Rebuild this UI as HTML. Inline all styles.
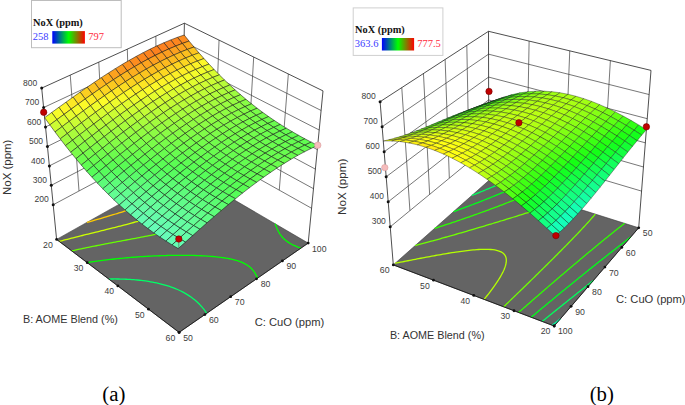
<!DOCTYPE html>
<html><head><meta charset="utf-8"><style>
html,body{margin:0;padding:0;background:#fff;width:685px;height:405px;overflow:hidden;font-family:"Liberation Sans",sans-serif;}
svg{display:block;}
</style></head><body>
<svg width="685" height="405" viewBox="0 0 685 405" font-family="Liberation Sans, sans-serif">
<polygon points="56.60,239.40 179.10,332.40 308.20,243.10 181.70,169.20" fill="#646464" stroke="#3a3a3a" stroke-width="0.6"/>
<line x1="53.19" y1="204.78" x2="182.32" y2="135.80" stroke="#3c3c3c" stroke-width="0.7"/>
<line x1="182.32" y1="135.80" x2="311.59" y2="208.28" stroke="#3c3c3c" stroke-width="0.7"/>
<line x1="51.28" y1="185.34" x2="182.66" y2="117.03" stroke="#3c3c3c" stroke-width="0.7"/>
<line x1="182.66" y1="117.03" x2="313.49" y2="188.71" stroke="#3c3c3c" stroke-width="0.7"/>
<line x1="49.36" y1="165.89" x2="183.01" y2="98.26" stroke="#3c3c3c" stroke-width="0.7"/>
<line x1="183.01" y1="98.26" x2="315.39" y2="169.15" stroke="#3c3c3c" stroke-width="0.7"/>
<line x1="47.45" y1="146.44" x2="183.36" y2="79.50" stroke="#3c3c3c" stroke-width="0.7"/>
<line x1="183.36" y1="79.50" x2="317.29" y2="149.59" stroke="#3c3c3c" stroke-width="0.7"/>
<line x1="45.53" y1="126.99" x2="183.71" y2="60.73" stroke="#3c3c3c" stroke-width="0.7"/>
<line x1="183.71" y1="60.73" x2="319.20" y2="130.03" stroke="#3c3c3c" stroke-width="0.7"/>
<line x1="43.62" y1="107.55" x2="184.05" y2="41.97" stroke="#3c3c3c" stroke-width="0.7"/>
<line x1="184.05" y1="41.97" x2="321.10" y2="110.46" stroke="#3c3c3c" stroke-width="0.7"/>
<line x1="79.02" y1="190.99" x2="70.24" y2="75.12" stroke="#3c3c3c" stroke-width="0.7"/>
<line x1="104.84" y1="177.19" x2="98.78" y2="62.14" stroke="#3c3c3c" stroke-width="0.7"/>
<line x1="130.67" y1="163.39" x2="127.32" y2="49.16" stroke="#3c3c3c" stroke-width="0.7"/>
<line x1="156.49" y1="149.59" x2="155.86" y2="36.18" stroke="#3c3c3c" stroke-width="0.7"/>
<line x1="214.63" y1="153.92" x2="219.05" y2="40.12" stroke="#3c3c3c" stroke-width="0.7"/>
<line x1="246.95" y1="172.04" x2="253.70" y2="57.05" stroke="#3c3c3c" stroke-width="0.7"/>
<line x1="279.27" y1="190.16" x2="288.35" y2="73.98" stroke="#3c3c3c" stroke-width="0.7"/>
<line x1="41.70" y1="88.10" x2="184.40" y2="23.20" stroke="#222" stroke-width="0.8"/>
<line x1="184.40" y1="23.20" x2="323.00" y2="90.90" stroke="#222" stroke-width="0.8"/>
<line x1="56.60" y1="239.40" x2="41.70" y2="88.10" stroke="#222" stroke-width="0.8"/>
<line x1="181.70" y1="169.20" x2="184.40" y2="23.20" stroke="#222" stroke-width="0.8"/>
<line x1="308.20" y1="243.10" x2="323.00" y2="90.90" stroke="#222" stroke-width="0.8"/>
<polyline points="206.73,313.29 205.92,312.10 204.91,310.69 203.78,309.21 202.88,308.08 201.47,306.44 200.49,305.37 198.98,303.80 197.93,302.77 196.31,301.28 194.61,299.83 192.85,298.43 191.64,297.53 189.96,296.34 188.47,295.35 186.47,294.11 184.40,292.91 182.52,291.90 180.79,291.03 178.67,290.03 176.97,289.28 175.38,288.62 172.94,287.66 171.26,287.06 169.56,286.47 167.81,285.90 166.04,285.36 164.01,284.78 162.08,284.26 160.21,283.79 158.41,283.36 156.61,282.96 154.62,282.54 152.59,282.15 150.52,281.78 148.56,281.45 147.03,281.22 145.19,280.95 142.99,280.65 141.19,280.43 139.61,280.25 137.31,280.02 135.66,279.86 133.78,279.70 131.69,279.55 130.16,279.44 127.83,279.31 126.44,279.24 124.08,279.14 122.61,279.09 120.43,279.03 118.69,279.00 116.86,278.98 114.64,278.97 113.27,278.98 111.07,279.00 109.07,279.03 108.81,279.04" fill="none" stroke="#00ff66" stroke-width="1.3"/>
<polyline points="257.53,278.15 256.97,276.85 256.37,275.58 255.73,274.34 255.03,273.15 254.28,271.99 253.46,270.87 252.29,269.47 251.16,268.27 249.58,266.86 248.43,265.96 246.58,264.71 244.58,263.58 243.16,262.88 240.90,261.91 239.31,261.32 237.41,260.70 235.08,260.02 233.29,259.56 231.44,259.13 229.55,258.74 227.61,258.38 225.62,258.04 223.78,257.76 222.13,257.52 220.48,257.31 218.36,257.05 216.20,256.82 214.36,256.64 212.88,256.51 210.66,256.32 208.55,256.17 207.13,256.07 204.93,255.94 202.96,255.83 201.40,255.75 199.01,255.65 197.57,255.60 195.38,255.52 193.62,255.47 191.69,255.42 189.74,255.39 187.94,255.36 185.93,255.34 184.13,255.32 182.17,255.31 180.27,255.31 178.47,255.32 176.35,255.33 174.82,255.35 172.42,255.38 171.02,255.41 168.84,255.45 166.96,255.49 165.31,255.54 162.98,255.61 161.45,255.66 159.52,255.73 157.25,255.82 155.83,255.88 153.83,255.97 151.57,256.08 150.09,256.15 148.23,256.25 146.02,256.38 144.23,256.49 142.72,256.58 140.55,256.72 138.38,256.87 136.71,256.99 135.16,257.11 133.03,257.27 130.91,257.44 128.97,257.61 127.40,257.74 125.67,257.90 123.59,258.09 121.53,258.29 119.48,258.49 117.72,258.67 116.06,258.84 114.40,259.02 112.39,259.24 110.39,259.47 108.40,259.71 106.42,259.95 104.45,260.19 102.49,260.44 100.61,260.69 98.83,260.93 97.02,261.18 95.20,261.44 93.36,261.70 91.50,261.98 89.63,262.26 87.73,262.56 87.21,262.64" fill="none" stroke="#00ff00" stroke-width="1.3"/>
<polyline points="275.18,223.81 275.61,225.06 276.09,226.33 276.59,227.59 277.12,228.82 277.69,230.03 278.30,231.22 278.95,232.39 279.64,233.53 280.38,234.63 281.16,235.71 282.00,236.75 283.36,238.25 284.34,239.20 285.91,240.56 287.03,241.41 288.81,242.63 290.72,243.76 292.74,244.81 294.15,245.47 296.34,246.41 297.98,247.04 300.19,247.83 300.98,248.09" fill="none" stroke="#00ff00" stroke-width="1.3"/>
<polyline points="231.70,198.41 230.91,199.48 230.10,200.53 229.04,201.83 227.95,203.10 227.05,204.10 225.90,205.30 224.65,206.54 223.64,207.48 222.08,208.87 220.47,210.20 219.32,211.10 217.58,212.38 215.77,213.63 213.90,214.83 211.96,216.00 209.97,217.13 207.91,218.22 205.79,219.28 204.35,219.96 202.15,220.96 200.64,221.60 198.35,222.54 196.79,223.14 194.42,224.03 192.81,224.60 191.06,225.20 188.72,225.97 187.05,226.50 185.36,227.02 183.19,227.66 181.09,228.26 179.36,228.74 177.61,229.21 175.86,229.67 173.90,230.17 171.70,230.72 169.63,231.22 167.83,231.64 166.02,232.06 164.21,232.47 162.39,232.88 160.57,233.28 158.73,233.67 156.90,234.06 155.03,234.45 153.02,234.86 151.02,235.27 149.03,235.67 147.04,236.07 145.06,236.46 143.08,236.84 141.19,237.21 139.33,237.56 137.48,237.92 135.62,238.27 133.77,238.62 131.91,238.97 130.06,239.32 128.21,239.66 126.36,240.01 124.52,240.35 122.67,240.70 120.83,241.04 118.99,241.39 117.15,241.73 115.32,242.08 113.33,242.45 111.31,242.83 109.28,243.22 107.24,243.61 105.30,243.98 103.49,244.33 101.68,244.68 99.88,245.03 98.09,245.38 96.30,245.74 94.51,246.09 92.63,246.47 90.49,246.90 88.33,247.35 86.53,247.72 84.77,248.08 83.02,248.45 81.27,248.82 79.49,249.20 77.23,249.70 75.20,250.14 73.48,250.52 71.76,250.91 71.76,250.91" fill="none" stroke="#66ff00" stroke-width="1.3"/>
<polyline points="209.79,185.61 208.38,187.02 207.41,187.94 206.11,189.14 204.91,190.21 203.37,191.52 202.28,192.41 200.65,193.69 199.45,194.60 197.83,195.78 196.08,197.00 194.28,198.20 192.45,199.36 190.57,200.51 188.66,201.63 186.70,202.72 184.71,203.80 182.68,204.84 180.61,205.87 179.22,206.54 177.10,207.53 174.94,208.49 173.49,209.12 171.28,210.05 169.70,210.70 167.54,211.56 165.80,212.23 163.72,213.01 162.18,213.58 159.84,214.42 158.27,214.97 155.90,215.78 154.31,216.31 152.70,216.83 150.29,217.61 148.67,218.12 146.99,218.64 144.59,219.36 142.95,219.85 141.30,220.34 138.87,221.04 137.16,221.53 135.49,221.99 133.67,222.50 131.31,223.15 129.63,223.60 127.95,224.05 126.10,224.54 123.74,225.16 122.05,225.60 120.36,226.04 118.66,226.48 116.25,227.09 114.43,227.55 112.73,227.98 111.04,228.40 108.94,228.93 106.80,229.46 105.10,229.88 103.41,230.30 101.65,230.73 99.22,231.33 97.48,231.76 95.79,232.18 94.10,232.59 91.87,233.14 89.89,233.63 88.21,234.04 86.53,234.46 84.44,234.98 82.34,235.50 80.67,235.91 79.00,236.33 76.87,236.87 74.85,237.38 73.19,237.80 71.54,238.22 69.11,238.84 67.42,239.28 65.78,239.70 63.81,240.22 61.70,240.77 60.07,241.21 59.26,241.42" fill="none" stroke="#ccff00" stroke-width="1.3"/>
<polyline points="193.59,176.14 192.59,177.02 191.06,178.32 190.02,179.18 188.44,180.45 186.81,181.69 185.71,182.52 184.03,183.73 182.32,184.93 180.95,185.86 179.39,186.88 177.59,188.03 175.75,189.16 173.89,190.26 171.99,191.35 170.07,192.42 168.11,193.47 166.13,194.51 164.50,195.33 162.76,196.19 160.71,197.18 158.63,198.15 157.00,198.89 155.11,199.73 152.96,200.66 151.52,201.27 149.35,202.17 147.15,203.06 145.67,203.64 143.44,204.51 141.95,205.08 139.69,205.92 138.17,206.48 135.89,207.30 134.36,207.84 132.05,208.64 130.51,209.17 128.42,209.88 126.62,210.48 125.06,210.99 122.71,211.76 121.13,212.26 118.89,212.97 117.18,213.51 115.59,214.00 113.21,214.73 111.62,215.22 109.88,215.74 107.62,216.42 106.02,216.89 104.05,217.47 102.01,218.07 100.41,218.54 98.30,219.15 96.39,219.70 94.78,220.16 92.60,220.78 90.76,221.30 89.15,221.76 86.91,222.39 86.91,222.39" fill="none" stroke="#ffcc00" stroke-width="1.3"/>
<polyline points="172.38,174.43 171.15,175.28 169.43,176.44 167.69,177.58 165.91,178.71 164.35,179.68 162.90,180.55 161.05,181.64 159.18,182.71 157.28,183.76 155.36,184.80 153.42,185.83 152.11,186.50 150.13,187.50 148.13,188.48 146.10,189.46 144.06,190.41 143.17,190.82" fill="none" stroke="#ff6600" stroke-width="1.3"/>
<line x1="56.60" y1="239.40" x2="179.10" y2="332.40" stroke="#111" stroke-width="0.8"/>
<line x1="179.10" y1="332.40" x2="308.20" y2="243.10" stroke="#111" stroke-width="0.8"/>
<polygon points="177.45,37.33 182.35,43.45 189.06,41.08 184.18,35.00" fill="#fc8c1f" stroke="#141414" stroke-width="0.6" stroke-opacity="0.9"/>
<polygon points="182.35,43.45 187.29,49.45 193.99,47.03 189.06,41.08" fill="#fca81f" stroke="#141414" stroke-width="0.6" stroke-opacity="0.9"/>
<polygon points="170.67,39.91 175.59,46.08 182.35,43.45 177.45,37.33" fill="#fc861f" stroke="#141414" stroke-width="0.6" stroke-opacity="0.9"/>
<polygon points="187.29,49.45 192.27,55.31 198.95,52.85 193.99,47.03" fill="#fcc41f" stroke="#141414" stroke-width="0.6" stroke-opacity="0.9"/>
<polygon points="175.59,46.08 180.55,52.12 187.29,49.45 182.35,43.45" fill="#fca31f" stroke="#141414" stroke-width="0.6" stroke-opacity="0.9"/>
<polygon points="163.86,42.75 168.79,48.96 175.59,46.08 170.67,39.91" fill="#fc831f" stroke="#141414" stroke-width="0.6" stroke-opacity="0.9"/>
<polygon points="192.27,55.31 197.30,61.04 203.97,58.54 198.95,52.85" fill="#fcde23" stroke="#141414" stroke-width="0.6" stroke-opacity="0.9"/>
<polygon points="180.55,52.12 185.54,58.03 192.27,55.31 187.29,49.45" fill="#fcbf1f" stroke="#141414" stroke-width="0.6" stroke-opacity="0.9"/>
<polygon points="168.79,48.96 173.76,55.05 180.55,52.12 175.59,46.08" fill="#fca01f" stroke="#141414" stroke-width="0.6" stroke-opacity="0.9"/>
<polygon points="157.00,45.82 161.96,52.08 168.79,48.96 163.86,42.75" fill="#fc811f" stroke="#141414" stroke-width="0.6" stroke-opacity="0.9"/>
<polygon points="197.30,61.04 202.37,66.65 209.03,64.10 203.97,58.54" fill="#fcf728" stroke="#141414" stroke-width="0.6" stroke-opacity="0.9"/>
<polygon points="185.54,58.03 190.58,63.81 197.30,61.04 192.27,55.31" fill="#fcd922" stroke="#141414" stroke-width="0.6" stroke-opacity="0.9"/>
<polygon points="173.76,55.05 178.78,61.00 185.54,58.03 180.55,52.12" fill="#fcbb1f" stroke="#141414" stroke-width="0.6" stroke-opacity="0.9"/>
<polygon points="161.96,52.08 166.94,58.22 173.76,55.05 168.79,48.96" fill="#fc9e1f" stroke="#141414" stroke-width="0.6" stroke-opacity="0.9"/>
<polygon points="202.37,66.65 207.49,72.11 214.14,69.53 209.03,64.10" fill="#ecfc2c" stroke="#141414" stroke-width="0.6" stroke-opacity="0.9"/>
<polygon points="150.12,49.12 155.09,55.43 161.96,52.08 157.00,45.82" fill="#fc811f" stroke="#141414" stroke-width="0.6" stroke-opacity="0.9"/>
<polygon points="190.58,63.81 195.67,69.45 202.37,66.65 197.30,61.04" fill="#fcf227" stroke="#141414" stroke-width="0.6" stroke-opacity="0.9"/>
<polygon points="178.78,61.00 183.83,66.82 190.58,63.81 185.54,58.03" fill="#fcd621" stroke="#141414" stroke-width="0.6" stroke-opacity="0.9"/>
<polygon points="166.94,58.22 171.97,64.21 178.78,61.00 173.76,55.05" fill="#fcba1f" stroke="#141414" stroke-width="0.6" stroke-opacity="0.9"/>
<polygon points="207.49,72.11 212.67,77.45 219.30,74.83 214.14,69.53" fill="#d9fc31" stroke="#141414" stroke-width="0.6" stroke-opacity="0.9"/>
<polygon points="155.09,55.43 160.09,61.61 166.94,58.22 161.96,52.08" fill="#fc9e1f" stroke="#141414" stroke-width="0.6" stroke-opacity="0.9"/>
<polygon points="195.67,69.45 200.80,74.96 207.49,72.11 202.37,66.65" fill="#f1fc2b" stroke="#141414" stroke-width="0.6" stroke-opacity="0.9"/>
<polygon points="143.21,52.63 148.19,59.00 155.09,55.43 150.12,49.12" fill="#fc831f" stroke="#141414" stroke-width="0.6" stroke-opacity="0.9"/>
<polygon points="183.83,66.82 188.93,72.51 195.67,69.45 190.58,63.81" fill="#fcef26" stroke="#141414" stroke-width="0.6" stroke-opacity="0.9"/>
<polygon points="171.97,64.21 177.04,70.08 183.83,66.82 178.78,61.00" fill="#fcd421" stroke="#141414" stroke-width="0.6" stroke-opacity="0.9"/>
<polygon points="212.67,77.45 217.89,82.65 224.51,79.99 219.30,74.83" fill="#c7fc35" stroke="#141414" stroke-width="0.6" stroke-opacity="0.9"/>
<polygon points="160.09,61.61 165.13,67.66 171.97,64.21 166.94,58.22" fill="#fcba1f" stroke="#141414" stroke-width="0.6" stroke-opacity="0.9"/>
<polygon points="200.80,74.96 205.99,80.33 212.67,77.45 207.49,72.11" fill="#ddfc30" stroke="#141414" stroke-width="0.6" stroke-opacity="0.9"/>
<polygon points="148.19,59.00 153.21,65.23 160.09,61.61 155.09,55.43" fill="#fca01f" stroke="#141414" stroke-width="0.6" stroke-opacity="0.9"/>
<polygon points="188.93,72.51 194.07,78.06 200.80,74.96 195.67,69.45" fill="#f4fc2b" stroke="#141414" stroke-width="0.6" stroke-opacity="0.9"/>
<polygon points="136.27,56.36 141.27,62.77 148.19,59.00 143.21,52.63" fill="#fc871f" stroke="#141414" stroke-width="0.6" stroke-opacity="0.9"/>
<polygon points="177.04,70.08 182.15,75.81 188.93,72.51 183.83,66.82" fill="#fced26" stroke="#141414" stroke-width="0.6" stroke-opacity="0.9"/>
<polygon points="217.89,82.65 223.18,87.72 229.79,85.03 224.51,79.99" fill="#b7fc39" stroke="#141414" stroke-width="0.6" stroke-opacity="0.9"/>
<polygon points="165.13,67.66 170.21,73.57 177.04,70.08 171.97,64.21" fill="#fcd521" stroke="#141414" stroke-width="0.6" stroke-opacity="0.9"/>
<polygon points="205.99,80.33 211.23,85.57 217.89,82.65 212.67,77.45" fill="#cbfc34" stroke="#141414" stroke-width="0.6" stroke-opacity="0.9"/>
<polygon points="153.21,65.23 158.26,71.32 165.13,67.66 160.09,61.61" fill="#fcbc1f" stroke="#141414" stroke-width="0.6" stroke-opacity="0.9"/>
<polygon points="194.07,78.06 199.27,83.47 205.99,80.33 200.80,74.96" fill="#e0fc2f" stroke="#141414" stroke-width="0.6" stroke-opacity="0.9"/>
<polygon points="141.27,62.77 146.30,69.05 153.21,65.23 148.19,59.00" fill="#fca41f" stroke="#141414" stroke-width="0.6" stroke-opacity="0.9"/>
<polygon points="182.15,75.81 187.30,81.40 194.07,78.06 188.93,72.51" fill="#f5fc2a" stroke="#141414" stroke-width="0.6" stroke-opacity="0.9"/>
<polygon points="129.31,60.27 134.33,66.74 141.27,62.77 136.27,56.36" fill="#fc8c1f" stroke="#141414" stroke-width="0.6" stroke-opacity="0.9"/>
<polygon points="170.21,73.57 175.33,79.35 182.15,75.81 177.04,70.08" fill="#fcee26" stroke="#141414" stroke-width="0.6" stroke-opacity="0.9"/>
<polygon points="223.18,87.72 228.52,92.65 235.12,89.92 229.79,85.03" fill="#a9fc3c" stroke="#141414" stroke-width="0.6" stroke-opacity="0.9"/>
<polygon points="211.23,85.57 216.52,90.68 223.18,87.72 217.89,82.65" fill="#bbfc38" stroke="#141414" stroke-width="0.6" stroke-opacity="0.9"/>
<polygon points="158.26,71.32 163.35,77.28 170.21,73.57 165.13,67.66" fill="#fcd721" stroke="#141414" stroke-width="0.6" stroke-opacity="0.9"/>
<polygon points="199.27,83.47 204.51,88.75 211.23,85.57 205.99,80.33" fill="#cefc33" stroke="#141414" stroke-width="0.6" stroke-opacity="0.9"/>
<polygon points="146.30,69.05 151.37,75.20 158.26,71.32 153.21,65.23" fill="#fcc01f" stroke="#141414" stroke-width="0.6" stroke-opacity="0.9"/>
<polygon points="187.30,81.40 192.51,86.86 199.27,83.47 194.07,78.06" fill="#e1fc2f" stroke="#141414" stroke-width="0.6" stroke-opacity="0.9"/>
<polygon points="134.33,66.74 139.37,73.08 146.30,69.05 141.27,62.77" fill="#fca91f" stroke="#141414" stroke-width="0.6" stroke-opacity="0.9"/>
<polygon points="175.33,79.35 180.50,84.99 187.30,81.40 182.15,75.81" fill="#f5fc2a" stroke="#141414" stroke-width="0.6" stroke-opacity="0.9"/>
<polygon points="228.52,92.65 233.93,97.45 240.52,94.69 235.12,89.92" fill="#9dfc3f" stroke="#141414" stroke-width="0.6" stroke-opacity="0.9"/>
<polygon points="163.35,77.28 168.49,83.11 175.33,79.35 170.21,73.57" fill="#fcf026" stroke="#141414" stroke-width="0.6" stroke-opacity="0.9"/>
<polygon points="122.33,64.37 127.36,70.90 134.33,66.74 129.31,60.27" fill="#fc921f" stroke="#141414" stroke-width="0.6" stroke-opacity="0.9"/>
<polygon points="216.52,90.68 221.87,95.64 228.52,92.65 223.18,87.72" fill="#adfc3b" stroke="#141414" stroke-width="0.6" stroke-opacity="0.9"/>
<polygon points="204.51,88.75 209.81,93.89 216.52,90.68 211.23,85.57" fill="#befc37" stroke="#141414" stroke-width="0.6" stroke-opacity="0.9"/>
<polygon points="151.37,75.20 156.47,81.21 163.35,77.28 158.26,71.32" fill="#fcdb22" stroke="#141414" stroke-width="0.6" stroke-opacity="0.9"/>
<polygon points="192.51,86.86 197.76,92.18 204.51,88.75 199.27,83.47" fill="#cffc33" stroke="#141414" stroke-width="0.6" stroke-opacity="0.9"/>
<polygon points="139.37,73.08 144.45,79.27 151.37,75.20 146.30,69.05" fill="#fcc51f" stroke="#141414" stroke-width="0.6" stroke-opacity="0.9"/>
<polygon points="180.50,84.99 185.71,90.49 192.51,86.86 187.30,81.40" fill="#e1fc2f" stroke="#141414" stroke-width="0.6" stroke-opacity="0.9"/>
<polygon points="233.93,97.45 239.40,102.11 245.99,99.32 240.52,94.69" fill="#92fc42" stroke="#141414" stroke-width="0.6" stroke-opacity="0.9"/>
<polygon points="127.36,70.90 132.42,77.28 139.37,73.08 134.33,66.74" fill="#fcaf1f" stroke="#141414" stroke-width="0.6" stroke-opacity="0.9"/>
<polygon points="168.49,83.11 173.66,88.79 180.50,84.99 175.33,79.35" fill="#f3fc2b" stroke="#141414" stroke-width="0.6" stroke-opacity="0.9"/>
<polygon points="221.87,95.64 227.28,100.48 233.93,97.45 228.52,92.65" fill="#a1fc3e" stroke="#141414" stroke-width="0.6" stroke-opacity="0.9"/>
<polygon points="156.47,81.21 161.61,87.08 168.49,83.11 163.35,77.28" fill="#fcf327" stroke="#141414" stroke-width="0.6" stroke-opacity="0.9"/>
<polygon points="209.81,93.89 215.17,98.90 221.87,95.64 216.52,90.68" fill="#b0fc3a" stroke="#141414" stroke-width="0.6" stroke-opacity="0.9"/>
<polygon points="115.34,68.64 120.38,75.22 127.36,70.90 122.33,64.37" fill="#fc991f" stroke="#141414" stroke-width="0.6" stroke-opacity="0.9"/>
<polygon points="197.76,92.18 203.07,97.36 209.81,93.89 204.51,88.75" fill="#bffc37" stroke="#141414" stroke-width="0.6" stroke-opacity="0.9"/>
<polygon points="144.45,79.27 149.56,85.33 156.47,81.21 151.37,75.20" fill="#fce023" stroke="#141414" stroke-width="0.6" stroke-opacity="0.9"/>
<polygon points="185.71,90.49 190.97,95.85 197.76,92.18 192.51,86.86" fill="#cffc33" stroke="#141414" stroke-width="0.6" stroke-opacity="0.9"/>
<polygon points="132.42,77.28 137.51,83.53 144.45,79.27 139.37,73.08" fill="#fccb1f" stroke="#141414" stroke-width="0.6" stroke-opacity="0.9"/>
<polygon points="239.40,102.11 244.94,106.64 251.52,103.82 245.99,99.32" fill="#88fc45" stroke="#141414" stroke-width="0.6" stroke-opacity="0.9"/>
<polygon points="173.66,88.79 178.88,94.34 185.71,90.49 180.50,84.99" fill="#dffc2f" stroke="#141414" stroke-width="0.6" stroke-opacity="0.9"/>
<polygon points="227.28,100.48 232.76,105.17 239.40,102.11 233.93,97.45" fill="#96fc41" stroke="#141414" stroke-width="0.6" stroke-opacity="0.9"/>
<polygon points="120.38,75.22 125.45,81.67 132.42,77.28 127.36,70.90" fill="#fcb71f" stroke="#141414" stroke-width="0.6" stroke-opacity="0.9"/>
<polygon points="161.61,87.08 166.80,92.81 173.66,88.79 168.49,83.11" fill="#effc2c" stroke="#141414" stroke-width="0.6" stroke-opacity="0.9"/>
<polygon points="215.17,98.90 220.59,103.77 227.28,100.48 221.87,95.64" fill="#a3fc3e" stroke="#141414" stroke-width="0.6" stroke-opacity="0.9"/>
<polygon points="203.07,97.36 208.43,102.41 215.17,98.90 209.81,93.89" fill="#b1fc3a" stroke="#141414" stroke-width="0.6" stroke-opacity="0.9"/>
<polygon points="149.56,85.33 154.71,91.25 161.61,87.08 156.47,81.21" fill="#fcf828" stroke="#141414" stroke-width="0.6" stroke-opacity="0.9"/>
<polygon points="108.32,73.07 113.38,79.71 120.38,75.22 115.34,68.64" fill="#fca21f" stroke="#141414" stroke-width="0.6" stroke-opacity="0.9"/>
<polygon points="190.97,95.85 196.29,101.07 203.07,97.36 197.76,92.18" fill="#bffc37" stroke="#141414" stroke-width="0.6" stroke-opacity="0.9"/>
<polygon points="137.51,83.53 142.63,89.65 149.56,85.33 144.45,79.27" fill="#fce624" stroke="#141414" stroke-width="0.6" stroke-opacity="0.9"/>
<polygon points="178.88,94.34 184.15,99.74 190.97,95.85 185.71,90.49" fill="#cdfc33" stroke="#141414" stroke-width="0.6" stroke-opacity="0.9"/>
<polygon points="244.94,106.64 250.54,111.04 257.12,108.19 251.52,103.82" fill="#80fc48" stroke="#141414" stroke-width="0.6" stroke-opacity="0.9"/>
<polygon points="125.45,81.67 130.55,87.97 137.51,83.53 132.42,77.28" fill="#fcd320" stroke="#141414" stroke-width="0.6" stroke-opacity="0.9"/>
<polygon points="232.76,105.17 238.30,109.74 244.94,106.64 239.40,102.11" fill="#8cfc44" stroke="#141414" stroke-width="0.6" stroke-opacity="0.9"/>
<polygon points="166.80,92.81 172.02,98.40 178.88,94.34 173.66,88.79" fill="#dbfc30" stroke="#141414" stroke-width="0.6" stroke-opacity="0.9"/>
<polygon points="220.59,103.77 226.07,108.50 232.76,105.17 227.28,100.48" fill="#98fc41" stroke="#141414" stroke-width="0.6" stroke-opacity="0.9"/>
<polygon points="113.38,79.71 118.46,86.21 125.45,81.67 120.38,75.22" fill="#fcc01f" stroke="#141414" stroke-width="0.6" stroke-opacity="0.9"/>
<polygon points="154.71,91.25 159.91,97.04 166.80,92.81 161.61,87.08" fill="#eafc2d" stroke="#141414" stroke-width="0.6" stroke-opacity="0.9"/>
<polygon points="208.43,102.41 213.85,107.31 220.59,103.77 215.17,98.90" fill="#a4fc3d" stroke="#141414" stroke-width="0.6" stroke-opacity="0.9"/>
<polygon points="196.29,101.07 201.65,106.15 208.43,102.41 203.07,97.36" fill="#b0fc3a" stroke="#141414" stroke-width="0.6" stroke-opacity="0.9"/>
<polygon points="142.63,89.65 147.79,95.62 154.71,91.25 149.56,85.33" fill="#fafc29" stroke="#141414" stroke-width="0.6" stroke-opacity="0.9"/>
<polygon points="101.29,77.64 106.36,84.34 113.38,79.71 108.32,73.07" fill="#fcac1f" stroke="#141414" stroke-width="0.6" stroke-opacity="0.9"/>
<polygon points="184.15,99.74 189.47,105.01 196.29,101.07 190.97,95.85" fill="#bdfc37" stroke="#141414" stroke-width="0.6" stroke-opacity="0.9"/>
<polygon points="130.55,87.97 135.68,94.14 142.63,89.65 137.51,83.53" fill="#fcee26" stroke="#141414" stroke-width="0.6" stroke-opacity="0.9"/>
<polygon points="250.54,111.04 256.23,115.31 262.80,112.44 257.12,108.19" fill="#79fc4a" stroke="#141414" stroke-width="0.6" stroke-opacity="0.9"/>
<polygon points="172.02,98.40 177.30,103.85 184.15,99.74 178.88,94.34" fill="#c9fc34" stroke="#141414" stroke-width="0.6" stroke-opacity="0.9"/>
<polygon points="238.30,109.74 243.91,114.17 250.54,111.04 244.94,106.64" fill="#84fc46" stroke="#141414" stroke-width="0.6" stroke-opacity="0.9"/>
<polygon points="226.07,108.50 231.62,113.10 238.30,109.74 232.76,105.17" fill="#8efc43" stroke="#141414" stroke-width="0.6" stroke-opacity="0.9"/>
<polygon points="118.46,86.21 123.58,92.57 130.55,87.97 125.45,81.67" fill="#fcdd22" stroke="#141414" stroke-width="0.6" stroke-opacity="0.9"/>
<polygon points="159.91,97.04 165.14,102.67 172.02,98.40 166.80,92.81" fill="#d6fc31" stroke="#141414" stroke-width="0.6" stroke-opacity="0.9"/>
<polygon points="213.85,107.31 219.34,112.08 226.07,108.50 220.59,103.77" fill="#99fc40" stroke="#141414" stroke-width="0.6" stroke-opacity="0.9"/>
<polygon points="147.79,95.62 152.99,101.45 159.91,97.04 154.71,91.25" fill="#e4fc2e" stroke="#141414" stroke-width="0.6" stroke-opacity="0.9"/>
<polygon points="106.36,84.34 111.46,90.90 118.46,86.21 113.38,79.71" fill="#fcca1f" stroke="#141414" stroke-width="0.6" stroke-opacity="0.9"/>
<polygon points="201.65,106.15 207.08,111.10 213.85,107.31 208.43,102.41" fill="#a4fc3e" stroke="#141414" stroke-width="0.6" stroke-opacity="0.9"/>
<polygon points="189.47,105.01 194.84,110.13 201.65,106.15 196.29,101.07" fill="#aefc3b" stroke="#141414" stroke-width="0.6" stroke-opacity="0.9"/>
<polygon points="135.68,94.14 140.85,100.16 147.79,95.62 142.63,89.65" fill="#f3fc2b" stroke="#141414" stroke-width="0.6" stroke-opacity="0.9"/>
<polygon points="94.25,82.35 99.34,89.10 106.36,84.34 101.29,77.64" fill="#fcb71f" stroke="#141414" stroke-width="0.6" stroke-opacity="0.9"/>
<polygon points="256.23,115.31 261.98,119.46 268.55,116.55 262.80,112.44" fill="#73fc4c" stroke="#141414" stroke-width="0.6" stroke-opacity="0.9"/>
<polygon points="177.30,103.85 182.62,109.16 189.47,105.01 184.15,99.74" fill="#b9fc38" stroke="#141414" stroke-width="0.6" stroke-opacity="0.9"/>
<polygon points="243.91,114.17 249.60,118.47 256.23,115.31 250.54,111.04" fill="#7cfc49" stroke="#141414" stroke-width="0.6" stroke-opacity="0.9"/>
<polygon points="123.58,92.57 128.72,98.79 135.68,94.14 130.55,87.97" fill="#fcf728" stroke="#141414" stroke-width="0.6" stroke-opacity="0.9"/>
<polygon points="165.14,102.67 170.42,108.17 177.30,103.85 172.02,98.40" fill="#c5fc35" stroke="#141414" stroke-width="0.6" stroke-opacity="0.9"/>
<polygon points="231.62,113.10 237.23,117.56 243.91,114.17 238.30,109.74" fill="#86fc46" stroke="#141414" stroke-width="0.6" stroke-opacity="0.9"/>
<polygon points="219.34,112.08 224.89,116.71 231.62,113.10 226.07,108.50" fill="#8ffc43" stroke="#141414" stroke-width="0.6" stroke-opacity="0.9"/>
<polygon points="111.46,90.90 116.58,97.32 123.58,92.57 118.46,86.21" fill="#fce724" stroke="#141414" stroke-width="0.6" stroke-opacity="0.9"/>
<polygon points="152.99,101.45 158.23,107.14 165.14,102.67 159.91,97.04" fill="#d1fc32" stroke="#141414" stroke-width="0.6" stroke-opacity="0.9"/>
<polygon points="207.08,111.10 212.57,115.90 219.34,112.08 213.85,107.31" fill="#99fc41" stroke="#141414" stroke-width="0.6" stroke-opacity="0.9"/>
<polygon points="194.84,110.13 200.27,115.12 207.08,111.10 201.65,106.15" fill="#a2fc3e" stroke="#141414" stroke-width="0.6" stroke-opacity="0.9"/>
<polygon points="140.85,100.16 146.06,106.04 152.99,101.45 147.79,95.62" fill="#ddfc30" stroke="#141414" stroke-width="0.6" stroke-opacity="0.9"/>
<polygon points="99.34,89.10 104.45,95.72 111.46,90.90 106.36,84.34" fill="#fcd521" stroke="#141414" stroke-width="0.6" stroke-opacity="0.9"/>
<polygon points="182.62,109.16 188.00,114.33 194.84,110.13 189.47,105.01" fill="#abfc3c" stroke="#141414" stroke-width="0.6" stroke-opacity="0.9"/>
<polygon points="261.98,119.46 267.82,123.47 274.39,120.55 268.55,116.55" fill="#6efc4d" stroke="#141414" stroke-width="0.6" stroke-opacity="0.9"/>
<polygon points="128.72,98.79 133.90,104.87 140.85,100.16 135.68,94.14" fill="#eafc2d" stroke="#141414" stroke-width="0.6" stroke-opacity="0.9"/>
<polygon points="87.20,87.17 92.30,93.99 99.34,89.10 94.25,82.35" fill="#fcc21f" stroke="#141414" stroke-width="0.6" stroke-opacity="0.9"/>
<polygon points="249.60,118.47 255.36,122.64 261.98,119.46 256.23,115.31" fill="#76fc4a" stroke="#141414" stroke-width="0.6" stroke-opacity="0.9"/>
<polygon points="170.42,108.17 175.75,113.53 182.62,109.16 177.30,103.85" fill="#b5fc39" stroke="#141414" stroke-width="0.6" stroke-opacity="0.9"/>
<polygon points="237.23,117.56 242.92,121.89 249.60,118.47 243.91,114.17" fill="#7ffc48" stroke="#141414" stroke-width="0.6" stroke-opacity="0.9"/>
<polygon points="116.58,97.32 121.74,103.59 128.72,98.79 123.58,92.57" fill="#f8fc2a" stroke="#141414" stroke-width="0.6" stroke-opacity="0.9"/>
<polygon points="224.89,116.71 230.50,121.20 237.23,117.56 231.62,113.10" fill="#87fc45" stroke="#141414" stroke-width="0.6" stroke-opacity="0.9"/>
<polygon points="158.23,107.14 163.52,112.68 170.42,108.17 165.14,102.67" fill="#bffc37" stroke="#141414" stroke-width="0.6" stroke-opacity="0.9"/>
<polygon points="212.57,115.90 218.12,120.57 224.89,116.71 219.34,112.08" fill="#8ffc43" stroke="#141414" stroke-width="0.6" stroke-opacity="0.9"/>
<polygon points="104.45,95.72 109.58,102.20 116.58,97.32 111.46,90.90" fill="#fcf126" stroke="#141414" stroke-width="0.6" stroke-opacity="0.9"/>
<polygon points="146.06,106.04 151.31,111.78 158.23,107.14 152.99,101.45" fill="#cafc34" stroke="#141414" stroke-width="0.6" stroke-opacity="0.9"/>
<polygon points="200.27,115.12 205.76,119.96 212.57,115.90 207.08,111.10" fill="#97fc41" stroke="#141414" stroke-width="0.6" stroke-opacity="0.9"/>
<polygon points="188.00,114.33 193.43,119.36 200.27,115.12 194.84,110.13" fill="#9ffc3f" stroke="#141414" stroke-width="0.6" stroke-opacity="0.9"/>
<polygon points="133.90,104.87 139.11,110.80 146.06,106.04 140.85,100.16" fill="#d5fc32" stroke="#141414" stroke-width="0.6" stroke-opacity="0.9"/>
<polygon points="92.30,93.99 97.42,100.66 104.45,95.72 99.34,89.10" fill="#fce123" stroke="#141414" stroke-width="0.6" stroke-opacity="0.9"/>
<polygon points="267.82,123.47 273.74,127.37 280.31,124.42 274.39,120.55" fill="#6afc4e" stroke="#141414" stroke-width="0.6" stroke-opacity="0.9"/>
<polygon points="175.75,113.53 181.13,118.74 188.00,114.33 182.62,109.16" fill="#a7fc3d" stroke="#141414" stroke-width="0.6" stroke-opacity="0.9"/>
<polygon points="255.36,122.64 261.19,126.68 267.82,123.47 261.98,119.46" fill="#71fc4c" stroke="#141414" stroke-width="0.6" stroke-opacity="0.9"/>
<polygon points="121.74,103.59 126.93,109.73 133.90,104.87 128.72,98.79" fill="#e1fc2f" stroke="#141414" stroke-width="0.6" stroke-opacity="0.9"/>
<polygon points="242.92,121.89 248.68,126.09 255.36,122.64 249.60,118.47" fill="#79fc4a" stroke="#141414" stroke-width="0.6" stroke-opacity="0.9"/>
<polygon points="80.13,92.09 85.25,98.97 92.30,93.99 87.20,87.17" fill="#fccf20" stroke="#141414" stroke-width="0.6" stroke-opacity="0.9"/>
<polygon points="163.52,112.68 168.85,118.09 175.75,113.53 170.42,108.17" fill="#b0fc3a" stroke="#141414" stroke-width="0.6" stroke-opacity="0.9"/>
<polygon points="230.50,121.20 236.19,125.57 242.92,121.89 237.23,117.56" fill="#80fc48" stroke="#141414" stroke-width="0.6" stroke-opacity="0.9"/>
<polygon points="109.58,102.20 114.74,108.53 121.74,103.59 116.58,97.32" fill="#eefc2c" stroke="#141414" stroke-width="0.6" stroke-opacity="0.9"/>
<polygon points="218.12,120.57 223.74,125.10 230.50,121.20 224.89,116.71" fill="#87fc46" stroke="#141414" stroke-width="0.6" stroke-opacity="0.9"/>
<polygon points="151.31,111.78 156.60,117.38 163.52,112.68 158.23,107.14" fill="#b8fc38" stroke="#141414" stroke-width="0.6" stroke-opacity="0.9"/>
<polygon points="205.76,119.96 211.31,124.66 218.12,120.57 212.57,115.90" fill="#8dfc44" stroke="#141414" stroke-width="0.6" stroke-opacity="0.9"/>
<polygon points="139.11,110.80 144.37,116.59 151.31,111.78 146.06,106.04" fill="#c2fc36" stroke="#141414" stroke-width="0.6" stroke-opacity="0.9"/>
<polygon points="97.42,100.66 102.56,107.20 109.58,102.20 104.45,95.72" fill="#fcfc29" stroke="#141414" stroke-width="0.6" stroke-opacity="0.9"/>
<polygon points="193.43,119.36 198.92,124.24 205.76,119.96 200.27,115.12" fill="#94fc42" stroke="#141414" stroke-width="0.6" stroke-opacity="0.9"/>
<polygon points="181.13,118.74 186.56,123.81 193.43,119.36 188.00,114.33" fill="#9bfc40" stroke="#141414" stroke-width="0.6" stroke-opacity="0.9"/>
<polygon points="126.93,109.73 132.15,115.72 139.11,110.80 133.90,104.87" fill="#ccfc34" stroke="#141414" stroke-width="0.6" stroke-opacity="0.9"/>
<polygon points="273.74,127.37 279.74,131.15 286.31,128.18 280.31,124.42" fill="#66fc50" stroke="#141414" stroke-width="0.6" stroke-opacity="0.9"/>
<polygon points="85.25,98.97 90.38,105.71 97.42,100.66 92.30,93.99" fill="#fced26" stroke="#141414" stroke-width="0.6" stroke-opacity="0.9"/>
<polygon points="261.19,126.68 267.11,130.60 273.74,127.37 267.82,123.47" fill="#6dfc4d" stroke="#141414" stroke-width="0.6" stroke-opacity="0.9"/>
<polygon points="168.85,118.09 174.24,123.34 181.13,118.74 175.75,113.53" fill="#a2fc3e" stroke="#141414" stroke-width="0.6" stroke-opacity="0.9"/>
<polygon points="248.68,126.09 254.51,130.16 261.19,126.68 255.36,122.64" fill="#74fc4b" stroke="#141414" stroke-width="0.6" stroke-opacity="0.9"/>
<polygon points="236.19,125.57 241.95,129.79 248.68,126.09 242.92,121.89" fill="#7afc49" stroke="#141414" stroke-width="0.6" stroke-opacity="0.9"/>
<polygon points="114.74,108.53 119.94,114.72 126.93,109.73 121.74,103.59" fill="#d7fc31" stroke="#141414" stroke-width="0.6" stroke-opacity="0.9"/>
<polygon points="156.60,117.38 161.94,122.83 168.85,118.09 163.52,112.68" fill="#a9fc3c" stroke="#141414" stroke-width="0.6" stroke-opacity="0.9"/>
<polygon points="223.74,125.10 229.42,129.49 236.19,125.57 230.50,121.20" fill="#7ffc48" stroke="#141414" stroke-width="0.6" stroke-opacity="0.9"/>
<polygon points="73.05,97.10 78.18,104.04 85.25,98.97 80.13,92.09" fill="#fcdc22" stroke="#141414" stroke-width="0.6" stroke-opacity="0.9"/>
<polygon points="211.31,124.66 216.93,129.23 223.74,125.10 218.12,120.57" fill="#85fc46" stroke="#141414" stroke-width="0.6" stroke-opacity="0.9"/>
<polygon points="102.56,107.20 107.74,113.59 114.74,108.53 109.58,102.20" fill="#e3fc2e" stroke="#141414" stroke-width="0.6" stroke-opacity="0.9"/>
<polygon points="144.37,116.59 149.66,122.24 156.60,117.38 151.31,111.78" fill="#b1fc3a" stroke="#141414" stroke-width="0.6" stroke-opacity="0.9"/>
<polygon points="198.92,124.24 204.48,128.98 211.31,124.66 205.76,119.96" fill="#8bfc44" stroke="#141414" stroke-width="0.6" stroke-opacity="0.9"/>
<polygon points="132.15,115.72 137.41,121.56 144.37,116.59 139.11,110.80" fill="#b9fc38" stroke="#141414" stroke-width="0.6" stroke-opacity="0.9"/>
<polygon points="186.56,123.81 192.06,128.73 198.92,124.24 193.43,119.36" fill="#90fc43" stroke="#141414" stroke-width="0.6" stroke-opacity="0.9"/>
<polygon points="90.38,105.71 95.54,112.31 102.56,107.20 97.42,100.66" fill="#f0fc2b" stroke="#141414" stroke-width="0.6" stroke-opacity="0.9"/>
<polygon points="279.74,131.15 285.83,134.81 292.40,131.83 286.31,128.18" fill="#64fc50" stroke="#141414" stroke-width="0.6" stroke-opacity="0.9"/>
<polygon points="174.24,123.34 179.67,128.45 186.56,123.81 181.13,118.74" fill="#96fc41" stroke="#141414" stroke-width="0.6" stroke-opacity="0.9"/>
<polygon points="267.11,130.60 273.11,134.40 279.74,131.15 273.74,127.37" fill="#6afc4e" stroke="#141414" stroke-width="0.6" stroke-opacity="0.9"/>
<polygon points="119.94,114.72 125.17,120.77 132.15,115.72 126.93,109.73" fill="#c2fc36" stroke="#141414" stroke-width="0.6" stroke-opacity="0.9"/>
<polygon points="254.51,130.16 260.43,134.10 267.11,130.60 261.19,126.68" fill="#70fc4d" stroke="#141414" stroke-width="0.6" stroke-opacity="0.9"/>
<polygon points="78.18,104.04 83.33,110.85 90.38,105.71 85.25,98.97" fill="#fcfa28" stroke="#141414" stroke-width="0.6" stroke-opacity="0.9"/>
<polygon points="241.95,129.79 247.79,133.89 254.51,130.16 248.68,126.09" fill="#75fc4b" stroke="#141414" stroke-width="0.6" stroke-opacity="0.9"/>
<polygon points="161.94,122.83 167.32,128.13 174.24,123.34 168.85,118.09" fill="#9cfc40" stroke="#141414" stroke-width="0.6" stroke-opacity="0.9"/>
<polygon points="229.42,129.49 235.18,133.75 241.95,129.79 236.19,125.57" fill="#79fc49" stroke="#141414" stroke-width="0.6" stroke-opacity="0.9"/>
<polygon points="107.74,113.59 112.94,119.84 119.94,114.72 114.74,108.53" fill="#ccfc33" stroke="#141414" stroke-width="0.6" stroke-opacity="0.9"/>
<polygon points="216.93,129.23 222.62,133.66 229.42,129.49 223.74,125.10" fill="#7efc48" stroke="#141414" stroke-width="0.6" stroke-opacity="0.9"/>
<polygon points="149.66,122.24 155.00,127.74 161.94,122.83 156.60,117.38" fill="#a2fc3e" stroke="#141414" stroke-width="0.6" stroke-opacity="0.9"/>
<polygon points="65.96,102.18 71.11,109.19 78.18,104.04 73.05,97.10" fill="#fce925" stroke="#141414" stroke-width="0.6" stroke-opacity="0.9"/>
<polygon points="204.48,128.98 210.09,133.58 216.93,129.23 211.31,124.66" fill="#82fc47" stroke="#141414" stroke-width="0.6" stroke-opacity="0.9"/>
<polygon points="95.54,112.31 100.72,118.76 107.74,113.59 102.56,107.20" fill="#d8fc31" stroke="#141414" stroke-width="0.6" stroke-opacity="0.9"/>
<polygon points="137.41,121.56 142.70,127.26 149.66,122.24 144.37,116.59" fill="#a9fc3c" stroke="#141414" stroke-width="0.6" stroke-opacity="0.9"/>
<polygon points="192.06,128.73 197.61,133.51 204.48,128.98 198.92,124.24" fill="#87fc45" stroke="#141414" stroke-width="0.6" stroke-opacity="0.9"/>
<polygon points="179.67,128.45 185.16,133.42 192.06,128.73 186.56,123.81" fill="#8bfc44" stroke="#141414" stroke-width="0.6" stroke-opacity="0.9"/>
<polygon points="125.17,120.77 130.43,126.67 137.41,121.56 132.15,115.72" fill="#b0fc3a" stroke="#141414" stroke-width="0.6" stroke-opacity="0.9"/>
<polygon points="83.33,110.85 88.50,117.51 95.54,112.31 90.38,105.71" fill="#e4fc2e" stroke="#141414" stroke-width="0.6" stroke-opacity="0.9"/>
<polygon points="285.83,134.81 292.01,138.37 298.58,135.36 292.40,131.83" fill="#62fc51" stroke="#141414" stroke-width="0.6" stroke-opacity="0.9"/>
<polygon points="273.11,134.40 279.20,138.08 285.83,134.81 279.74,131.15" fill="#67fc4f" stroke="#141414" stroke-width="0.6" stroke-opacity="0.9"/>
<polygon points="260.43,134.10 266.43,137.92 273.11,134.40 267.11,130.60" fill="#6cfc4e" stroke="#141414" stroke-width="0.6" stroke-opacity="0.9"/>
<polygon points="167.32,128.13 172.76,133.29 179.67,128.45 174.24,123.34" fill="#90fc43" stroke="#141414" stroke-width="0.6" stroke-opacity="0.9"/>
<polygon points="247.79,133.89 253.70,137.86 260.43,134.10 254.51,130.16" fill="#71fc4c" stroke="#141414" stroke-width="0.6" stroke-opacity="0.9"/>
<polygon points="112.94,119.84 118.18,125.94 125.17,120.77 119.94,114.72" fill="#b8fc38" stroke="#141414" stroke-width="0.6" stroke-opacity="0.9"/>
<polygon points="235.18,133.75 241.02,137.88 247.79,133.89 241.95,129.79" fill="#75fc4b" stroke="#141414" stroke-width="0.6" stroke-opacity="0.9"/>
<polygon points="71.11,109.19 76.27,116.05 83.33,110.85 78.18,104.04" fill="#f3fc2b" stroke="#141414" stroke-width="0.6" stroke-opacity="0.9"/>
<polygon points="155.00,127.74 160.39,133.09 167.32,128.13 161.94,122.83" fill="#95fc42" stroke="#141414" stroke-width="0.6" stroke-opacity="0.9"/>
<polygon points="222.62,133.66 228.37,137.95 235.18,133.75 229.42,129.49" fill="#78fc4a" stroke="#141414" stroke-width="0.6" stroke-opacity="0.9"/>
<polygon points="100.72,118.76 105.93,125.07 112.94,119.84 107.74,113.59" fill="#c2fc36" stroke="#141414" stroke-width="0.6" stroke-opacity="0.9"/>
<polygon points="210.09,133.58 215.77,138.05 222.62,133.66 216.93,129.23" fill="#7cfc49" stroke="#141414" stroke-width="0.6" stroke-opacity="0.9"/>
<polygon points="142.70,127.26 148.05,132.81 155.00,127.74 149.66,122.24" fill="#9afc40" stroke="#141414" stroke-width="0.6" stroke-opacity="0.9"/>
<polygon points="58.86,107.31 64.02,114.38 71.11,109.19 65.96,102.18" fill="#fcf627" stroke="#141414" stroke-width="0.6" stroke-opacity="0.9"/>
<polygon points="197.61,133.51 203.22,138.15 210.09,133.58 204.48,128.98" fill="#7ffc48" stroke="#141414" stroke-width="0.6" stroke-opacity="0.9"/>
<polygon points="88.50,117.51 93.69,124.02 100.72,118.76 95.54,112.31" fill="#ccfc34" stroke="#141414" stroke-width="0.6" stroke-opacity="0.9"/>
<polygon points="130.43,126.67 135.73,132.42 142.70,127.26 137.41,121.56" fill="#a0fc3f" stroke="#141414" stroke-width="0.6" stroke-opacity="0.9"/>
<polygon points="185.16,133.42 190.71,138.25 197.61,133.51 192.06,128.73" fill="#82fc47" stroke="#141414" stroke-width="0.6" stroke-opacity="0.9"/>
<polygon points="172.76,133.29 178.25,138.30 185.16,133.42 179.67,128.45" fill="#85fc46" stroke="#141414" stroke-width="0.6" stroke-opacity="0.9"/>
<polygon points="292.01,138.37 298.29,141.82 304.86,138.80 298.58,135.36" fill="#61fc51" stroke="#141414" stroke-width="0.6" stroke-opacity="0.9"/>
<polygon points="279.20,138.08 285.39,141.65 292.01,138.37 285.83,134.81" fill="#66fc50" stroke="#141414" stroke-width="0.6" stroke-opacity="0.9"/>
<polygon points="118.18,125.94 123.44,131.90 130.43,126.67 125.17,120.77" fill="#a6fc3d" stroke="#141414" stroke-width="0.6" stroke-opacity="0.9"/>
<polygon points="266.43,137.92 272.52,141.63 279.20,138.08 273.11,134.40" fill="#6afc4e" stroke="#141414" stroke-width="0.6" stroke-opacity="0.9"/>
<polygon points="76.27,116.05 81.45,122.78 88.50,117.51 83.33,110.85" fill="#d8fc31" stroke="#141414" stroke-width="0.6" stroke-opacity="0.9"/>
<polygon points="253.70,137.86 259.70,141.71 266.43,137.92 260.43,134.10" fill="#6dfc4d" stroke="#141414" stroke-width="0.6" stroke-opacity="0.9"/>
<polygon points="160.39,133.09 165.82,138.30 172.76,133.29 167.32,128.13" fill="#89fc45" stroke="#141414" stroke-width="0.6" stroke-opacity="0.9"/>
<polygon points="241.02,137.88 246.93,141.88 253.70,137.86 247.79,133.89" fill="#71fc4c" stroke="#141414" stroke-width="0.6" stroke-opacity="0.9"/>
<polygon points="105.93,125.07 111.17,131.23 118.18,125.94 112.94,119.84" fill="#aefc3b" stroke="#141414" stroke-width="0.6" stroke-opacity="0.9"/>
<polygon points="228.37,137.95 234.20,142.11 241.02,137.88 235.18,133.75" fill="#73fc4b" stroke="#141414" stroke-width="0.6" stroke-opacity="0.9"/>
<polygon points="148.05,132.81 153.44,138.21 160.39,133.09 155.00,127.74" fill="#8dfc44" stroke="#141414" stroke-width="0.6" stroke-opacity="0.9"/>
<polygon points="64.02,114.38 69.19,121.32 76.27,116.05 71.11,109.19" fill="#e6fc2e" stroke="#141414" stroke-width="0.6" stroke-opacity="0.9"/>
<polygon points="215.77,138.05 221.53,142.37 228.37,137.95 222.62,133.66" fill="#76fc4b" stroke="#141414" stroke-width="0.6" stroke-opacity="0.9"/>
<polygon points="203.22,138.15 208.90,142.65 215.77,138.05 210.09,133.58" fill="#78fc4a" stroke="#141414" stroke-width="0.6" stroke-opacity="0.9"/>
<polygon points="93.69,124.02 98.91,130.39 105.93,125.07 100.72,118.76" fill="#b7fc39" stroke="#141414" stroke-width="0.6" stroke-opacity="0.9"/>
<polygon points="135.73,132.42 141.08,138.02 148.05,132.81 142.70,127.26" fill="#92fc42" stroke="#141414" stroke-width="0.6" stroke-opacity="0.9"/>
<polygon points="190.71,138.25 196.33,142.93 203.22,138.15 197.61,133.51" fill="#7afc49" stroke="#141414" stroke-width="0.6" stroke-opacity="0.9"/>
<polygon points="51.74,112.47 56.92,119.61 64.02,114.38 58.86,107.31" fill="#f6fc2a" stroke="#141414" stroke-width="0.6" stroke-opacity="0.9"/>
<polygon points="123.44,131.90 128.75,137.71 135.73,132.42 130.43,126.67" fill="#97fc41" stroke="#141414" stroke-width="0.6" stroke-opacity="0.9"/>
<polygon points="81.45,122.78 86.65,129.36 93.69,124.02 88.50,117.51" fill="#c1fc36" stroke="#141414" stroke-width="0.6" stroke-opacity="0.9"/>
<polygon points="178.25,138.30 183.80,143.17 190.71,138.25 185.16,133.42" fill="#7cfc49" stroke="#141414" stroke-width="0.6" stroke-opacity="0.9"/>
<polygon points="298.29,141.82 304.66,145.17 311.23,142.14 304.86,138.80" fill="#61fc51" stroke="#141414" stroke-width="0.6" stroke-opacity="0.9"/>
<polygon points="285.39,141.65 291.66,145.12 298.29,141.82 292.01,138.37" fill="#65fc50" stroke="#141414" stroke-width="0.6" stroke-opacity="0.9"/>
<polygon points="272.52,141.63 278.70,145.22 285.39,141.65 279.20,138.08" fill="#68fc4f" stroke="#141414" stroke-width="0.6" stroke-opacity="0.9"/>
<polygon points="165.82,138.30 171.31,143.35 178.25,138.30 172.76,133.29" fill="#7ffc48" stroke="#141414" stroke-width="0.6" stroke-opacity="0.9"/>
<polygon points="259.70,141.71 265.79,145.43 272.52,141.63 266.43,137.92" fill="#6bfc4e" stroke="#141414" stroke-width="0.6" stroke-opacity="0.9"/>
<polygon points="111.17,131.23 116.45,137.24 123.44,131.90 118.18,125.94" fill="#9dfc3f" stroke="#141414" stroke-width="0.6" stroke-opacity="0.9"/>
<polygon points="246.93,141.88 252.92,145.75 259.70,141.71 253.70,137.86" fill="#6efc4d" stroke="#141414" stroke-width="0.6" stroke-opacity="0.9"/>
<polygon points="69.19,121.32 74.38,128.11 81.45,122.78 76.27,116.05" fill="#ccfc34" stroke="#141414" stroke-width="0.6" stroke-opacity="0.9"/>
<polygon points="234.20,142.11 240.11,146.13 246.93,141.88 241.02,137.88" fill="#6ffc4d" stroke="#141414" stroke-width="0.6" stroke-opacity="0.9"/>
<polygon points="153.44,138.21 158.87,143.46 165.82,138.30 160.39,133.09" fill="#82fc47" stroke="#141414" stroke-width="0.6" stroke-opacity="0.9"/>
<polygon points="221.53,142.37 227.36,146.56 234.20,142.11 228.37,137.95" fill="#71fc4c" stroke="#141414" stroke-width="0.6" stroke-opacity="0.9"/>
<polygon points="98.91,130.39 104.16,136.61 111.17,131.23 105.93,125.07" fill="#a4fc3e" stroke="#141414" stroke-width="0.6" stroke-opacity="0.9"/>
<polygon points="141.08,138.02 146.47,143.47 153.44,138.21 148.05,132.81" fill="#85fc46" stroke="#141414" stroke-width="0.6" stroke-opacity="0.9"/>
<polygon points="208.90,142.65 214.65,147.02 221.53,142.37 215.77,138.05" fill="#72fc4c" stroke="#141414" stroke-width="0.6" stroke-opacity="0.9"/>
<polygon points="56.92,119.61 62.10,126.62 69.19,121.32 64.02,114.38" fill="#dafc30" stroke="#141414" stroke-width="0.6" stroke-opacity="0.9"/>
<polygon points="196.33,142.93 202.00,147.47 208.90,142.65 203.22,138.15" fill="#74fc4b" stroke="#141414" stroke-width="0.6" stroke-opacity="0.9"/>
<polygon points="86.65,129.36 91.88,135.79 98.91,130.39 93.69,124.02" fill="#acfc3b" stroke="#141414" stroke-width="0.6" stroke-opacity="0.9"/>
<polygon points="128.75,137.71 134.10,143.36 141.08,138.02 135.73,132.42" fill="#89fc45" stroke="#141414" stroke-width="0.6" stroke-opacity="0.9"/>
<polygon points="183.80,143.17 189.41,147.89 196.33,142.93 190.71,138.25" fill="#75fc4b" stroke="#141414" stroke-width="0.6" stroke-opacity="0.9"/>
<polygon points="44.61,117.65 49.80,124.87 56.92,119.61 51.74,112.47" fill="#e9fc2d" stroke="#141414" stroke-width="0.6" stroke-opacity="0.9"/>
<polygon points="171.31,143.35 176.86,148.27 183.80,143.17 178.25,138.30" fill="#76fc4a" stroke="#141414" stroke-width="0.6" stroke-opacity="0.9"/>
<polygon points="116.45,137.24 121.76,143.11 128.75,137.71 123.44,131.90" fill="#8dfc44" stroke="#141414" stroke-width="0.6" stroke-opacity="0.9"/>
<polygon points="74.38,128.11 79.59,134.75 86.65,129.36 81.45,122.78" fill="#b5fc39" stroke="#141414" stroke-width="0.6" stroke-opacity="0.9"/>
<polygon points="304.66,145.17 311.13,148.43 317.70,145.39 311.23,142.14" fill="#61fc51" stroke="#141414" stroke-width="0.6" stroke-opacity="0.9"/>
<polygon points="291.66,145.12 298.03,148.48 304.66,145.17 298.29,141.82" fill="#65fc50" stroke="#141414" stroke-width="0.6" stroke-opacity="0.9"/>
<polygon points="278.70,145.22 284.97,148.70 291.66,145.12 285.39,141.65" fill="#68fc4f" stroke="#141414" stroke-width="0.6" stroke-opacity="0.9"/>
<polygon points="265.79,145.43 271.96,149.05 278.70,145.22 272.52,141.63" fill="#6afc4e" stroke="#141414" stroke-width="0.6" stroke-opacity="0.9"/>
<polygon points="158.87,143.46 164.36,148.57 171.31,143.35 165.82,138.30" fill="#78fc4a" stroke="#141414" stroke-width="0.6" stroke-opacity="0.9"/>
<polygon points="252.92,145.75 259.00,149.50 265.79,145.43 259.70,141.71" fill="#6bfc4e" stroke="#141414" stroke-width="0.6" stroke-opacity="0.9"/>
<polygon points="104.16,136.61 109.44,142.68 116.45,137.24 111.17,131.23" fill="#93fc42" stroke="#141414" stroke-width="0.6" stroke-opacity="0.9"/>
<polygon points="240.11,146.13 246.10,150.03 252.92,145.75 246.93,141.88" fill="#6cfc4e" stroke="#141414" stroke-width="0.6" stroke-opacity="0.9"/>
<polygon points="62.10,126.62 67.31,133.47 74.38,128.11 69.19,121.32" fill="#c0fc36" stroke="#141414" stroke-width="0.6" stroke-opacity="0.9"/>
<polygon points="227.36,146.56 233.26,150.62 240.11,146.13 234.20,142.11" fill="#6dfc4d" stroke="#141414" stroke-width="0.6" stroke-opacity="0.9"/>
<polygon points="146.47,143.47 151.90,148.78 158.87,143.46 153.44,138.21" fill="#7afc49" stroke="#141414" stroke-width="0.6" stroke-opacity="0.9"/>
<polygon points="214.65,147.02 220.48,151.24 227.36,146.56 221.53,142.37" fill="#6efc4d" stroke="#141414" stroke-width="0.6" stroke-opacity="0.9"/>
<polygon points="91.88,135.79 97.13,142.07 104.16,136.61 98.91,130.39" fill="#99fc40" stroke="#141414" stroke-width="0.6" stroke-opacity="0.9"/>
<polygon points="202.00,147.47 207.75,151.86 214.65,147.02 208.90,142.65" fill="#6efc4d" stroke="#141414" stroke-width="0.6" stroke-opacity="0.9"/>
<polygon points="134.10,143.36 139.49,148.87 146.47,143.47 141.08,138.02" fill="#7cfc49" stroke="#141414" stroke-width="0.6" stroke-opacity="0.9"/>
<polygon points="49.80,124.87 55.00,131.94 62.10,126.62 56.92,119.61" fill="#cdfc33" stroke="#141414" stroke-width="0.6" stroke-opacity="0.9"/>
<polygon points="189.41,147.89 195.08,152.47 202.00,147.47 196.33,142.93" fill="#6efc4d" stroke="#141414" stroke-width="0.6" stroke-opacity="0.9"/>
<polygon points="79.59,134.75 84.83,141.24 91.88,135.79 86.65,129.36" fill="#a1fc3e" stroke="#141414" stroke-width="0.6" stroke-opacity="0.9"/>
<polygon points="121.76,143.11 127.10,148.82 134.10,143.36 128.75,137.71" fill="#80fc48" stroke="#141414" stroke-width="0.6" stroke-opacity="0.9"/>
<polygon points="176.86,148.27 182.47,153.03 189.41,147.89 183.80,143.17" fill="#6ffc4d" stroke="#141414" stroke-width="0.6" stroke-opacity="0.9"/>
<polygon points="164.36,148.57 169.90,153.53 176.86,148.27 171.31,143.35" fill="#6ffc4d" stroke="#141414" stroke-width="0.6" stroke-opacity="0.9"/>
<polygon points="109.44,142.68 114.75,148.60 121.76,143.11 116.45,137.24" fill="#84fc46" stroke="#141414" stroke-width="0.6" stroke-opacity="0.9"/>
<polygon points="298.03,148.48 304.50,151.76 311.13,148.43 304.66,145.17" fill="#65fc50" stroke="#141414" stroke-width="0.6" stroke-opacity="0.9"/>
<polygon points="284.97,148.70 291.33,152.08 298.03,148.48 291.66,145.12" fill="#67fc4f" stroke="#141414" stroke-width="0.6" stroke-opacity="0.9"/>
<polygon points="271.96,149.05 278.23,152.55 284.97,148.70 278.70,145.22" fill="#69fc4f" stroke="#141414" stroke-width="0.6" stroke-opacity="0.9"/>
<polygon points="67.31,133.47 72.53,140.18 79.59,134.75 74.38,128.11" fill="#aafc3c" stroke="#141414" stroke-width="0.6" stroke-opacity="0.9"/>
<polygon points="259.00,149.50 265.17,153.13 271.96,149.05 265.79,145.43" fill="#6afc4e" stroke="#141414" stroke-width="0.6" stroke-opacity="0.9"/>
<polygon points="246.10,150.03 252.18,153.81 259.00,149.50 252.92,145.75" fill="#6afc4e" stroke="#141414" stroke-width="0.6" stroke-opacity="0.9"/>
<polygon points="151.90,148.78 157.39,153.93 164.36,148.57 158.87,143.46" fill="#70fc4c" stroke="#141414" stroke-width="0.6" stroke-opacity="0.9"/>
<polygon points="233.26,150.62 239.25,154.55 246.10,150.03 240.11,146.13" fill="#6afc4e" stroke="#141414" stroke-width="0.6" stroke-opacity="0.9"/>
<polygon points="97.13,142.07 102.41,148.20 109.44,142.68 104.16,136.61" fill="#89fc45" stroke="#141414" stroke-width="0.6" stroke-opacity="0.9"/>
<polygon points="220.48,151.24 226.38,155.33 233.26,150.62 227.36,146.56" fill="#6afc4e" stroke="#141414" stroke-width="0.6" stroke-opacity="0.9"/>
<polygon points="55.00,131.94 60.22,138.86 67.31,133.47 62.10,126.62" fill="#b5fc39" stroke="#141414" stroke-width="0.6" stroke-opacity="0.9"/>
<polygon points="139.49,148.87 144.92,154.22 151.90,148.78 146.47,143.47" fill="#72fc4c" stroke="#141414" stroke-width="0.6" stroke-opacity="0.9"/>
<polygon points="207.75,151.86 213.57,156.12 220.48,151.24 214.65,147.02" fill="#69fc4f" stroke="#141414" stroke-width="0.6" stroke-opacity="0.9"/>
<polygon points="84.83,141.24 90.09,147.59 97.13,142.07 91.88,135.79" fill="#8ffc43" stroke="#141414" stroke-width="0.6" stroke-opacity="0.9"/>
<polygon points="195.08,152.47 200.82,156.91 207.75,151.86 202.00,147.47" fill="#69fc4f" stroke="#141414" stroke-width="0.6" stroke-opacity="0.9"/>
<polygon points="127.10,148.82 132.50,154.38 139.49,148.87 134.10,143.36" fill="#74fc4b" stroke="#141414" stroke-width="0.6" stroke-opacity="0.9"/>
<polygon points="182.47,153.03 188.13,157.65 195.08,152.47 189.41,147.89" fill="#68fc4f" stroke="#141414" stroke-width="0.6" stroke-opacity="0.9"/>
<polygon points="114.75,148.60 120.10,154.37 127.10,148.82 121.76,143.11" fill="#77fc4a" stroke="#141414" stroke-width="0.6" stroke-opacity="0.9"/>
<polygon points="72.53,140.18 77.77,146.74 84.83,141.24 79.59,134.75" fill="#96fc41" stroke="#141414" stroke-width="0.6" stroke-opacity="0.9"/>
<polygon points="169.90,153.53 175.51,158.34 182.47,153.03 176.86,148.27" fill="#68fc4f" stroke="#141414" stroke-width="0.6" stroke-opacity="0.9"/>
<polygon points="291.33,152.08 297.80,155.36 304.50,151.76 298.03,148.48" fill="#68fc4f" stroke="#141414" stroke-width="0.6" stroke-opacity="0.9"/>
<polygon points="278.23,152.55 284.59,155.94 291.33,152.08 284.97,148.70" fill="#69fc4f" stroke="#141414" stroke-width="0.6" stroke-opacity="0.9"/>
<polygon points="157.39,153.93 162.93,158.94 169.90,153.53 164.36,148.57" fill="#68fc4f" stroke="#141414" stroke-width="0.6" stroke-opacity="0.9"/>
<polygon points="265.17,153.13 271.43,156.65 278.23,152.55 271.96,149.05" fill="#69fc4f" stroke="#141414" stroke-width="0.6" stroke-opacity="0.9"/>
<polygon points="102.41,148.20 107.73,154.18 114.75,148.60 109.44,142.68" fill="#7afc49" stroke="#141414" stroke-width="0.6" stroke-opacity="0.9"/>
<polygon points="252.18,153.81 258.34,157.47 265.17,153.13 259.00,149.50" fill="#69fc4f" stroke="#141414" stroke-width="0.6" stroke-opacity="0.9"/>
<polygon points="60.22,138.86 65.45,145.64 72.53,140.18 67.31,133.47" fill="#9ffc3f" stroke="#141414" stroke-width="0.6" stroke-opacity="0.9"/>
<polygon points="239.25,154.55 245.31,158.35 252.18,153.81 246.10,150.03" fill="#68fc4f" stroke="#141414" stroke-width="0.6" stroke-opacity="0.9"/>
<polygon points="144.92,154.22 150.41,159.43 157.39,153.93 151.90,148.78" fill="#69fc4f" stroke="#141414" stroke-width="0.6" stroke-opacity="0.9"/>
<polygon points="226.38,155.33 232.35,159.29 239.25,154.55 233.26,150.62" fill="#67fc4f" stroke="#141414" stroke-width="0.6" stroke-opacity="0.9"/>
<polygon points="213.57,156.12 219.46,160.25 226.38,155.33 220.48,151.24" fill="#66fc50" stroke="#141414" stroke-width="0.6" stroke-opacity="0.9"/>
<polygon points="90.09,147.59 95.38,153.78 102.41,148.20 97.13,142.07" fill="#7ffc48" stroke="#141414" stroke-width="0.6" stroke-opacity="0.9"/>
<polygon points="132.50,154.38 137.93,159.78 144.92,154.22 139.49,148.87" fill="#6afc4e" stroke="#141414" stroke-width="0.6" stroke-opacity="0.9"/>
<polygon points="200.82,156.91 206.63,161.20 213.57,156.12 207.75,151.86" fill="#65fc50" stroke="#141414" stroke-width="0.6" stroke-opacity="0.9"/>
<polygon points="188.13,157.65 193.87,162.13 200.82,156.91 195.08,152.47" fill="#63fc51" stroke="#141414" stroke-width="0.6" stroke-opacity="0.9"/>
<polygon points="77.77,146.74 83.04,153.15 90.09,147.59 84.83,141.24" fill="#84fc46" stroke="#141414" stroke-width="0.6" stroke-opacity="0.9"/>
<polygon points="120.10,154.37 125.49,159.99 132.50,154.38 127.10,148.82" fill="#6bfc4e" stroke="#141414" stroke-width="0.6" stroke-opacity="0.9"/>
<polygon points="175.51,158.34 181.17,163.00 188.13,157.65 182.47,153.03" fill="#62fc51" stroke="#141414" stroke-width="0.6" stroke-opacity="0.9"/>
<polygon points="107.73,154.18 113.08,160.00 120.10,154.37 114.75,148.60" fill="#6dfc4d" stroke="#141414" stroke-width="0.6" stroke-opacity="0.9"/>
<polygon points="162.93,158.94 168.53,163.79 175.51,158.34 169.90,153.53" fill="#61fc51" stroke="#141414" stroke-width="0.6" stroke-opacity="0.9"/>
<polygon points="65.45,145.64 70.70,152.26 77.77,146.74 72.53,140.18" fill="#8cfc44" stroke="#141414" stroke-width="0.6" stroke-opacity="0.9"/>
<polygon points="284.59,155.94 291.04,159.24 297.80,155.36 291.33,152.08" fill="#6afc4e" stroke="#141414" stroke-width="0.6" stroke-opacity="0.9"/>
<polygon points="271.43,156.65 277.79,160.07 284.59,155.94 278.23,152.55" fill="#69fc4f" stroke="#141414" stroke-width="0.6" stroke-opacity="0.9"/>
<polygon points="258.34,157.47 264.59,161.01 271.43,156.65 265.17,153.13" fill="#68fc4f" stroke="#141414" stroke-width="0.6" stroke-opacity="0.9"/>
<polygon points="150.41,159.43 155.95,164.48 162.93,158.94 157.39,153.93" fill="#61fc51" stroke="#141414" stroke-width="0.6" stroke-opacity="0.9"/>
<polygon points="245.31,158.35 251.47,162.03 258.34,157.47 252.18,153.81" fill="#67fc4f" stroke="#141414" stroke-width="0.6" stroke-opacity="0.9"/>
<polygon points="95.38,153.78 100.70,159.82 107.73,154.18 102.41,148.20" fill="#71fc4c" stroke="#141414" stroke-width="0.6" stroke-opacity="0.9"/>
<polygon points="232.35,159.29 238.41,163.12 245.31,158.35 239.25,154.55" fill="#65fc50" stroke="#141414" stroke-width="0.6" stroke-opacity="0.9"/>
<polygon points="219.46,160.25 225.43,164.24 232.35,159.29 226.38,155.33" fill="#63fc51" stroke="#141414" stroke-width="0.6" stroke-opacity="0.9"/>
<polygon points="137.93,159.78 143.41,165.04 150.41,159.43 144.92,154.22" fill="#61fc51" stroke="#141414" stroke-width="0.6" stroke-opacity="0.9"/>
<polygon points="206.63,161.20 212.52,165.36 219.46,160.25 213.57,156.12" fill="#61fc51" stroke="#141414" stroke-width="0.6" stroke-opacity="0.9"/>
<polygon points="83.04,153.15 88.34,159.40 95.38,153.78 90.09,147.59" fill="#75fc4b" stroke="#141414" stroke-width="0.6" stroke-opacity="0.9"/>
<polygon points="193.87,162.13 199.67,166.46 206.63,161.20 200.82,156.91" fill="#5ffc52" stroke="#141414" stroke-width="0.6" stroke-opacity="0.9"/>
<polygon points="125.49,159.99 130.92,165.45 137.93,159.78 132.50,154.38" fill="#61fc51" stroke="#141414" stroke-width="0.6" stroke-opacity="0.9"/>
<polygon points="181.17,163.00 186.90,167.52 193.87,162.13 188.13,157.65" fill="#5dfc53" stroke="#141414" stroke-width="0.6" stroke-opacity="0.9"/>
<polygon points="70.70,152.26 75.98,158.73 83.04,153.15 77.77,146.74" fill="#7bfc49" stroke="#141414" stroke-width="0.6" stroke-opacity="0.9"/>
<polygon points="113.08,160.00 118.47,165.68 125.49,159.99 120.10,154.37" fill="#62fc51" stroke="#141414" stroke-width="0.6" stroke-opacity="0.9"/>
<polygon points="168.53,163.79 174.19,168.50 181.17,163.00 175.51,158.34" fill="#5bfc53" stroke="#141414" stroke-width="0.6" stroke-opacity="0.9"/>
<polygon points="155.95,164.48 161.54,169.38 168.53,163.79 162.93,158.94" fill="#5afc54" stroke="#141414" stroke-width="0.6" stroke-opacity="0.9"/>
<polygon points="100.70,159.82 106.06,165.70 113.08,160.00 107.73,154.18" fill="#64fc50" stroke="#141414" stroke-width="0.6" stroke-opacity="0.9"/>
<polygon points="277.79,160.07 284.24,163.38 291.04,159.24 284.59,155.94" fill="#6afc4e" stroke="#141414" stroke-width="0.6" stroke-opacity="0.9"/>
<polygon points="264.59,161.01 270.94,164.44 277.79,160.07 271.43,156.65" fill="#69fc4f" stroke="#141414" stroke-width="0.6" stroke-opacity="0.9"/>
<polygon points="251.47,162.03 257.71,165.60 264.59,161.01 258.34,157.47" fill="#67fc4f" stroke="#141414" stroke-width="0.6" stroke-opacity="0.9"/>
<polygon points="238.41,163.12 244.56,166.83 251.47,162.03 245.31,158.35" fill="#64fc50" stroke="#141414" stroke-width="0.6" stroke-opacity="0.9"/>
<polygon points="143.41,165.04 148.95,170.14 155.95,164.48 150.41,159.43" fill="#59fc54" stroke="#141414" stroke-width="0.6" stroke-opacity="0.9"/>
<polygon points="225.43,164.24 231.48,168.10 238.41,163.12 232.35,159.29" fill="#61fc51" stroke="#141414" stroke-width="0.6" stroke-opacity="0.9"/>
<polygon points="88.34,159.40 93.66,165.50 100.70,159.82 95.38,153.78" fill="#68fc4f" stroke="#141414" stroke-width="0.6" stroke-opacity="0.9"/>
<polygon points="212.52,165.36 218.48,169.38 225.43,164.24 219.46,160.25" fill="#5ffc52" stroke="#141414" stroke-width="0.6" stroke-opacity="0.9"/>
<polygon points="130.92,165.45 136.40,170.76 143.41,165.04 137.93,159.78" fill="#59fc54" stroke="#141414" stroke-width="0.6" stroke-opacity="0.9"/>
<polygon points="199.67,166.46 205.55,170.66 212.52,165.36 206.63,161.20" fill="#5cfc53" stroke="#141414" stroke-width="0.6" stroke-opacity="0.9"/>
<polygon points="75.98,158.73 81.28,165.05 88.34,159.40 83.04,153.15" fill="#6cfc4e" stroke="#141414" stroke-width="0.6" stroke-opacity="0.9"/>
<polygon points="186.90,167.52 192.69,171.89 199.67,166.46 193.87,162.13" fill="#59fc54" stroke="#141414" stroke-width="0.6" stroke-opacity="0.9"/>
<polygon points="118.47,165.68 123.91,171.19 130.92,165.45 125.49,159.99" fill="#59fc54" stroke="#141414" stroke-width="0.6" stroke-opacity="0.9"/>
<polygon points="174.19,168.50 179.91,173.06 186.90,167.52 181.17,163.00" fill="#56fc55" stroke="#141414" stroke-width="0.6" stroke-opacity="0.9"/>
<polygon points="106.06,165.70 111.45,171.43 118.47,165.68 113.08,160.00" fill="#5afc54" stroke="#141414" stroke-width="0.6" stroke-opacity="0.9"/>
<polygon points="161.54,169.38 167.19,174.14 174.19,168.50 168.53,163.79" fill="#56fc57" stroke="#141414" stroke-width="0.6" stroke-opacity="0.9"/>
<polygon points="148.95,170.14 154.53,175.09 161.54,169.38 155.95,164.48" fill="#57fc5b" stroke="#141414" stroke-width="0.6" stroke-opacity="0.9"/>
<polygon points="270.94,164.44 277.38,167.77 284.24,163.38 277.79,160.07" fill="#6afc4e" stroke="#141414" stroke-width="0.6" stroke-opacity="0.9"/>
<polygon points="93.66,165.50 99.02,171.45 106.06,165.70 100.70,159.82" fill="#5cfc53" stroke="#141414" stroke-width="0.6" stroke-opacity="0.9"/>
<polygon points="257.71,165.60 264.05,169.05 270.94,164.44 264.59,161.01" fill="#67fc4f" stroke="#141414" stroke-width="0.6" stroke-opacity="0.9"/>
<polygon points="244.56,166.83 250.79,170.42 257.71,165.60 251.47,162.03" fill="#64fc50" stroke="#141414" stroke-width="0.6" stroke-opacity="0.9"/>
<polygon points="231.48,168.10 237.62,171.83 244.56,166.83 238.41,163.12" fill="#60fc52" stroke="#141414" stroke-width="0.6" stroke-opacity="0.9"/>
<polygon points="136.40,170.76 141.93,175.91 148.95,170.14 143.41,165.04" fill="#57fc5d" stroke="#141414" stroke-width="0.6" stroke-opacity="0.9"/>
<polygon points="218.48,169.38 224.52,173.28 231.48,168.10 225.43,164.24" fill="#5dfc53" stroke="#141414" stroke-width="0.6" stroke-opacity="0.9"/>
<polygon points="81.28,165.05 86.60,171.22 93.66,165.50 88.34,159.40" fill="#5ffc52" stroke="#141414" stroke-width="0.6" stroke-opacity="0.9"/>
<polygon points="205.55,170.66 211.50,174.72 218.48,169.38 212.52,165.36" fill="#59fc54" stroke="#141414" stroke-width="0.6" stroke-opacity="0.9"/>
<polygon points="123.91,171.19 129.38,176.56 136.40,170.76 130.92,165.45" fill="#57fc5e" stroke="#141414" stroke-width="0.6" stroke-opacity="0.9"/>
<polygon points="192.69,171.89 198.56,176.12 205.55,170.66 199.67,166.46" fill="#56fc55" stroke="#141414" stroke-width="0.6" stroke-opacity="0.9"/>
<polygon points="179.91,173.06 185.70,177.47 192.69,171.89 186.90,167.52" fill="#56fc5a" stroke="#141414" stroke-width="0.6" stroke-opacity="0.9"/>
<polygon points="111.45,171.43 116.88,177.01 123.91,171.19 118.47,165.68" fill="#57fc5e" stroke="#141414" stroke-width="0.6" stroke-opacity="0.9"/>
<polygon points="167.19,174.14 172.90,178.74 179.91,173.06 174.19,168.50" fill="#58fc60" stroke="#141414" stroke-width="0.6" stroke-opacity="0.9"/>
<polygon points="99.02,171.45 104.41,177.24 111.45,171.43 106.06,165.70" fill="#57fc5c" stroke="#141414" stroke-width="0.6" stroke-opacity="0.9"/>
<polygon points="154.53,175.09 160.18,179.89 167.19,174.14 161.54,169.38" fill="#59fc64" stroke="#141414" stroke-width="0.6" stroke-opacity="0.9"/>
<polygon points="264.05,169.05 270.48,172.40 277.38,167.77 270.94,164.44" fill="#68fc4f" stroke="#141414" stroke-width="0.6" stroke-opacity="0.9"/>
<polygon points="141.93,175.91 147.51,180.91 154.53,175.09 148.95,170.14" fill="#59fc68" stroke="#141414" stroke-width="0.6" stroke-opacity="0.9"/>
<polygon points="250.79,170.42 257.12,173.89 264.05,169.05 257.71,165.60" fill="#64fc50" stroke="#141414" stroke-width="0.6" stroke-opacity="0.9"/>
<polygon points="237.62,171.83 243.84,175.45 250.79,170.42 244.56,166.83" fill="#60fc52" stroke="#141414" stroke-width="0.6" stroke-opacity="0.9"/>
<polygon points="86.60,171.22 91.96,177.23 99.02,171.45 93.66,165.50" fill="#56fc59" stroke="#141414" stroke-width="0.6" stroke-opacity="0.9"/>
<polygon points="224.52,173.28 230.65,177.04 237.62,171.83 231.48,168.10" fill="#5cfc53" stroke="#141414" stroke-width="0.6" stroke-opacity="0.9"/>
<polygon points="129.38,176.56 134.91,181.76 141.93,175.91 136.40,170.76" fill="#5afc6a" stroke="#141414" stroke-width="0.6" stroke-opacity="0.9"/>
<polygon points="211.50,174.72 217.53,178.64 224.52,173.28 218.48,169.38" fill="#58fc55" stroke="#141414" stroke-width="0.6" stroke-opacity="0.9"/>
<polygon points="198.56,176.12 204.50,180.22 211.50,174.72 205.55,170.66" fill="#56fc59" stroke="#141414" stroke-width="0.6" stroke-opacity="0.9"/>
<polygon points="116.88,177.01 122.35,182.43 129.38,176.56 123.91,171.19" fill="#5afc6c" stroke="#141414" stroke-width="0.6" stroke-opacity="0.9"/>
<polygon points="185.70,177.47 191.55,181.75 198.56,176.12 192.69,171.89" fill="#58fc60" stroke="#141414" stroke-width="0.6" stroke-opacity="0.9"/>
<polygon points="172.90,178.74 178.68,183.20 185.70,177.47 179.91,173.06" fill="#59fc66" stroke="#141414" stroke-width="0.6" stroke-opacity="0.9"/>
<polygon points="104.41,177.24 109.84,182.87 116.88,177.01 111.45,171.43" fill="#5afc6c" stroke="#141414" stroke-width="0.6" stroke-opacity="0.9"/>
<polygon points="160.18,179.89 165.88,184.54 172.90,178.74 167.19,174.14" fill="#5afc6c" stroke="#141414" stroke-width="0.6" stroke-opacity="0.9"/>
<polygon points="147.51,180.91 153.15,185.76 160.18,179.89 154.53,175.09" fill="#5bfc71" stroke="#141414" stroke-width="0.6" stroke-opacity="0.9"/>
<polygon points="91.96,177.23 97.36,183.08 104.41,177.24 99.02,171.45" fill="#5afc6a" stroke="#141414" stroke-width="0.6" stroke-opacity="0.9"/>
<polygon points="257.12,173.89 263.55,177.26 270.48,172.40 264.05,169.05" fill="#65fc50" stroke="#141414" stroke-width="0.6" stroke-opacity="0.9"/>
<polygon points="243.84,175.45 250.16,178.95 257.12,173.89 250.79,170.42" fill="#61fc51" stroke="#141414" stroke-width="0.6" stroke-opacity="0.9"/>
<polygon points="134.91,181.76 140.48,186.82 147.51,180.91 141.93,175.91" fill="#5cfc75" stroke="#141414" stroke-width="0.6" stroke-opacity="0.9"/>
<polygon points="230.65,177.04 236.86,180.68 243.84,175.45 237.62,171.83" fill="#5cfc53" stroke="#141414" stroke-width="0.6" stroke-opacity="0.9"/>
<polygon points="217.53,178.64 223.65,182.43 230.65,177.04 224.52,173.28" fill="#57fc55" stroke="#141414" stroke-width="0.6" stroke-opacity="0.9"/>
<polygon points="204.50,180.22 210.52,184.18 217.53,178.64 211.50,174.72" fill="#57fc5b" stroke="#141414" stroke-width="0.6" stroke-opacity="0.9"/>
<polygon points="122.35,182.43 127.87,187.69 134.91,181.76 129.38,176.56" fill="#5dfc78" stroke="#141414" stroke-width="0.6" stroke-opacity="0.9"/>
<polygon points="191.55,181.75 197.48,185.88 204.50,180.22 198.56,176.12" fill="#58fc64" stroke="#141414" stroke-width="0.6" stroke-opacity="0.9"/>
<polygon points="178.68,183.20 184.53,187.51 191.55,181.75 185.70,177.47" fill="#5afc6b" stroke="#141414" stroke-width="0.6" stroke-opacity="0.9"/>
<polygon points="109.84,182.87 115.31,188.35 122.35,182.43 116.88,177.01" fill="#5dfc79" stroke="#141414" stroke-width="0.6" stroke-opacity="0.9"/>
<polygon points="165.88,184.54 171.65,189.05 178.68,183.20 172.90,178.74" fill="#5cfc72" stroke="#141414" stroke-width="0.6" stroke-opacity="0.9"/>
<polygon points="97.36,183.08 102.78,188.77 109.84,182.87 104.41,177.24" fill="#5dfc79" stroke="#141414" stroke-width="0.6" stroke-opacity="0.9"/>
<polygon points="153.15,185.76 158.85,190.46 165.88,184.54 160.18,179.89" fill="#5dfc79" stroke="#141414" stroke-width="0.6" stroke-opacity="0.9"/>
<polygon points="140.48,186.82 146.11,191.72 153.15,185.76 147.51,180.91" fill="#5efc7e" stroke="#141414" stroke-width="0.6" stroke-opacity="0.9"/>
<polygon points="250.16,178.95 256.57,182.34 263.55,177.26 257.12,173.89" fill="#62fc51" stroke="#141414" stroke-width="0.6" stroke-opacity="0.9"/>
<polygon points="236.86,180.68 243.16,184.21 250.16,178.95 243.84,175.45" fill="#5cfc53" stroke="#141414" stroke-width="0.6" stroke-opacity="0.9"/>
<polygon points="223.65,182.43 229.85,186.10 236.86,180.68 230.65,177.04" fill="#57fc55" stroke="#141414" stroke-width="0.6" stroke-opacity="0.9"/>
<polygon points="127.87,187.69 133.44,192.80 140.48,186.82 134.91,181.76" fill="#5ffc82" stroke="#141414" stroke-width="0.6" stroke-opacity="0.9"/>
<polygon points="210.52,184.18 216.63,188.00 223.65,182.43 217.53,178.64" fill="#57fc5d" stroke="#141414" stroke-width="0.6" stroke-opacity="0.9"/>
<polygon points="197.48,185.88 203.49,189.87 210.52,184.18 204.50,180.22" fill="#59fc66" stroke="#141414" stroke-width="0.6" stroke-opacity="0.9"/>
<polygon points="115.31,188.35 120.82,193.67 127.87,187.69 122.35,182.43" fill="#60fc85" stroke="#141414" stroke-width="0.6" stroke-opacity="0.9"/>
<polygon points="184.53,187.51 190.45,191.68 197.48,185.88 191.55,181.75" fill="#5bfc6f" stroke="#141414" stroke-width="0.6" stroke-opacity="0.9"/>
<polygon points="171.65,189.05 177.49,193.40 184.53,187.51 178.68,183.20" fill="#5dfc77" stroke="#141414" stroke-width="0.6" stroke-opacity="0.9"/>
<polygon points="102.78,188.77 108.25,194.30 115.31,188.35 109.84,182.87" fill="#60fc86" stroke="#141414" stroke-width="0.6" stroke-opacity="0.9"/>
<polygon points="158.85,190.46 164.61,195.00 171.65,189.05 165.88,184.54" fill="#5ffc7f" stroke="#141414" stroke-width="0.6" stroke-opacity="0.9"/>
<polygon points="146.11,191.72 151.80,196.46 158.85,190.46 153.15,185.76" fill="#60fc85" stroke="#141414" stroke-width="0.6" stroke-opacity="0.9"/>
<polygon points="133.44,192.80 139.06,197.75 146.11,191.72 140.48,186.82" fill="#61fc8b" stroke="#141414" stroke-width="0.6" stroke-opacity="0.9"/>
<polygon points="243.16,184.21 249.56,187.62 256.57,182.34 250.16,178.95" fill="#5efc52" stroke="#141414" stroke-width="0.6" stroke-opacity="0.9"/>
<polygon points="229.85,186.10 236.14,189.66 243.16,184.21 236.86,180.68" fill="#57fc55" stroke="#141414" stroke-width="0.6" stroke-opacity="0.9"/>
<polygon points="216.63,188.00 222.81,191.70 229.85,186.10 223.65,182.43" fill="#57fc5d" stroke="#141414" stroke-width="0.6" stroke-opacity="0.9"/>
<polygon points="120.82,193.67 126.39,198.83 133.44,192.80 127.87,187.69" fill="#62fc8f" stroke="#141414" stroke-width="0.6" stroke-opacity="0.9"/>
<polygon points="203.49,189.87 209.58,193.73 216.63,188.00 210.52,184.18" fill="#59fc67" stroke="#141414" stroke-width="0.6" stroke-opacity="0.9"/>
<polygon points="190.45,191.68 196.44,195.71 203.49,189.87 197.48,185.88" fill="#5bfc71" stroke="#141414" stroke-width="0.6" stroke-opacity="0.9"/>
<polygon points="108.25,194.30 113.76,199.68 120.82,193.67 115.31,188.35" fill="#63fc92" stroke="#141414" stroke-width="0.6" stroke-opacity="0.9"/>
<polygon points="177.49,193.40 183.40,197.61 190.45,191.68 184.53,187.51" fill="#5efc7b" stroke="#141414" stroke-width="0.6" stroke-opacity="0.9"/>
<polygon points="164.61,195.00 170.43,199.40 177.49,193.40 171.65,189.05" fill="#60fc84" stroke="#141414" stroke-width="0.6" stroke-opacity="0.9"/>
<polygon points="151.80,196.46 157.55,201.06 164.61,195.00 158.85,190.46" fill="#61fc8b" stroke="#141414" stroke-width="0.6" stroke-opacity="0.9"/>
<polygon points="139.06,197.75 144.74,202.54 151.80,196.46 146.11,191.72" fill="#63fc92" stroke="#141414" stroke-width="0.6" stroke-opacity="0.9"/>
<polygon points="236.14,189.66 242.53,193.09 249.56,187.62 243.16,184.21" fill="#59fc54" stroke="#141414" stroke-width="0.6" stroke-opacity="0.9"/>
<polygon points="126.39,198.83 132.00,203.83 139.06,197.75 133.44,192.80" fill="#64fc97" stroke="#141414" stroke-width="0.6" stroke-opacity="0.9"/>
<polygon points="222.81,191.70 229.09,195.28 236.14,189.66 229.85,186.10" fill="#57fc5c" stroke="#141414" stroke-width="0.6" stroke-opacity="0.9"/>
<polygon points="209.58,193.73 215.76,197.46 222.81,191.70 216.63,188.00" fill="#59fc67" stroke="#141414" stroke-width="0.6" stroke-opacity="0.9"/>
<polygon points="196.44,195.71 202.52,199.61 209.58,193.73 203.49,189.87" fill="#5cfc72" stroke="#141414" stroke-width="0.6" stroke-opacity="0.9"/>
<polygon points="113.76,199.68 119.32,204.90 126.39,198.83 120.82,193.67" fill="#65fc9c" stroke="#141414" stroke-width="0.6" stroke-opacity="0.9"/>
<polygon points="183.40,197.61 189.38,201.68 196.44,195.71 190.45,191.68" fill="#5efc7d" stroke="#141414" stroke-width="0.6" stroke-opacity="0.9"/>
<polygon points="170.43,199.40 176.33,203.66 183.40,197.61 177.49,193.40" fill="#60fc87" stroke="#141414" stroke-width="0.6" stroke-opacity="0.9"/>
<polygon points="157.55,201.06 163.37,205.50 170.43,199.40 164.61,195.00" fill="#63fc90" stroke="#141414" stroke-width="0.6" stroke-opacity="0.9"/>
<polygon points="144.74,202.54 150.48,207.18 157.55,201.06 151.80,196.46" fill="#64fc98" stroke="#141414" stroke-width="0.6" stroke-opacity="0.9"/>
<polygon points="132.00,203.83 137.67,208.68 144.74,202.54 139.06,197.75" fill="#66fc9e" stroke="#141414" stroke-width="0.6" stroke-opacity="0.9"/>
<polygon points="229.09,195.28 235.46,198.75 242.53,193.09 236.14,189.66" fill="#56fc59" stroke="#141414" stroke-width="0.6" stroke-opacity="0.9"/>
<polygon points="119.32,204.90 124.93,209.95 132.00,203.83 126.39,198.83" fill="#66fca3" stroke="#141414" stroke-width="0.6" stroke-opacity="0.9"/>
<polygon points="215.76,197.46 222.02,201.07 229.09,195.28 222.81,191.70" fill="#59fc66" stroke="#141414" stroke-width="0.6" stroke-opacity="0.9"/>
<polygon points="202.52,199.61 208.68,203.37 215.76,197.46 209.58,193.73" fill="#5cfc72" stroke="#141414" stroke-width="0.6" stroke-opacity="0.9"/>
<polygon points="189.38,201.68 195.44,205.61 202.52,199.61 196.44,195.71" fill="#5efc7e" stroke="#141414" stroke-width="0.6" stroke-opacity="0.9"/>
<polygon points="176.33,203.66 182.30,207.77 189.38,201.68 183.40,197.61" fill="#61fc89" stroke="#141414" stroke-width="0.6" stroke-opacity="0.9"/>
<polygon points="163.37,205.50 169.25,209.80 176.33,203.66 170.43,199.40" fill="#63fc93" stroke="#141414" stroke-width="0.6" stroke-opacity="0.9"/>
<polygon points="150.48,207.18 156.29,211.67 163.37,205.50 157.55,201.06" fill="#66fc9c" stroke="#141414" stroke-width="0.6" stroke-opacity="0.9"/>
<polygon points="137.67,208.68 143.40,213.37 150.48,207.18 144.74,202.54" fill="#66fca3" stroke="#141414" stroke-width="0.6" stroke-opacity="0.9"/>
<polygon points="124.93,209.95 130.59,214.85 137.67,208.68 132.00,203.83" fill="#66fca9" stroke="#141414" stroke-width="0.6" stroke-opacity="0.9"/>
<polygon points="222.02,201.07 228.37,204.56 235.46,198.75 229.09,195.28" fill="#58fc63" stroke="#141414" stroke-width="0.6" stroke-opacity="0.9"/>
<polygon points="208.68,203.37 214.93,207.01 222.02,201.07 215.76,197.46" fill="#5bfc71" stroke="#141414" stroke-width="0.6" stroke-opacity="0.9"/>
<polygon points="195.44,205.61 201.59,209.41 208.68,203.37 202.52,199.61" fill="#5efc7e" stroke="#141414" stroke-width="0.6" stroke-opacity="0.9"/>
<polygon points="182.30,207.77 188.35,211.74 195.44,205.61 189.38,201.68" fill="#61fc8a" stroke="#141414" stroke-width="0.6" stroke-opacity="0.9"/>
<polygon points="169.25,209.80 175.20,213.95 182.30,207.77 176.33,203.66" fill="#64fc95" stroke="#141414" stroke-width="0.6" stroke-opacity="0.9"/>
<polygon points="156.29,211.67 162.16,216.01 169.25,209.80 163.37,205.50" fill="#66fc9f" stroke="#141414" stroke-width="0.6" stroke-opacity="0.9"/>
<polygon points="143.40,213.37 149.19,217.91 156.29,211.67 150.48,207.18" fill="#66fca7" stroke="#141414" stroke-width="0.6" stroke-opacity="0.9"/>
<polygon points="130.59,214.85 136.31,219.59 143.40,213.37 137.67,208.68" fill="#66fcae" stroke="#141414" stroke-width="0.6" stroke-opacity="0.9"/>
<polygon points="214.93,207.01 221.27,210.53 228.37,204.56 222.02,201.07" fill="#5bfc6e" stroke="#141414" stroke-width="0.6" stroke-opacity="0.9"/>
<polygon points="201.59,209.41 207.82,213.09 214.93,207.01 208.68,203.37" fill="#5efc7c" stroke="#141414" stroke-width="0.6" stroke-opacity="0.9"/>
<polygon points="188.35,211.74 194.47,215.57 201.59,209.41 195.44,205.61" fill="#61fc8a" stroke="#141414" stroke-width="0.6" stroke-opacity="0.9"/>
<polygon points="175.20,213.95 181.24,217.96 188.35,211.74 182.30,207.77" fill="#64fc96" stroke="#141414" stroke-width="0.6" stroke-opacity="0.9"/>
<polygon points="162.16,216.01 168.10,220.21 175.20,213.95 169.25,209.80" fill="#66fca1" stroke="#141414" stroke-width="0.6" stroke-opacity="0.9"/>
<polygon points="149.19,217.91 155.05,222.29 162.16,216.01 156.29,211.67" fill="#66fcaa" stroke="#141414" stroke-width="0.6" stroke-opacity="0.9"/>
<polygon points="136.31,219.59 142.09,224.18 149.19,217.91 143.40,213.37" fill="#66fcb1" stroke="#141414" stroke-width="0.6" stroke-opacity="0.9"/>
<polygon points="207.82,213.09 214.14,216.63 221.27,210.53 214.93,207.01" fill="#5dfc7a" stroke="#141414" stroke-width="0.6" stroke-opacity="0.9"/>
<polygon points="194.47,215.57 200.69,219.28 207.82,213.09 201.59,209.41" fill="#61fc88" stroke="#141414" stroke-width="0.6" stroke-opacity="0.9"/>
<polygon points="181.24,217.96 187.35,221.83 194.47,215.57 188.35,211.74" fill="#64fc96" stroke="#141414" stroke-width="0.6" stroke-opacity="0.9"/>
<polygon points="168.10,220.21 174.11,224.26 181.24,217.96 175.20,213.95" fill="#66fca1" stroke="#141414" stroke-width="0.6" stroke-opacity="0.9"/>
<polygon points="155.05,222.29 160.98,226.53 168.10,220.21 162.16,216.01" fill="#66fcab" stroke="#141414" stroke-width="0.6" stroke-opacity="0.9"/>
<polygon points="142.09,224.18 147.93,228.62 155.05,222.29 149.19,217.91" fill="#66fcb4" stroke="#141414" stroke-width="0.6" stroke-opacity="0.9"/>
<polygon points="200.69,219.28 206.99,222.86 214.14,216.63 207.82,213.09" fill="#60fc85" stroke="#141414" stroke-width="0.6" stroke-opacity="0.9"/>
<polygon points="187.35,221.83 193.54,225.57 200.69,219.28 194.47,215.57" fill="#64fc94" stroke="#141414" stroke-width="0.6" stroke-opacity="0.9"/>
<polygon points="174.11,224.26 180.21,228.17 187.35,221.83 181.24,217.96" fill="#66fca1" stroke="#141414" stroke-width="0.6" stroke-opacity="0.9"/>
<polygon points="160.98,226.53 166.98,230.62 174.11,224.26 168.10,220.21" fill="#66fcac" stroke="#141414" stroke-width="0.6" stroke-opacity="0.9"/>
<polygon points="147.93,228.62 153.84,232.90 160.98,226.53 155.05,222.29" fill="#66fcb6" stroke="#141414" stroke-width="0.6" stroke-opacity="0.9"/>
<polygon points="193.54,225.57 199.83,229.18 206.99,222.86 200.69,219.28" fill="#63fc91" stroke="#141414" stroke-width="0.6" stroke-opacity="0.9"/>
<polygon points="180.21,228.17 186.39,231.95 193.54,225.57 187.35,221.83" fill="#66fca0" stroke="#141414" stroke-width="0.6" stroke-opacity="0.9"/>
<polygon points="166.98,230.62 173.05,234.58 180.21,228.17 174.11,224.26" fill="#66fcab" stroke="#141414" stroke-width="0.6" stroke-opacity="0.9"/>
<polygon points="153.84,232.90 159.83,237.04 166.98,230.62 160.98,226.53" fill="#66fcb6" stroke="#141414" stroke-width="0.6" stroke-opacity="0.9"/>
<polygon points="186.39,231.95 192.65,235.60 199.83,229.18 193.54,225.57" fill="#66fc9d" stroke="#141414" stroke-width="0.6" stroke-opacity="0.9"/>
<polygon points="173.05,234.58 179.21,238.39 186.39,231.95 180.21,228.17" fill="#66fcaa" stroke="#141414" stroke-width="0.6" stroke-opacity="0.9"/>
<polygon points="159.83,237.04 165.89,241.03 173.05,234.58 166.98,230.62" fill="#66fcb6" stroke="#141414" stroke-width="0.6" stroke-opacity="0.9"/>
<polygon points="179.21,238.39 185.46,242.08 192.65,235.60 186.39,231.95" fill="#66fca8" stroke="#141414" stroke-width="0.6" stroke-opacity="0.9"/>
<polygon points="165.89,241.03 172.03,244.89 179.21,238.39 173.05,234.58" fill="#66fcb4" stroke="#141414" stroke-width="0.6" stroke-opacity="0.9"/>
<polygon points="172.03,244.89 178.25,248.61 185.46,242.08 179.21,238.39" fill="#66fcb2" stroke="#141414" stroke-width="0.6" stroke-opacity="0.9"/>
<circle cx="53.19" cy="204.78" r="1.50" fill="#111"/>
<text x="34.56" y="202.42" font-family="Liberation Sans" font-size="9.08" textLength="14.26" lengthAdjust="spacingAndGlyphs" fill="#3c3c3c">200</text>
<circle cx="51.28" cy="185.34" r="1.50" fill="#111"/>
<text x="32.74" y="182.97" font-family="Liberation Sans" font-size="9.08" textLength="14.17" lengthAdjust="spacingAndGlyphs" fill="#3c3c3c">300</text>
<circle cx="49.36" cy="165.89" r="1.50" fill="#111"/>
<text x="30.99" y="163.52" font-family="Liberation Sans" font-size="9.08" textLength="13.99" lengthAdjust="spacingAndGlyphs" fill="#3c3c3c">400</text>
<circle cx="47.45" cy="146.44" r="1.50" fill="#111"/>
<text x="28.91" y="144.08" font-family="Liberation Sans" font-size="9.08" textLength="14.17" lengthAdjust="spacingAndGlyphs" fill="#3c3c3c">500</text>
<circle cx="45.53" cy="126.99" r="1.50" fill="#111"/>
<text x="26.90" y="124.63" font-family="Liberation Sans" font-size="9.08" textLength="14.26" lengthAdjust="spacingAndGlyphs" fill="#3c3c3c">600</text>
<circle cx="43.62" cy="107.55" r="1.50" fill="#111"/>
<text x="24.99" y="105.18" font-family="Liberation Sans" font-size="9.08" textLength="14.26" lengthAdjust="spacingAndGlyphs" fill="#3c3c3c">700</text>
<circle cx="41.70" cy="88.10" r="1.50" fill="#111"/>
<text x="23.12" y="85.73" font-family="Liberation Sans" font-size="9.08" textLength="14.21" lengthAdjust="spacingAndGlyphs" fill="#3c3c3c">800</text>
<circle cx="56.60" cy="239.40" r="1.40" fill="#111"/>
<text x="43.06" y="247.83" font-family="Liberation Sans" font-size="9.08" textLength="9.77" lengthAdjust="spacingAndGlyphs" fill="#3c3c3c">20</text>
<circle cx="87.22" cy="262.65" r="1.40" fill="#111"/>
<text x="73.78" y="271.08" font-family="Liberation Sans" font-size="9.08" textLength="9.67" lengthAdjust="spacingAndGlyphs" fill="#3c3c3c">30</text>
<circle cx="117.85" cy="285.90" r="1.40" fill="#111"/>
<text x="104.58" y="294.33" font-family="Liberation Sans" font-size="9.08" textLength="9.49" lengthAdjust="spacingAndGlyphs" fill="#3c3c3c">40</text>
<circle cx="148.47" cy="309.15" r="1.40" fill="#111"/>
<text x="135.03" y="317.58" font-family="Liberation Sans" font-size="9.08" textLength="9.67" lengthAdjust="spacingAndGlyphs" fill="#3c3c3c">50</text>
<circle cx="179.10" cy="332.40" r="1.40" fill="#111"/>
<text x="165.56" y="340.83" font-family="Liberation Sans" font-size="9.08" textLength="9.77" lengthAdjust="spacingAndGlyphs" fill="#3c3c3c">60</text>
<circle cx="179.10" cy="332.40" r="1.40" fill="#111"/>
<text x="183.25" y="340.83" font-family="Liberation Sans" font-size="9.08" textLength="9.67" lengthAdjust="spacingAndGlyphs" fill="#3c3c3c">50</text>
<circle cx="204.92" cy="314.54" r="1.40" fill="#111"/>
<text x="208.98" y="322.97" font-family="Liberation Sans" font-size="9.08" textLength="9.77" lengthAdjust="spacingAndGlyphs" fill="#3c3c3c">60</text>
<circle cx="230.74" cy="296.68" r="1.40" fill="#111"/>
<text x="234.80" y="305.11" font-family="Liberation Sans" font-size="9.08" textLength="9.77" lengthAdjust="spacingAndGlyphs" fill="#3c3c3c">70</text>
<circle cx="256.56" cy="278.82" r="1.40" fill="#111"/>
<text x="260.67" y="287.25" font-family="Liberation Sans" font-size="9.08" textLength="9.72" lengthAdjust="spacingAndGlyphs" fill="#3c3c3c">80</text>
<circle cx="282.38" cy="260.96" r="1.40" fill="#111"/>
<text x="286.49" y="269.39" font-family="Liberation Sans" font-size="9.08" textLength="9.72" lengthAdjust="spacingAndGlyphs" fill="#3c3c3c">90</text>
<circle cx="308.20" cy="243.10" r="1.40" fill="#111"/>
<text x="312.05" y="251.53" font-family="Liberation Sans" font-size="9.08" textLength="14.49" lengthAdjust="spacingAndGlyphs" fill="#3c3c3c">100</text>
<text x="22.93" y="322.60" font-family="Liberation Sans" font-size="11.30" textLength="95.03" lengthAdjust="spacingAndGlyphs" fill="#333">B: AOME Blend (%)</text>
<text x="254.74" y="326.00" font-family="Liberation Sans" font-size="11.30" textLength="69.57" lengthAdjust="spacingAndGlyphs" fill="#333">C: CuO (ppm)</text>
<text transform="translate(10.60,167.25) rotate(-90)" x="-27.68" y="0" font-size="11.30" textLength="55.36" lengthAdjust="spacingAndGlyphs" fill="#333">NoX (ppm)</text>
<circle cx="43.70" cy="112.30" r="3.20" fill="#c00000" stroke="#700" stroke-width="0.6"/>
<line x1="178.8" y1="239" x2="178.8" y2="248" stroke="#555" stroke-width="0.6"/>
<circle cx="178.80" cy="239.00" r="3.20" fill="#c00000" stroke="#700" stroke-width="0.6"/>
<circle cx="317.80" cy="145.20" r="3.20" fill="#f6bcbc" stroke="#d9a0a0" stroke-width="0.6"/>
<polygon points="393.30,264.90 554.20,326.00 638.70,227.80 488.80,180.50" fill="#646464" stroke="#3a3a3a" stroke-width="0.6"/>
<line x1="390.22" y1="226.85" x2="488.73" y2="145.72" stroke="#3c3c3c" stroke-width="0.7"/>
<line x1="488.73" y1="145.72" x2="641.57" y2="191.11" stroke="#3c3c3c" stroke-width="0.7"/>
<line x1="388.20" y1="201.82" x2="488.68" y2="122.83" stroke="#3c3c3c" stroke-width="0.7"/>
<line x1="488.68" y1="122.83" x2="643.45" y2="166.96" stroke="#3c3c3c" stroke-width="0.7"/>
<line x1="386.17" y1="176.79" x2="488.64" y2="99.95" stroke="#3c3c3c" stroke-width="0.7"/>
<line x1="488.64" y1="99.95" x2="645.34" y2="142.82" stroke="#3c3c3c" stroke-width="0.7"/>
<line x1="384.15" y1="151.76" x2="488.59" y2="77.07" stroke="#3c3c3c" stroke-width="0.7"/>
<line x1="488.59" y1="77.07" x2="647.23" y2="118.68" stroke="#3c3c3c" stroke-width="0.7"/>
<line x1="382.12" y1="126.73" x2="488.55" y2="54.18" stroke="#3c3c3c" stroke-width="0.7"/>
<line x1="488.55" y1="54.18" x2="649.11" y2="94.54" stroke="#3c3c3c" stroke-width="0.7"/>
<line x1="469.03" y1="161.94" x2="466.82" y2="45.38" stroke="#3c3c3c" stroke-width="0.7"/>
<line x1="449.33" y1="178.17" x2="445.14" y2="59.46" stroke="#3c3c3c" stroke-width="0.7"/>
<line x1="429.63" y1="194.40" x2="423.46" y2="73.54" stroke="#3c3c3c" stroke-width="0.7"/>
<line x1="409.92" y1="210.63" x2="401.78" y2="87.62" stroke="#3c3c3c" stroke-width="0.7"/>
<line x1="603.36" y1="179.76" x2="610.38" y2="60.62" stroke="#3c3c3c" stroke-width="0.7"/>
<line x1="565.15" y1="168.41" x2="569.75" y2="50.85" stroke="#3c3c3c" stroke-width="0.7"/>
<line x1="526.94" y1="157.06" x2="529.12" y2="41.07" stroke="#3c3c3c" stroke-width="0.7"/>
<line x1="380.10" y1="101.70" x2="488.50" y2="31.30" stroke="#222" stroke-width="0.8"/>
<line x1="488.50" y1="31.30" x2="651.00" y2="70.40" stroke="#222" stroke-width="0.8"/>
<line x1="393.30" y1="264.90" x2="380.10" y2="101.70" stroke="#222" stroke-width="0.8"/>
<line x1="488.80" y1="180.50" x2="488.50" y2="31.30" stroke="#222" stroke-width="0.8"/>
<line x1="638.70" y1="227.80" x2="651.00" y2="70.40" stroke="#222" stroke-width="0.8"/>
<polyline points="560.50,318.68 558.92,319.94 557.25,321.27 556.14,322.16 554.48,323.49 553.37,324.38 552.26,325.26" fill="none" stroke="#00ffa0" stroke-width="1.3"/>
<polyline points="593.42,280.43 592.09,281.47 590.40,282.81 589.27,283.70 587.59,285.03 586.47,285.92 584.79,287.25 583.67,288.14 581.99,289.47 580.44,290.70 579.19,291.70 577.52,293.03 576.41,293.92 574.74,295.25 573.62,296.14 571.96,297.47 570.31,298.80 569.18,299.70 567.52,301.03 566.41,301.92 564.75,303.25 563.35,304.38 561.99,305.47 560.34,306.80 559.24,307.69 557.58,309.03 556.22,310.13 554.84,311.25 553.19,312.58 552.09,313.47 550.45,314.80 548.91,316.05 547.71,317.02 546.07,318.35 544.98,319.24 543.34,320.57 542.25,321.46" fill="none" stroke="#00ff5c" stroke-width="1.3"/>
<polyline points="471.86,195.47 473.69,194.73 475.29,194.09 476.88,193.45 478.47,192.80 480.05,192.16 481.64,191.51 483.37,190.79 485.30,190.00 487.16,189.22 488.73,188.57 490.30,187.91 491.86,187.25 493.42,186.59 494.98,185.92 496.92,185.10 498.86,184.26 499.65,183.92" fill="none" stroke="#00ff5c" stroke-width="1.3"/>
<polyline points="630.75,237.04 629.43,238.05 627.88,239.25 626.55,240.27 624.98,241.48 623.67,242.49 622.04,243.76 620.81,244.71 619.09,246.04 617.95,246.93 616.24,248.26 615.10,249.15 613.39,250.49 612.26,251.37 610.56,252.71 609.43,253.60 607.73,254.93 606.60,255.82 604.91,257.15 603.56,258.22 602.10,259.37 600.41,260.71 599.29,261.60 597.61,262.93 596.50,263.82 594.82,265.16 593.71,266.05 592.03,267.38 590.37,268.71 589.26,269.60 587.59,270.94 586.48,271.83 584.82,273.16 583.47,274.25 582.06,275.39 580.41,276.72 579.31,277.61 577.66,278.95 576.38,279.99 574.91,281.18 573.27,282.51 572.17,283.40 570.53,284.74 569.07,285.93 567.80,286.96 566.17,288.30 565.08,289.19 563.44,290.53 561.82,291.86 560.73,292.75 559.10,294.09 557.68,295.26 556.39,296.32 554.77,297.65 553.69,298.54 552.07,299.88 550.45,301.22 549.38,302.11 547.76,303.44 546.15,304.78 545.08,305.67 543.46,307.01 541.86,308.34 540.78,309.24 539.18,310.57 537.57,311.91 536.50,312.80 534.90,314.14 533.30,315.47 532.23,316.36 531.17,317.25" fill="none" stroke="#00ff18" stroke-width="1.3"/>
<polyline points="453.51,211.69 455.33,211.03 457.15,210.36 458.96,209.70 460.62,209.08 462.27,208.47 463.93,207.85 465.58,207.23 467.23,206.61 468.88,205.99 470.52,205.37 472.16,204.74 473.80,204.11 475.45,203.48 477.29,202.77 479.13,202.05 480.97,201.33 482.76,200.62 484.39,199.99 486.00,199.34 487.62,198.70 489.23,198.06 490.84,197.41 492.45,196.76 494.05,196.11 495.79,195.40 497.65,194.64 499.52,193.87 501.23,193.16 502.82,192.50 504.41,191.83 505.99,191.17 507.57,190.50 509.14,189.84 510.77,189.14 512.65,188.34 513.07,188.16" fill="none" stroke="#00ff18" stroke-width="1.3"/>
<polyline points="624.56,223.34 623.43,224.23 621.74,225.56 620.62,226.45 618.93,227.78 617.38,229.02 616.14,230.01 614.47,231.35 613.36,232.24 611.69,233.57 610.58,234.46 608.92,235.80 607.27,237.14 606.17,238.03 604.52,239.37 603.42,240.26 601.78,241.60 600.14,242.94 599.05,243.84 597.42,245.18 596.30,246.09 594.70,247.41 593.07,248.75 591.99,249.65 590.37,250.99 588.75,252.33 587.68,253.23 586.06,254.57 584.67,255.73 583.38,256.81 581.77,258.15 580.62,259.12 579.10,260.39 577.50,261.74 576.44,262.64 574.84,263.98 573.25,265.33 572.19,266.22 570.60,267.57 569.01,268.91 567.89,269.86 566.37,271.16 564.79,272.50 563.46,273.64 562.16,274.75 560.58,276.09 559.01,277.44 557.96,278.34 556.39,279.68 554.82,281.03 553.77,281.93 552.20,283.28 550.64,284.62 549.53,285.58 548.03,286.87 546.47,288.22 544.91,289.57 543.87,290.46 542.31,291.81 540.76,293.16 539.72,294.06 538.17,295.40 536.61,296.75 535.06,298.10 534.03,299.00 532.48,300.35 530.93,301.69 529.50,302.94 528.35,303.94 526.81,305.29 525.27,306.64 524.22,307.55 522.69,308.88 521.15,310.23 519.61,311.58 518.59,312.48 518.59,312.48" fill="none" stroke="#2cff00" stroke-width="1.3"/>
<polyline points="434.64,228.37 436.35,227.82 438.07,227.27 439.80,226.71 441.56,226.14 443.32,225.57 445.07,224.99 446.82,224.42 448.57,223.84 450.32,223.26 452.06,222.68 453.80,222.10 455.54,221.51 457.28,220.92 459.01,220.34 460.74,219.75 462.47,219.15 464.20,218.56 465.92,217.96 467.64,217.36 469.36,216.77 471.08,216.16 472.79,215.56 474.50,214.95 476.21,214.35 477.92,213.74 479.62,213.13 481.32,212.51 483.02,211.90 484.71,211.28 486.41,210.66 488.15,210.02 489.88,209.38 491.62,208.73 493.36,208.09 495.11,207.43 496.85,206.78 498.60,206.11 500.34,205.45 502.09,204.78 503.84,204.11 505.59,203.43 507.31,202.76 508.97,202.12 510.62,201.47 512.26,200.82 513.91,200.17 515.55,199.52 517.18,198.86 518.82,198.21 520.45,197.55 522.08,196.89 523.70,196.22 525.32,195.56 526.94,194.89 528.55,194.22 530.16,193.55" fill="none" stroke="#2cff00" stroke-width="1.3"/>
<polyline points="595.30,214.11 594.07,215.55 592.82,217.00 591.56,218.44 590.28,219.87 589.00,221.31 587.71,222.74 586.41,224.16 585.10,225.59 583.78,227.01 582.46,228.43 581.13,229.85 579.79,231.26 578.45,232.68 577.11,234.09 575.76,235.50 574.40,236.91 573.04,238.32 571.68,239.73 570.32,241.13 568.95,242.54 567.58,243.94 566.20,245.34 564.83,246.75 563.45,248.15 562.07,249.55 560.68,250.95 559.57,252.07 558.37,253.27 556.98,254.67 555.59,256.07 554.20,257.46 552.80,258.85 551.40,260.25 550.00,261.64 548.60,263.03 547.20,264.42 545.80,265.81 544.86,266.74 543.45,268.13 542.05,269.52 540.64,270.91 539.23,272.29 537.82,273.68 536.40,275.07 534.99,276.45 533.58,277.84 532.24,279.15 531.21,280.15 529.80,281.53 528.38,282.91 526.96,284.29 525.54,285.68 524.12,287.06 522.69,288.44 521.27,289.82 520.32,290.74 518.90,292.12 517.47,293.50 516.04,294.88 514.62,296.25 513.19,297.63 511.76,299.01 510.33,300.39 509.31,301.37 507.95,302.68 506.51,304.05 505.08,305.43 503.65,306.80 503.65,306.80" fill="none" stroke="#70ff00" stroke-width="1.3"/>
<polyline points="415.20,245.55 416.81,245.12 418.42,244.69 420.29,244.19 422.19,243.68 424.08,243.17 425.98,242.65 427.87,242.14 429.63,241.66 431.23,241.22 432.83,240.78 434.49,240.33 436.38,239.81 438.27,239.28 440.15,238.76 442.04,238.24 443.92,237.71 445.56,237.25 447.14,236.80 448.73,236.36 450.52,235.85 452.40,235.32 454.28,234.78 456.16,234.25 458.04,233.71 459.78,233.21 461.35,232.76 462.92,232.30 464.61,231.82 466.49,231.27 468.36,230.73 470.24,230.18 472.11,229.63 473.89,229.11 475.45,228.65 477.01,228.19 478.67,227.70 480.54,227.14 482.41,226.59 484.28,226.03 486.15,225.47 487.88,224.95 489.43,224.49 490.97,224.02 492.69,223.50 494.56,222.94 496.43,222.37 498.30,221.80 500.17,221.23 501.74,220.75 503.27,220.28 504.84,219.80 506.71,219.23 508.58,218.66 510.44,218.08 512.31,217.50 513.95,217.00 515.46,216.53 516.98,216.06 518.85,215.47 520.72,214.89 522.59,214.31 524.46,213.72 526.02,213.24 527.52,212.77 529.15,212.26 531.03,211.67 532.90,211.08 534.78,210.49 536.46,209.96 537.94,209.50 539.48,209.02 541.36,208.42 543.25,207.83 545.14,207.24 546.77,206.73 548.23,206.27 549.87,205.75 551.78,205.16 553.68,204.57 555.48,204.00 556.92,203.56 558.46,203.08 559.42,202.78" fill="none" stroke="#70ff00" stroke-width="1.3"/>
<polyline points="395.15,263.27 396.64,262.97 398.46,262.61 400.56,262.19 402.55,261.80 404.02,261.51 405.85,261.15 407.97,260.74 409.88,260.36 411.33,260.08 413.29,259.70 415.43,259.28 417.12,258.95 418.65,258.66 420.81,258.25 422.85,257.86 424.27,257.59 426.22,257.22 428.40,256.81 429.93,256.53 431.69,256.20 433.90,255.80 435.51,255.51 437.23,255.20 439.46,254.80 441.03,254.53 442.84,254.22 445.10,253.83 446.46,253.60 448.54,253.26 450.48,252.94 452.02,252.70 454.37,252.33 455.76,252.12 457.94,251.80 459.65,251.55 461.58,251.28 463.48,251.03 465.31,250.80 467.24,250.56 469.14,250.34 470.93,250.15 473.12,249.94 474.53,249.81 476.89,249.63 478.75,249.51 480.34,249.42 482.58,249.33 484.77,249.29 486.78,249.30 488.66,249.36 490.74,249.48 492.92,249.70 494.78,249.97 496.65,250.34 499.03,251.03 501.07,251.91 502.56,252.80 503.73,253.76 504.71,254.90 505.31,255.87 505.81,257.01 506.08,258.00 506.28,259.31 506.33,260.56 506.26,261.78 506.11,262.96 505.88,264.12 505.59,265.26 505.25,266.39 504.76,267.80 504.23,269.13 503.77,270.21 503.08,271.71 502.50,272.87 501.91,274.00 501.09,275.49 500.47,276.58 499.59,278.06 498.70,279.50 497.99,280.61 497.00,282.13 496.33,283.14 495.30,284.65 494.25,286.14 493.55,287.14 492.47,288.63 491.37,290.11 490.42,291.38 489.52,292.57 488.39,294.04 487.24,295.51 486.09,296.97 485.31,297.94 484.14,299.40 484.14,299.40" fill="none" stroke="#b4ff00" stroke-width="1.3"/>
<line x1="393.30" y1="264.90" x2="554.20" y2="326.00" stroke="#111" stroke-width="0.8"/>
<line x1="554.20" y1="326.00" x2="638.70" y2="227.80" stroke="#111" stroke-width="0.8"/>
<polygon points="496.48,100.09 488.65,103.86 483.52,105.20 491.37,101.65" fill="#14ffa1" stroke="#141414" stroke-width="0.5" stroke-opacity="0.75"/>
<polygon points="491.37,101.65 483.52,105.20 478.38,106.71 486.25,103.37" fill="#14ff88" stroke="#141414" stroke-width="0.5" stroke-opacity="0.75"/>
<polygon points="504.35,97.02 496.48,100.09 491.37,101.65 499.27,98.79" fill="#14ff65" stroke="#141414" stroke-width="0.5" stroke-opacity="0.75"/>
<polygon points="486.25,103.37 478.38,106.71 473.22,108.36 481.11,105.23" fill="#14ff70" stroke="#141414" stroke-width="0.5" stroke-opacity="0.75"/>
<polygon points="499.27,98.79 491.37,101.65 486.25,103.37 494.16,100.72" fill="#14ff4e" stroke="#141414" stroke-width="0.5" stroke-opacity="0.75"/>
<polygon points="512.27,94.62 504.35,97.02 499.27,98.79 507.20,96.60" fill="#14ff31" stroke="#141414" stroke-width="0.5" stroke-opacity="0.75"/>
<polygon points="494.16,100.72 486.25,103.37 481.11,105.23 489.04,102.79" fill="#14ff39" stroke="#141414" stroke-width="0.5" stroke-opacity="0.75"/>
<polygon points="507.20,96.60 499.27,98.79 494.16,100.72 502.12,98.74" fill="#14ff1d" stroke="#141414" stroke-width="0.5" stroke-opacity="0.75"/>
<polygon points="481.11,105.23 473.22,108.36 468.05,110.15 475.95,107.22" fill="#14ff5a" stroke="#141414" stroke-width="0.5" stroke-opacity="0.75"/>
<polygon points="520.21,92.85 512.27,94.62 507.20,96.60 515.16,95.05" fill="#24ff14" stroke="#141414" stroke-width="0.5" stroke-opacity="0.75"/>
<polygon points="475.95,107.22 468.05,110.15 462.86,112.05 470.79,109.33" fill="#14ff46" stroke="#141414" stroke-width="0.5" stroke-opacity="0.75"/>
<polygon points="489.04,102.79 481.11,105.23 475.95,107.22 483.91,104.99" fill="#14ff26" stroke="#141414" stroke-width="0.5" stroke-opacity="0.75"/>
<polygon points="502.12,98.74 494.16,100.72 489.04,102.79 497.02,101.02" fill="#1fff14" stroke="#141414" stroke-width="0.5" stroke-opacity="0.75"/>
<polygon points="515.16,95.05 507.20,96.60 502.12,98.74 510.10,97.40" fill="#37ff14" stroke="#141414" stroke-width="0.5" stroke-opacity="0.75"/>
<polygon points="528.17,91.71 520.21,92.85 515.16,95.05 523.15,94.12" fill="#4aff14" stroke="#141414" stroke-width="0.5" stroke-opacity="0.75"/>
<polygon points="483.91,104.99 475.95,107.22 470.79,109.33 478.77,107.30" fill="#15ff14" stroke="#141414" stroke-width="0.5" stroke-opacity="0.75"/>
<polygon points="523.15,94.12 515.16,95.05 510.10,97.40 518.11,96.68" fill="#5aff14" stroke="#141414" stroke-width="0.5" stroke-opacity="0.75"/>
<polygon points="470.79,109.33 462.86,112.05 457.66,114.05 465.61,111.53" fill="#14ff33" stroke="#141414" stroke-width="0.5" stroke-opacity="0.75"/>
<polygon points="497.02,101.02 489.04,102.79 483.91,104.99 491.91,103.43" fill="#30ff14" stroke="#141414" stroke-width="0.5" stroke-opacity="0.75"/>
<polygon points="510.10,97.40 502.12,98.74 497.02,101.02 505.03,99.89" fill="#47ff14" stroke="#141414" stroke-width="0.5" stroke-opacity="0.75"/>
<polygon points="536.15,91.15 528.17,91.71 523.15,94.12 531.15,93.77" fill="#68ff14" stroke="#141414" stroke-width="0.5" stroke-opacity="0.75"/>
<polygon points="465.61,111.53 457.66,114.05 452.44,116.12 460.42,113.80" fill="#14ff22" stroke="#141414" stroke-width="0.5" stroke-opacity="0.75"/>
<polygon points="478.77,107.30 470.79,109.33 465.61,111.53 473.61,109.70" fill="#26ff14" stroke="#141414" stroke-width="0.5" stroke-opacity="0.75"/>
<polygon points="491.91,103.43 483.91,104.99 478.77,107.30 486.79,105.94" fill="#40ff14" stroke="#141414" stroke-width="0.5" stroke-opacity="0.75"/>
<polygon points="505.03,99.89 497.02,101.02 491.91,103.43 499.95,102.51" fill="#57ff14" stroke="#141414" stroke-width="0.5" stroke-opacity="0.75"/>
<polygon points="518.11,96.68 510.10,97.40 505.03,99.89 513.07,99.38" fill="#69ff14" stroke="#141414" stroke-width="0.5" stroke-opacity="0.75"/>
<polygon points="531.15,93.77 523.15,94.12 518.11,96.68 526.14,96.55" fill="#77ff14" stroke="#141414" stroke-width="0.5" stroke-opacity="0.75"/>
<polygon points="544.13,91.16 536.15,91.15 531.15,93.77 539.15,93.99" fill="#81ff14" stroke="#141414" stroke-width="0.5" stroke-opacity="0.75"/>
<polygon points="460.42,113.80 452.44,116.12 447.21,118.26 455.22,116.13" fill="#18ff14" stroke="#141414" stroke-width="0.5" stroke-opacity="0.75"/>
<polygon points="473.61,109.70 465.61,111.53 460.42,113.80 468.45,112.18" fill="#36ff14" stroke="#141414" stroke-width="0.5" stroke-opacity="0.75"/>
<polygon points="486.79,105.94 478.77,107.30 473.61,109.70 481.67,108.55" fill="#4fff14" stroke="#141414" stroke-width="0.5" stroke-opacity="0.75"/>
<polygon points="499.95,102.51 491.91,103.43 486.79,105.94 494.85,105.23" fill="#64ff14" stroke="#141414" stroke-width="0.5" stroke-opacity="0.75"/>
<polygon points="513.07,99.38 505.03,99.89 499.95,102.51 508.01,102.20" fill="#76ff14" stroke="#141414" stroke-width="0.5" stroke-opacity="0.75"/>
<polygon points="526.14,96.55 518.11,96.68 513.07,99.38 521.12,99.46" fill="#83ff14" stroke="#141414" stroke-width="0.5" stroke-opacity="0.75"/>
<polygon points="539.15,93.99 531.15,93.77 526.14,96.55 534.17,96.98" fill="#8dff14" stroke="#141414" stroke-width="0.5" stroke-opacity="0.75"/>
<polygon points="552.11,91.70 544.13,91.16 539.15,93.99 547.16,94.75" fill="#93ff14" stroke="#141414" stroke-width="0.5" stroke-opacity="0.75"/>
<polygon points="468.45,112.18 460.42,113.80 455.22,116.13 463.27,114.70" fill="#45ff14" stroke="#141414" stroke-width="0.5" stroke-opacity="0.75"/>
<polygon points="481.67,108.55 473.61,109.70 468.45,112.18 476.53,111.22" fill="#5dff14" stroke="#141414" stroke-width="0.5" stroke-opacity="0.75"/>
<polygon points="508.01,102.20 499.95,102.51 494.85,105.23 502.94,105.12" fill="#81ff14" stroke="#141414" stroke-width="0.5" stroke-opacity="0.75"/>
<polygon points="534.17,96.98 526.14,96.55 521.12,99.46 529.17,100.09" fill="#97ff14" stroke="#141414" stroke-width="0.5" stroke-opacity="0.75"/>
<polygon points="547.16,94.75 539.15,93.99 534.17,96.98 542.20,97.94" fill="#9dff14" stroke="#141414" stroke-width="0.5" stroke-opacity="0.75"/>
<polygon points="455.22,116.13 447.21,118.26 441.98,120.43 450.00,118.50" fill="#28ff14" stroke="#141414" stroke-width="0.5" stroke-opacity="0.75"/>
<polygon points="494.85,105.23 486.79,105.94 481.67,108.55 489.75,108.03" fill="#71ff14" stroke="#141414" stroke-width="0.5" stroke-opacity="0.75"/>
<polygon points="521.12,99.46 513.07,99.38 508.01,102.20 516.09,102.48" fill="#8eff14" stroke="#141414" stroke-width="0.5" stroke-opacity="0.75"/>
<polygon points="560.08,92.76 552.11,91.70 547.16,94.75 555.16,96.01" fill="#a0ff14" stroke="#141414" stroke-width="0.5" stroke-opacity="0.75"/>
<polygon points="450.00,118.50 441.98,120.43 436.73,122.62 444.78,120.88" fill="#38ff14" stroke="#141414" stroke-width="0.5" stroke-opacity="0.75"/>
<polygon points="463.27,114.70 455.22,116.13 450.00,118.50 458.09,117.26" fill="#53ff14" stroke="#141414" stroke-width="0.5" stroke-opacity="0.75"/>
<polygon points="476.53,111.22 468.45,112.18 463.27,114.70 471.38,113.93" fill="#6aff14" stroke="#141414" stroke-width="0.5" stroke-opacity="0.75"/>
<polygon points="489.75,108.03 481.67,108.55 476.53,111.22 484.64,110.89" fill="#7dff14" stroke="#141414" stroke-width="0.5" stroke-opacity="0.75"/>
<polygon points="502.94,105.12 494.85,105.23 489.75,108.03 497.87,108.12" fill="#8cff14" stroke="#141414" stroke-width="0.5" stroke-opacity="0.75"/>
<polygon points="516.09,102.48 508.01,102.20 502.94,105.12 511.05,105.60" fill="#98ff14" stroke="#141414" stroke-width="0.5" stroke-opacity="0.75"/>
<polygon points="529.17,100.09 521.12,99.46 516.09,102.48 524.17,103.32" fill="#a0ff14" stroke="#141414" stroke-width="0.5" stroke-opacity="0.75"/>
<polygon points="542.20,97.94 534.17,96.98 529.17,100.09 537.24,101.26" fill="#a6ff14" stroke="#141414" stroke-width="0.5" stroke-opacity="0.75"/>
<polygon points="555.16,96.01 547.16,94.75 542.20,97.94 550.23,99.41" fill="#a8ff14" stroke="#141414" stroke-width="0.5" stroke-opacity="0.75"/>
<polygon points="568.05,94.29 560.08,92.76 555.16,96.01 563.16,97.75" fill="#a7ff14" stroke="#141414" stroke-width="0.5" stroke-opacity="0.75"/>
<polygon points="458.09,117.26 450.00,118.50 444.78,120.88 452.90,119.83" fill="#61ff14" stroke="#141414" stroke-width="0.5" stroke-opacity="0.75"/>
<polygon points="497.87,108.12 489.75,108.03 484.64,110.89 492.79,111.19" fill="#96ff14" stroke="#141414" stroke-width="0.5" stroke-opacity="0.75"/>
<polygon points="524.17,103.32 516.09,102.48 511.05,105.60 519.16,106.64" fill="#a8ff14" stroke="#141414" stroke-width="0.5" stroke-opacity="0.75"/>
<polygon points="563.16,97.75 555.16,96.01 550.23,99.41 558.25,101.36" fill="#adff14" stroke="#141414" stroke-width="0.5" stroke-opacity="0.75"/>
<polygon points="444.78,120.88 436.73,122.62 431.46,124.81 439.55,123.26" fill="#48ff14" stroke="#141414" stroke-width="0.5" stroke-opacity="0.75"/>
<polygon points="471.38,113.93 463.27,114.70 458.09,117.26 466.23,116.68" fill="#76ff14" stroke="#141414" stroke-width="0.5" stroke-opacity="0.75"/>
<polygon points="484.64,110.89 476.53,111.22 471.38,113.93 479.53,113.81" fill="#88ff14" stroke="#141414" stroke-width="0.5" stroke-opacity="0.75"/>
<polygon points="511.05,105.60 502.94,105.12 497.87,108.12 506.00,108.80" fill="#a1ff14" stroke="#141414" stroke-width="0.5" stroke-opacity="0.75"/>
<polygon points="537.24,101.26 529.17,100.09 524.17,103.32 532.26,104.69" fill="#adff14" stroke="#141414" stroke-width="0.5" stroke-opacity="0.75"/>
<polygon points="550.23,99.41 542.20,97.94 537.24,101.26 545.29,102.94" fill="#afff14" stroke="#141414" stroke-width="0.5" stroke-opacity="0.75"/>
<polygon points="576.00,96.27 568.05,94.29 563.16,97.75 571.13,99.94" fill="#aaff14" stroke="#141414" stroke-width="0.5" stroke-opacity="0.75"/>
<polygon points="439.55,123.26 431.46,124.81 426.19,126.98 434.30,125.61" fill="#57ff14" stroke="#141414" stroke-width="0.5" stroke-opacity="0.75"/>
<polygon points="452.90,119.83 444.78,120.88 439.55,123.26 447.70,122.39" fill="#6fff14" stroke="#141414" stroke-width="0.5" stroke-opacity="0.75"/>
<polygon points="466.23,116.68 458.09,117.26 452.90,119.83 461.07,119.44" fill="#82ff14" stroke="#141414" stroke-width="0.5" stroke-opacity="0.75"/>
<polygon points="479.53,113.81 471.38,113.93 466.23,116.68 474.41,116.75" fill="#92ff14" stroke="#141414" stroke-width="0.5" stroke-opacity="0.75"/>
<polygon points="492.79,111.19 484.64,110.89 479.53,113.81 487.70,114.29" fill="#9fff14" stroke="#141414" stroke-width="0.5" stroke-opacity="0.75"/>
<polygon points="506.00,108.80 497.87,108.12 492.79,111.19 500.96,112.06" fill="#a9ff14" stroke="#141414" stroke-width="0.5" stroke-opacity="0.75"/>
<polygon points="519.16,106.64 511.05,105.60 506.00,108.80 514.15,110.04" fill="#afff14" stroke="#141414" stroke-width="0.5" stroke-opacity="0.75"/>
<polygon points="532.26,104.69 524.17,103.32 519.16,106.64 527.28,108.22" fill="#b3ff14" stroke="#141414" stroke-width="0.5" stroke-opacity="0.75"/>
<polygon points="545.29,102.94 537.24,101.26 532.26,104.69 540.35,106.57" fill="#b4ff14" stroke="#141414" stroke-width="0.5" stroke-opacity="0.75"/>
<polygon points="558.25,101.36 550.23,99.41 545.29,102.94 553.34,105.09" fill="#b2ff14" stroke="#141414" stroke-width="0.5" stroke-opacity="0.75"/>
<polygon points="571.13,99.94 563.16,97.75 558.25,101.36 566.26,103.75" fill="#aeff14" stroke="#141414" stroke-width="0.5" stroke-opacity="0.75"/>
<polygon points="583.93,98.68 576.00,96.27 571.13,99.94 579.09,102.56" fill="#a7ff14" stroke="#141414" stroke-width="0.5" stroke-opacity="0.75"/>
<polygon points="434.30,125.61 426.19,126.98 420.90,129.11 429.04,127.92" fill="#67ff14" stroke="#141414" stroke-width="0.5" stroke-opacity="0.75"/>
<polygon points="447.70,122.39 439.55,123.26 434.30,125.61 442.48,124.93" fill="#7cff14" stroke="#141414" stroke-width="0.5" stroke-opacity="0.75"/>
<polygon points="461.07,119.44 452.90,119.83 447.70,122.39 455.90,122.19" fill="#8eff14" stroke="#141414" stroke-width="0.5" stroke-opacity="0.75"/>
<polygon points="474.41,116.75 466.23,116.68 461.07,119.44 469.28,119.70" fill="#9dff14" stroke="#141414" stroke-width="0.5" stroke-opacity="0.75"/>
<polygon points="487.70,114.29 479.53,113.81 474.41,116.75 482.61,117.42" fill="#a8ff14" stroke="#141414" stroke-width="0.5" stroke-opacity="0.75"/>
<polygon points="500.96,112.06 492.79,111.19 487.70,114.29 495.90,115.36" fill="#b0ff14" stroke="#141414" stroke-width="0.5" stroke-opacity="0.75"/>
<polygon points="514.15,110.04 506.00,108.80 500.96,112.06 509.13,113.50" fill="#b5ff14" stroke="#141414" stroke-width="0.5" stroke-opacity="0.75"/>
<polygon points="527.28,108.22 519.16,106.64 514.15,110.04 522.30,111.81" fill="#b8ff14" stroke="#141414" stroke-width="0.5" stroke-opacity="0.75"/>
<polygon points="540.35,106.57 532.26,104.69 527.28,108.22 535.40,110.29" fill="#b8ff14" stroke="#141414" stroke-width="0.5" stroke-opacity="0.75"/>
<polygon points="553.34,105.09 545.29,102.94 540.35,106.57 548.43,108.92" fill="#b6ff14" stroke="#141414" stroke-width="0.5" stroke-opacity="0.75"/>
<polygon points="566.26,103.75 558.25,101.36 553.34,105.09 561.38,107.69" fill="#b1ff14" stroke="#141414" stroke-width="0.5" stroke-opacity="0.75"/>
<polygon points="579.09,102.56 571.13,99.94 566.26,103.75 574.25,106.57" fill="#aaff14" stroke="#141414" stroke-width="0.5" stroke-opacity="0.75"/>
<polygon points="591.84,101.48 583.93,98.68 579.09,102.56 587.03,105.57" fill="#a1ff14" stroke="#141414" stroke-width="0.5" stroke-opacity="0.75"/>
<polygon points="429.04,127.92 420.90,129.11 415.59,131.17 423.77,130.16" fill="#78ff14" stroke="#141414" stroke-width="0.5" stroke-opacity="0.75"/>
<polygon points="442.48,124.93 434.30,125.61 429.04,127.92 437.26,127.41" fill="#8bff14" stroke="#141414" stroke-width="0.5" stroke-opacity="0.75"/>
<polygon points="455.90,122.19 447.70,122.39 442.48,124.93 450.72,124.91" fill="#9aff14" stroke="#141414" stroke-width="0.5" stroke-opacity="0.75"/>
<polygon points="482.61,117.42 474.41,116.75 469.28,119.70 477.52,120.56" fill="#b0ff14" stroke="#141414" stroke-width="0.5" stroke-opacity="0.75"/>
<polygon points="509.13,113.50 500.96,112.06 495.90,115.36 504.11,116.99" fill="#bbff14" stroke="#141414" stroke-width="0.5" stroke-opacity="0.75"/>
<polygon points="522.30,111.81 514.15,110.04 509.13,113.50 517.32,115.46" fill="#bcff14" stroke="#141414" stroke-width="0.5" stroke-opacity="0.75"/>
<polygon points="548.43,108.92 540.35,106.57 535.40,110.29 543.51,112.84" fill="#b8ff14" stroke="#141414" stroke-width="0.5" stroke-opacity="0.75"/>
<polygon points="574.25,106.57 566.26,103.75 561.38,107.69 569.40,110.70" fill="#abff14" stroke="#141414" stroke-width="0.5" stroke-opacity="0.75"/>
<polygon points="587.03,105.57 579.09,102.56 574.25,106.57 582.21,109.78" fill="#a1ff14" stroke="#141414" stroke-width="0.5" stroke-opacity="0.75"/>
<polygon points="599.72,104.65 591.84,101.48 587.03,105.57 594.94,108.94" fill="#96ff14" stroke="#141414" stroke-width="0.5" stroke-opacity="0.75"/>
<polygon points="469.28,119.70 461.07,119.44 455.90,122.19 464.14,122.63" fill="#a7ff14" stroke="#141414" stroke-width="0.5" stroke-opacity="0.75"/>
<polygon points="495.90,115.36 487.70,114.29 482.61,117.42 490.84,118.68" fill="#b7ff14" stroke="#141414" stroke-width="0.5" stroke-opacity="0.75"/>
<polygon points="535.40,110.29 527.28,108.22 522.30,111.81 530.45,114.08" fill="#bbff14" stroke="#141414" stroke-width="0.5" stroke-opacity="0.75"/>
<polygon points="561.38,107.69 553.34,105.09 548.43,108.92 556.49,111.72" fill="#b2ff14" stroke="#141414" stroke-width="0.5" stroke-opacity="0.75"/>
<polygon points="423.77,130.16 415.59,131.17 410.26,133.15 418.48,132.31" fill="#88ff14" stroke="#141414" stroke-width="0.5" stroke-opacity="0.75"/>
<polygon points="437.26,127.41 429.04,127.92 423.77,130.16 432.02,129.83" fill="#99ff14" stroke="#141414" stroke-width="0.5" stroke-opacity="0.75"/>
<polygon points="450.72,124.91 442.48,124.93 437.26,127.41 445.53,127.57" fill="#a7ff14" stroke="#141414" stroke-width="0.5" stroke-opacity="0.75"/>
<polygon points="464.14,122.63 455.90,122.19 450.72,124.91 459.00,125.52" fill="#b1ff14" stroke="#141414" stroke-width="0.5" stroke-opacity="0.75"/>
<polygon points="477.52,120.56 469.28,119.70 464.14,122.63 472.42,123.67" fill="#b9ff14" stroke="#141414" stroke-width="0.5" stroke-opacity="0.75"/>
<polygon points="490.84,118.68 482.61,117.42 477.52,120.56 485.78,122.00" fill="#beff14" stroke="#141414" stroke-width="0.5" stroke-opacity="0.75"/>
<polygon points="504.11,116.99 495.90,115.36 490.84,118.68 499.09,120.50" fill="#c0ff14" stroke="#141414" stroke-width="0.5" stroke-opacity="0.75"/>
<polygon points="517.32,115.46 509.13,113.50 504.11,116.99 512.33,119.14" fill="#c0ff14" stroke="#141414" stroke-width="0.5" stroke-opacity="0.75"/>
<polygon points="530.45,114.08 522.30,111.81 517.32,115.46 525.50,117.92" fill="#beff14" stroke="#141414" stroke-width="0.5" stroke-opacity="0.75"/>
<polygon points="543.51,112.84 535.40,110.29 530.45,114.08 538.59,116.83" fill="#baff14" stroke="#141414" stroke-width="0.5" stroke-opacity="0.75"/>
<polygon points="556.49,111.72 548.43,108.92 543.51,112.84 551.61,115.83" fill="#b3ff14" stroke="#141414" stroke-width="0.5" stroke-opacity="0.75"/>
<polygon points="569.40,110.70 561.38,107.69 556.49,111.72 564.54,114.93" fill="#abff14" stroke="#141414" stroke-width="0.5" stroke-opacity="0.75"/>
<polygon points="582.21,109.78 574.25,106.57 569.40,110.70 577.39,114.11" fill="#a1ff14" stroke="#141414" stroke-width="0.5" stroke-opacity="0.75"/>
<polygon points="594.94,108.94 587.03,105.57 582.21,109.78 590.15,113.35" fill="#95ff14" stroke="#141414" stroke-width="0.5" stroke-opacity="0.75"/>
<polygon points="607.58,108.15 599.72,104.65 594.94,108.94 602.82,112.64" fill="#88ff14" stroke="#141414" stroke-width="0.5" stroke-opacity="0.75"/>
<polygon points="432.02,129.83 423.77,130.16 418.48,132.31 426.77,132.15" fill="#a8ff14" stroke="#141414" stroke-width="0.5" stroke-opacity="0.75"/>
<polygon points="499.09,120.50 490.84,118.68 485.78,122.00 494.06,124.00" fill="#c5ff14" stroke="#141414" stroke-width="0.5" stroke-opacity="0.75"/>
<polygon points="538.59,116.83 530.45,114.08 525.50,117.92 533.67,120.86" fill="#baff14" stroke="#141414" stroke-width="0.5" stroke-opacity="0.75"/>
<polygon points="602.82,112.64 594.94,108.94 590.15,113.35 598.06,117.25" fill="#85ff14" stroke="#141414" stroke-width="0.5" stroke-opacity="0.75"/>
<polygon points="418.48,132.31 410.26,133.15 404.92,135.03 413.17,134.35" fill="#9aff14" stroke="#141414" stroke-width="0.5" stroke-opacity="0.75"/>
<polygon points="445.53,127.57 437.26,127.41 432.02,129.83 440.33,130.16" fill="#b3ff14" stroke="#141414" stroke-width="0.5" stroke-opacity="0.75"/>
<polygon points="459.00,125.52 450.72,124.91 445.53,127.57 453.84,128.37" fill="#bcff14" stroke="#141414" stroke-width="0.5" stroke-opacity="0.75"/>
<polygon points="472.42,123.67 464.14,122.63 459.00,125.52 467.31,126.75" fill="#c1ff14" stroke="#141414" stroke-width="0.5" stroke-opacity="0.75"/>
<polygon points="485.78,122.00 477.52,120.56 472.42,123.67 480.72,125.30" fill="#c5ff14" stroke="#141414" stroke-width="0.5" stroke-opacity="0.75"/>
<polygon points="512.33,119.14 504.11,116.99 499.09,120.50 507.34,122.84" fill="#c4ff14" stroke="#141414" stroke-width="0.5" stroke-opacity="0.75"/>
<polygon points="525.50,117.92 517.32,115.46 512.33,119.14 520.54,121.80" fill="#c0ff14" stroke="#141414" stroke-width="0.5" stroke-opacity="0.75"/>
<polygon points="551.61,115.83 543.51,112.84 538.59,116.83 546.72,120.01" fill="#b3ff14" stroke="#141414" stroke-width="0.5" stroke-opacity="0.75"/>
<polygon points="564.54,114.93 556.49,111.72 551.61,115.83 559.69,119.25" fill="#aaff14" stroke="#141414" stroke-width="0.5" stroke-opacity="0.75"/>
<polygon points="577.39,114.11 569.40,110.70 564.54,114.93 572.57,118.54" fill="#9fff14" stroke="#141414" stroke-width="0.5" stroke-opacity="0.75"/>
<polygon points="590.15,113.35 582.21,109.78 577.39,114.11 585.36,117.88" fill="#93ff14" stroke="#141414" stroke-width="0.5" stroke-opacity="0.75"/>
<polygon points="615.40,111.96 607.58,108.15 602.82,112.64 610.67,116.65" fill="#77ff14" stroke="#141414" stroke-width="0.5" stroke-opacity="0.75"/>
<polygon points="426.77,132.15 418.48,132.31 413.17,134.35 421.50,134.36" fill="#b8ff14" stroke="#141414" stroke-width="0.5" stroke-opacity="0.75"/>
<polygon points="610.67,116.65 602.82,112.64 598.06,117.25 605.94,121.46" fill="#72ff14" stroke="#141414" stroke-width="0.5" stroke-opacity="0.75"/>
<polygon points="413.17,134.35 404.92,135.03 399.55,136.77 407.84,136.26" fill="#adff14" stroke="#141414" stroke-width="0.5" stroke-opacity="0.75"/>
<polygon points="440.33,130.16 432.02,129.83 426.77,132.15 435.11,132.65" fill="#c1ff14" stroke="#141414" stroke-width="0.5" stroke-opacity="0.75"/>
<polygon points="453.84,128.37 445.53,127.57 440.33,130.16 448.68,131.13" fill="#c7ff14" stroke="#141414" stroke-width="0.5" stroke-opacity="0.75"/>
<polygon points="467.31,126.75 459.00,125.52 453.84,128.37 462.19,129.77" fill="#cbff14" stroke="#141414" stroke-width="0.5" stroke-opacity="0.75"/>
<polygon points="480.72,125.30 472.42,123.67 467.31,126.75 475.64,128.56" fill="#ccff14" stroke="#141414" stroke-width="0.5" stroke-opacity="0.75"/>
<polygon points="494.06,124.00 485.78,122.00 480.72,125.30 489.03,127.48" fill="#cbff14" stroke="#141414" stroke-width="0.5" stroke-opacity="0.75"/>
<polygon points="507.34,122.84 499.09,120.50 494.06,124.00 502.35,126.53" fill="#c7ff14" stroke="#141414" stroke-width="0.5" stroke-opacity="0.75"/>
<polygon points="520.54,121.80 512.33,119.14 507.34,122.84 515.59,125.68" fill="#c2ff14" stroke="#141414" stroke-width="0.5" stroke-opacity="0.75"/>
<polygon points="533.67,120.86 525.50,117.92 520.54,121.80 528.75,124.92" fill="#bbff14" stroke="#141414" stroke-width="0.5" stroke-opacity="0.75"/>
<polygon points="546.72,120.01 538.59,116.83 533.67,120.86 541.83,124.24" fill="#b2ff14" stroke="#141414" stroke-width="0.5" stroke-opacity="0.75"/>
<polygon points="559.69,119.25 551.61,115.83 546.72,120.01 554.83,123.62" fill="#a8ff14" stroke="#141414" stroke-width="0.5" stroke-opacity="0.75"/>
<polygon points="572.57,118.54 564.54,114.93 559.69,119.25 567.74,123.04" fill="#9cff14" stroke="#141414" stroke-width="0.5" stroke-opacity="0.75"/>
<polygon points="585.36,117.88 577.39,114.11 572.57,118.54 580.56,122.50" fill="#8fff14" stroke="#141414" stroke-width="0.5" stroke-opacity="0.75"/>
<polygon points="598.06,117.25 590.15,113.35 585.36,117.88 593.30,121.98" fill="#81ff14" stroke="#141414" stroke-width="0.5" stroke-opacity="0.75"/>
<polygon points="623.19,116.05 615.40,111.96 610.67,116.65 618.49,120.93" fill="#62ff14" stroke="#141414" stroke-width="0.5" stroke-opacity="0.75"/>
<polygon points="407.84,136.26 399.55,136.77 394.16,138.37 402.49,138.01" fill="#c1ff14" stroke="#141414" stroke-width="0.5" stroke-opacity="0.75"/>
<polygon points="421.50,134.36 413.17,134.35 407.84,136.26 416.21,136.43" fill="#caff14" stroke="#141414" stroke-width="0.5" stroke-opacity="0.75"/>
<polygon points="435.11,132.65 426.77,132.15 421.50,134.36 429.88,135.03" fill="#d0ff14" stroke="#141414" stroke-width="0.5" stroke-opacity="0.75"/>
<polygon points="448.68,131.13 440.33,130.16 435.11,132.65 443.50,133.79" fill="#d3ff14" stroke="#141414" stroke-width="0.5" stroke-opacity="0.75"/>
<polygon points="462.19,129.77 453.84,128.37 448.68,131.13 457.07,132.70" fill="#d4ff14" stroke="#141414" stroke-width="0.5" stroke-opacity="0.75"/>
<polygon points="475.64,128.56 467.31,126.75 462.19,129.77 470.57,131.75" fill="#d3ff14" stroke="#141414" stroke-width="0.5" stroke-opacity="0.75"/>
<polygon points="489.03,127.48 480.72,125.30 475.64,128.56 484.00,130.91" fill="#d0ff14" stroke="#141414" stroke-width="0.5" stroke-opacity="0.75"/>
<polygon points="502.35,126.53 494.06,124.00 489.03,127.48 497.35,130.19" fill="#cbff14" stroke="#141414" stroke-width="0.5" stroke-opacity="0.75"/>
<polygon points="515.59,125.68 507.34,122.84 502.35,126.53 510.63,129.55" fill="#c4ff14" stroke="#141414" stroke-width="0.5" stroke-opacity="0.75"/>
<polygon points="528.75,124.92 520.54,121.80 515.59,125.68 523.83,128.98" fill="#bbff14" stroke="#141414" stroke-width="0.5" stroke-opacity="0.75"/>
<polygon points="541.83,124.24 533.67,120.86 528.75,124.92 536.95,128.48" fill="#b1ff14" stroke="#141414" stroke-width="0.5" stroke-opacity="0.75"/>
<polygon points="554.83,123.62 546.72,120.01 541.83,124.24 549.98,128.03" fill="#a6ff14" stroke="#141414" stroke-width="0.5" stroke-opacity="0.75"/>
<polygon points="567.74,123.04 559.69,119.25 554.83,123.62 562.92,127.60" fill="#99ff14" stroke="#141414" stroke-width="0.5" stroke-opacity="0.75"/>
<polygon points="580.56,122.50 572.57,118.54 567.74,123.04 575.77,127.20" fill="#8bff14" stroke="#141414" stroke-width="0.5" stroke-opacity="0.75"/>
<polygon points="593.30,121.98 585.36,117.88 580.56,122.50 588.54,126.79" fill="#7cff14" stroke="#141414" stroke-width="0.5" stroke-opacity="0.75"/>
<polygon points="605.94,121.46 598.06,117.25 593.30,121.98 601.21,126.38" fill="#6dff14" stroke="#141414" stroke-width="0.5" stroke-opacity="0.75"/>
<polygon points="618.49,120.93 610.67,116.65 605.94,121.46 613.79,125.93" fill="#5cff14" stroke="#141414" stroke-width="0.5" stroke-opacity="0.75"/>
<polygon points="630.95,120.37 623.19,116.05 618.49,120.93 626.28,125.45" fill="#4bff14" stroke="#141414" stroke-width="0.5" stroke-opacity="0.75"/>
<polygon points="402.49,138.01 394.16,138.37 388.73,139.79 397.11,139.59" fill="#d6ff14" stroke="#141414" stroke-width="0.5" stroke-opacity="0.75"/>
<polygon points="416.21,136.43 407.84,136.26 402.49,138.01 410.90,138.34" fill="#dcff14" stroke="#141414" stroke-width="0.5" stroke-opacity="0.75"/>
<polygon points="429.88,135.03 421.50,134.36 416.21,136.43 424.63,137.26" fill="#dfff14" stroke="#141414" stroke-width="0.5" stroke-opacity="0.75"/>
<polygon points="443.50,133.79 435.11,132.65 429.88,135.03 438.31,136.33" fill="#e0ff14" stroke="#141414" stroke-width="0.5" stroke-opacity="0.75"/>
<polygon points="457.07,132.70 448.68,131.13 443.50,133.79 451.93,135.53" fill="#dfff14" stroke="#141414" stroke-width="0.5" stroke-opacity="0.75"/>
<polygon points="470.57,131.75 462.19,129.77 457.07,132.70 465.48,134.85" fill="#dbff14" stroke="#141414" stroke-width="0.5" stroke-opacity="0.75"/>
<polygon points="484.00,130.91 475.64,128.56 470.57,131.75 478.96,134.28" fill="#d6ff14" stroke="#141414" stroke-width="0.5" stroke-opacity="0.75"/>
<polygon points="497.35,130.19 489.03,127.48 484.00,130.91 492.36,133.79" fill="#cfff14" stroke="#141414" stroke-width="0.5" stroke-opacity="0.75"/>
<polygon points="523.83,128.98 515.59,125.68 510.63,129.55 518.91,133.04" fill="#bcff14" stroke="#141414" stroke-width="0.5" stroke-opacity="0.75"/>
<polygon points="549.98,128.03 541.83,124.24 536.95,128.48 545.13,132.46" fill="#a3ff14" stroke="#141414" stroke-width="0.5" stroke-opacity="0.75"/>
<polygon points="562.92,127.60 554.83,123.62 549.98,128.03 558.10,132.20" fill="#95ff14" stroke="#141414" stroke-width="0.5" stroke-opacity="0.75"/>
<polygon points="575.77,127.20 567.74,123.04 562.92,127.60 570.98,131.94" fill="#86ff14" stroke="#141414" stroke-width="0.5" stroke-opacity="0.75"/>
<polygon points="588.54,126.79 580.56,122.50 575.77,127.20 583.77,131.67" fill="#76ff14" stroke="#141414" stroke-width="0.5" stroke-opacity="0.75"/>
<polygon points="601.21,126.38 593.30,121.98 588.54,126.79 596.47,131.38" fill="#66ff14" stroke="#141414" stroke-width="0.5" stroke-opacity="0.75"/>
<polygon points="613.79,125.93 605.94,121.46 601.21,126.38 609.08,131.04" fill="#55ff14" stroke="#141414" stroke-width="0.5" stroke-opacity="0.75"/>
<polygon points="626.28,125.45 618.49,120.93 613.79,125.93 621.60,130.65" fill="#44ff14" stroke="#141414" stroke-width="0.5" stroke-opacity="0.75"/>
<polygon points="638.68,124.92 630.95,120.37 626.28,125.45 634.03,130.19" fill="#32ff14" stroke="#141414" stroke-width="0.5" stroke-opacity="0.75"/>
<polygon points="510.63,129.55 502.35,126.53 497.35,130.19 505.68,133.38" fill="#c6ff14" stroke="#141414" stroke-width="0.5" stroke-opacity="0.75"/>
<polygon points="536.95,128.48 528.75,124.92 523.83,128.98 532.06,132.73" fill="#b0ff14" stroke="#141414" stroke-width="0.5" stroke-opacity="0.75"/>
<polygon points="397.11,139.59 388.73,139.79 383.28,141.01 391.70,140.96" fill="#eeff14" stroke="#141414" stroke-width="0.5" stroke-opacity="0.75"/>
<polygon points="410.90,138.34 402.49,138.01 397.11,139.59 405.56,140.07" fill="#f0ff14" stroke="#141414" stroke-width="0.5" stroke-opacity="0.75"/>
<polygon points="424.63,137.26 416.21,136.43 410.90,138.34 419.36,139.33" fill="#f0ff14" stroke="#141414" stroke-width="0.5" stroke-opacity="0.75"/>
<polygon points="438.31,136.33 429.88,135.03 424.63,137.26 433.11,138.72" fill="#eeff14" stroke="#141414" stroke-width="0.5" stroke-opacity="0.75"/>
<polygon points="451.93,135.53 443.50,133.79 438.31,136.33 446.78,138.24" fill="#eaff14" stroke="#141414" stroke-width="0.5" stroke-opacity="0.75"/>
<polygon points="465.48,134.85 457.07,132.70 451.93,135.53 460.39,137.85" fill="#e4ff14" stroke="#141414" stroke-width="0.5" stroke-opacity="0.75"/>
<polygon points="478.96,134.28 470.57,131.75 465.48,134.85 473.91,137.55" fill="#ddff14" stroke="#141414" stroke-width="0.5" stroke-opacity="0.75"/>
<polygon points="492.36,133.79 484.00,130.91 478.96,134.28 487.36,137.33" fill="#d3ff14" stroke="#141414" stroke-width="0.5" stroke-opacity="0.75"/>
<polygon points="505.68,133.38 497.35,130.19 492.36,133.79 500.72,137.17" fill="#c8ff14" stroke="#141414" stroke-width="0.5" stroke-opacity="0.75"/>
<polygon points="518.91,133.04 510.63,129.55 505.68,133.38 513.99,137.05" fill="#bcff14" stroke="#141414" stroke-width="0.5" stroke-opacity="0.75"/>
<polygon points="532.06,132.73 523.83,128.98 518.91,133.04 527.18,136.96" fill="#afff14" stroke="#141414" stroke-width="0.5" stroke-opacity="0.75"/>
<polygon points="545.13,132.46 536.95,128.48 532.06,132.73 540.28,136.89" fill="#a0ff14" stroke="#141414" stroke-width="0.5" stroke-opacity="0.75"/>
<polygon points="558.10,132.20 549.98,128.03 545.13,132.46 553.28,136.81" fill="#91ff14" stroke="#141414" stroke-width="0.5" stroke-opacity="0.75"/>
<polygon points="570.98,131.94 562.92,127.60 558.10,132.20 566.20,136.72" fill="#81ff14" stroke="#141414" stroke-width="0.5" stroke-opacity="0.75"/>
<polygon points="583.77,131.67 575.77,127.20 570.98,131.94 579.02,136.61" fill="#70ff14" stroke="#141414" stroke-width="0.5" stroke-opacity="0.75"/>
<polygon points="596.47,131.38 588.54,126.79 583.77,131.67 591.74,136.45" fill="#5fff14" stroke="#141414" stroke-width="0.5" stroke-opacity="0.75"/>
<polygon points="609.08,131.04 601.21,126.38 596.47,131.38 604.38,136.23" fill="#4dff14" stroke="#141414" stroke-width="0.5" stroke-opacity="0.75"/>
<polygon points="621.60,130.65 613.79,125.93 609.08,131.04 616.93,135.94" fill="#3bff14" stroke="#141414" stroke-width="0.5" stroke-opacity="0.75"/>
<polygon points="634.03,130.19 626.28,125.45 621.60,130.65 629.38,135.57" fill="#29ff14" stroke="#141414" stroke-width="0.5" stroke-opacity="0.75"/>
<polygon points="646.37,129.64 638.68,124.92 634.03,130.19 641.75,135.10" fill="#17ff14" stroke="#141414" stroke-width="0.5" stroke-opacity="0.75"/>
<polygon points="405.56,140.07 397.11,139.59 391.70,140.96 400.19,141.59" fill="#ffff14" stroke="#141414" stroke-width="0.5" stroke-opacity="0.75"/>
<polygon points="473.91,137.55 465.48,134.85 460.39,137.85 468.86,140.72" fill="#e4ff14" stroke="#141414" stroke-width="0.5" stroke-opacity="0.75"/>
<polygon points="579.02,136.61 570.98,131.94 566.20,136.72 574.26,141.57" fill="#69ff14" stroke="#141414" stroke-width="0.5" stroke-opacity="0.75"/>
<polygon points="641.75,135.10 634.03,130.19 629.38,135.57 637.13,140.67" fill="#14ff1c" stroke="#141414" stroke-width="0.5" stroke-opacity="0.75"/>
<polygon points="419.36,139.33 410.90,138.34 405.56,140.07 414.07,141.21" fill="#ffff14" stroke="#141414" stroke-width="0.5" stroke-opacity="0.75"/>
<polygon points="433.11,138.72 424.63,137.26 419.36,139.33 427.88,140.95" fill="#feff14" stroke="#141414" stroke-width="0.5" stroke-opacity="0.75"/>
<polygon points="446.78,138.24 438.31,136.33 433.11,138.72 441.62,140.79" fill="#f7ff14" stroke="#141414" stroke-width="0.5" stroke-opacity="0.75"/>
<polygon points="460.39,137.85 451.93,135.53 446.78,138.24 455.28,140.72" fill="#efff14" stroke="#141414" stroke-width="0.5" stroke-opacity="0.75"/>
<polygon points="487.36,137.33 478.96,134.28 473.91,137.55 482.35,140.78" fill="#d9ff14" stroke="#141414" stroke-width="0.5" stroke-opacity="0.75"/>
<polygon points="500.72,137.17 492.36,133.79 487.36,137.33 495.76,140.88" fill="#ccff14" stroke="#141414" stroke-width="0.5" stroke-opacity="0.75"/>
<polygon points="513.99,137.05 505.68,133.38 500.72,137.17 509.07,141.01" fill="#bdff14" stroke="#141414" stroke-width="0.5" stroke-opacity="0.75"/>
<polygon points="527.18,136.96 518.91,133.04 513.99,137.05 522.30,141.15" fill="#aeff14" stroke="#141414" stroke-width="0.5" stroke-opacity="0.75"/>
<polygon points="540.28,136.89 532.06,132.73 527.18,136.96 535.43,141.29" fill="#9eff14" stroke="#141414" stroke-width="0.5" stroke-opacity="0.75"/>
<polygon points="553.28,136.81 545.13,132.46 540.28,136.89 548.47,141.42" fill="#8dff14" stroke="#141414" stroke-width="0.5" stroke-opacity="0.75"/>
<polygon points="566.20,136.72 558.10,132.20 553.28,136.81 561.41,141.52" fill="#7bff14" stroke="#141414" stroke-width="0.5" stroke-opacity="0.75"/>
<polygon points="591.74,136.45 583.77,131.67 579.02,136.61 587.02,141.56" fill="#57ff14" stroke="#141414" stroke-width="0.5" stroke-opacity="0.75"/>
<polygon points="604.38,136.23 596.47,131.38 591.74,136.45 599.68,141.48" fill="#44ff14" stroke="#141414" stroke-width="0.5" stroke-opacity="0.75"/>
<polygon points="616.93,135.94 609.08,131.04 604.38,136.23 612.25,141.32" fill="#31ff14" stroke="#141414" stroke-width="0.5" stroke-opacity="0.75"/>
<polygon points="629.38,135.57 621.60,130.65 616.93,135.94 624.73,141.05" fill="#1fff14" stroke="#141414" stroke-width="0.5" stroke-opacity="0.75"/>
<polygon points="414.07,141.21 405.56,140.07 400.19,141.59 408.75,142.88" fill="#fffb14" stroke="#141414" stroke-width="0.5" stroke-opacity="0.75"/>
<polygon points="441.62,140.79 433.11,138.72 427.88,140.95 436.44,143.17" fill="#ffff14" stroke="#141414" stroke-width="0.5" stroke-opacity="0.75"/>
<polygon points="468.86,140.72 460.39,137.85 455.28,140.72 463.79,143.74" fill="#edff14" stroke="#141414" stroke-width="0.5" stroke-opacity="0.75"/>
<polygon points="482.35,140.78 473.91,137.55 468.86,140.72 477.34,144.10" fill="#dfff14" stroke="#141414" stroke-width="0.5" stroke-opacity="0.75"/>
<polygon points="509.07,141.01 500.72,137.17 495.76,140.88 504.15,144.88" fill="#bfff14" stroke="#141414" stroke-width="0.5" stroke-opacity="0.75"/>
<polygon points="548.47,141.42 540.28,136.89 535.43,141.29 543.66,146.00" fill="#89ff14" stroke="#141414" stroke-width="0.5" stroke-opacity="0.75"/>
<polygon points="574.26,141.57 566.20,136.72 561.41,141.52 569.51,146.54" fill="#62ff14" stroke="#141414" stroke-width="0.5" stroke-opacity="0.75"/>
<polygon points="587.02,141.56 579.02,136.61 574.26,141.57 582.30,146.71" fill="#4fff14" stroke="#141414" stroke-width="0.5" stroke-opacity="0.75"/>
<polygon points="612.25,141.32 604.38,136.23 599.68,141.48 607.58,146.75" fill="#27ff14" stroke="#141414" stroke-width="0.5" stroke-opacity="0.75"/>
<polygon points="637.13,140.67 629.38,135.57 624.73,141.05 632.51,146.33" fill="#14ff28" stroke="#141414" stroke-width="0.5" stroke-opacity="0.75"/>
<polygon points="427.88,140.95 419.36,139.33 414.07,141.21 422.63,142.98" fill="#ffff14" stroke="#141414" stroke-width="0.5" stroke-opacity="0.75"/>
<polygon points="455.28,140.72 446.78,138.24 441.62,140.79 450.16,143.43" fill="#faff14" stroke="#141414" stroke-width="0.5" stroke-opacity="0.75"/>
<polygon points="495.76,140.88 487.36,137.33 482.35,140.78 490.79,144.49" fill="#d0ff14" stroke="#141414" stroke-width="0.5" stroke-opacity="0.75"/>
<polygon points="522.30,141.15 513.99,137.05 509.07,141.01 517.42,145.28" fill="#aeff14" stroke="#141414" stroke-width="0.5" stroke-opacity="0.75"/>
<polygon points="535.43,141.29 527.18,136.96 522.30,141.15 530.59,145.66" fill="#9cff14" stroke="#141414" stroke-width="0.5" stroke-opacity="0.75"/>
<polygon points="561.41,141.52 553.28,136.81 548.47,141.42 556.63,146.30" fill="#76ff14" stroke="#141414" stroke-width="0.5" stroke-opacity="0.75"/>
<polygon points="599.68,141.48 591.74,136.45 587.02,141.56 594.99,146.78" fill="#3bff14" stroke="#141414" stroke-width="0.5" stroke-opacity="0.75"/>
<polygon points="624.73,141.05 616.93,135.94 612.25,141.32 620.09,146.61" fill="#14ff15" stroke="#141414" stroke-width="0.5" stroke-opacity="0.75"/>
<polygon points="463.79,143.74 455.28,140.72 450.16,143.43 458.72,146.61" fill="#f7ff14" stroke="#141414" stroke-width="0.5" stroke-opacity="0.75"/>
<polygon points="504.15,144.88 495.76,140.88 490.79,144.49 499.23,148.66" fill="#c2ff14" stroke="#141414" stroke-width="0.5" stroke-opacity="0.75"/>
<polygon points="556.63,146.30 548.47,141.42 543.66,146.00 551.86,151.06" fill="#70ff14" stroke="#141414" stroke-width="0.5" stroke-opacity="0.75"/>
<polygon points="594.99,146.78 587.02,141.56 582.30,146.71 590.30,152.10" fill="#31ff14" stroke="#141414" stroke-width="0.5" stroke-opacity="0.75"/>
<polygon points="422.63,142.98 414.07,141.21 408.75,142.88 417.36,144.80" fill="#fff014" stroke="#141414" stroke-width="0.5" stroke-opacity="0.75"/>
<polygon points="436.44,143.17 427.88,140.95 422.63,142.98 431.24,145.35" fill="#fffd14" stroke="#141414" stroke-width="0.5" stroke-opacity="0.75"/>
<polygon points="450.16,143.43 441.62,140.79 436.44,143.17 445.02,145.96" fill="#ffff14" stroke="#141414" stroke-width="0.5" stroke-opacity="0.75"/>
<polygon points="477.34,144.10 468.86,140.72 463.79,143.74 472.32,147.29" fill="#e6ff14" stroke="#141414" stroke-width="0.5" stroke-opacity="0.75"/>
<polygon points="490.79,144.49 482.35,140.78 477.34,144.10 485.82,147.98" fill="#d4ff14" stroke="#141414" stroke-width="0.5" stroke-opacity="0.75"/>
<polygon points="517.42,145.28 509.07,141.01 504.15,144.88 512.54,149.32" fill="#aeff14" stroke="#141414" stroke-width="0.5" stroke-opacity="0.75"/>
<polygon points="530.59,145.66 522.30,141.15 517.42,145.28 525.75,149.95" fill="#9aff14" stroke="#141414" stroke-width="0.5" stroke-opacity="0.75"/>
<polygon points="543.66,146.00 535.43,141.29 530.59,145.66 538.85,150.54" fill="#85ff14" stroke="#141414" stroke-width="0.5" stroke-opacity="0.75"/>
<polygon points="569.51,146.54 561.41,141.52 556.63,146.30 564.77,151.50" fill="#5bff14" stroke="#141414" stroke-width="0.5" stroke-opacity="0.75"/>
<polygon points="582.30,146.71 574.26,141.57 569.51,146.54 577.58,151.85" fill="#46ff14" stroke="#141414" stroke-width="0.5" stroke-opacity="0.75"/>
<polygon points="607.58,146.75 599.68,141.48 594.99,146.78 602.92,152.23" fill="#1dff14" stroke="#141414" stroke-width="0.5" stroke-opacity="0.75"/>
<polygon points="620.09,146.61 612.25,141.32 607.58,146.75 615.45,152.22" fill="#14ff21" stroke="#141414" stroke-width="0.5" stroke-opacity="0.75"/>
<polygon points="632.51,146.33 624.73,141.05 620.09,146.61 627.89,152.07" fill="#14ff34" stroke="#141414" stroke-width="0.5" stroke-opacity="0.75"/>
<polygon points="431.24,145.35 422.63,142.98 417.36,144.80 426.01,147.32" fill="#ffeb14" stroke="#141414" stroke-width="0.5" stroke-opacity="0.75"/>
<polygon points="458.72,146.61 450.16,143.43 445.02,145.96 453.63,149.30" fill="#ffff14" stroke="#141414" stroke-width="0.5" stroke-opacity="0.75"/>
<polygon points="472.32,147.29 463.79,143.74 458.72,146.61 467.29,150.31" fill="#efff14" stroke="#141414" stroke-width="0.5" stroke-opacity="0.75"/>
<polygon points="499.23,148.66 490.79,144.49 485.82,147.98 494.30,152.31" fill="#c5ff14" stroke="#141414" stroke-width="0.5" stroke-opacity="0.75"/>
<polygon points="512.54,149.32 504.15,144.88 499.23,148.66 507.66,153.26" fill="#afff14" stroke="#141414" stroke-width="0.5" stroke-opacity="0.75"/>
<polygon points="525.75,149.95 517.42,145.28 512.54,149.32 520.90,154.16" fill="#99ff14" stroke="#141414" stroke-width="0.5" stroke-opacity="0.75"/>
<polygon points="538.85,150.54 530.59,145.66 525.75,149.95 534.05,155.00" fill="#82ff14" stroke="#141414" stroke-width="0.5" stroke-opacity="0.75"/>
<polygon points="551.86,151.06 543.66,146.00 538.85,150.54 547.09,155.76" fill="#6cff14" stroke="#141414" stroke-width="0.5" stroke-opacity="0.75"/>
<polygon points="564.77,151.50 556.63,146.30 551.86,151.06 560.03,156.43" fill="#55ff14" stroke="#141414" stroke-width="0.5" stroke-opacity="0.75"/>
<polygon points="590.30,152.10 582.30,146.71 577.58,151.85 585.62,157.42" fill="#28ff14" stroke="#141414" stroke-width="0.5" stroke-opacity="0.75"/>
<polygon points="602.92,152.23 594.99,146.78 590.30,152.10 598.26,157.72" fill="#14ff17" stroke="#141414" stroke-width="0.5" stroke-opacity="0.75"/>
<polygon points="627.89,152.07 620.09,146.61 615.45,152.22 623.28,157.86" fill="#14ff41" stroke="#141414" stroke-width="0.5" stroke-opacity="0.75"/>
<polygon points="445.02,145.96 436.44,143.17 431.24,145.35 439.87,148.30" fill="#fffd14" stroke="#141414" stroke-width="0.5" stroke-opacity="0.75"/>
<polygon points="485.82,147.98 477.34,144.10 472.32,147.29 480.85,151.32" fill="#dbff14" stroke="#141414" stroke-width="0.5" stroke-opacity="0.75"/>
<polygon points="577.58,151.85 569.51,146.54 564.77,151.50 572.87,156.98" fill="#3eff14" stroke="#141414" stroke-width="0.5" stroke-opacity="0.75"/>
<polygon points="615.45,152.22 607.58,146.75 602.92,152.23 610.82,157.87" fill="#14ff2d" stroke="#141414" stroke-width="0.5" stroke-opacity="0.75"/>
<polygon points="439.87,148.30 431.24,145.35 426.01,147.32 434.69,150.40" fill="#ffec14" stroke="#141414" stroke-width="0.5" stroke-opacity="0.75"/>
<polygon points="453.63,149.30 445.02,145.96 439.87,148.30 448.52,151.78" fill="#ffff14" stroke="#141414" stroke-width="0.5" stroke-opacity="0.75"/>
<polygon points="467.29,150.31 458.72,146.61 453.63,149.30 462.25,153.15" fill="#faff14" stroke="#141414" stroke-width="0.5" stroke-opacity="0.75"/>
<polygon points="480.85,151.32 472.32,147.29 467.29,150.31 475.86,154.50" fill="#e2ff14" stroke="#141414" stroke-width="0.5" stroke-opacity="0.75"/>
<polygon points="494.30,152.31 485.82,147.98 480.85,151.32 489.37,155.81" fill="#caff14" stroke="#141414" stroke-width="0.5" stroke-opacity="0.75"/>
<polygon points="507.66,153.26 499.23,148.66 494.30,152.31 502.77,157.07" fill="#b2ff14" stroke="#141414" stroke-width="0.5" stroke-opacity="0.75"/>
<polygon points="520.90,154.16 512.54,149.32 507.66,153.26 516.06,158.26" fill="#99ff14" stroke="#141414" stroke-width="0.5" stroke-opacity="0.75"/>
<polygon points="534.05,155.00 525.75,149.95 520.90,154.16 529.25,159.37" fill="#80ff14" stroke="#141414" stroke-width="0.5" stroke-opacity="0.75"/>
<polygon points="547.09,155.76 538.85,150.54 534.05,155.00 542.33,160.39" fill="#67ff14" stroke="#141414" stroke-width="0.5" stroke-opacity="0.75"/>
<polygon points="560.03,156.43 551.86,151.06 547.09,155.76 555.30,161.30" fill="#4fff14" stroke="#141414" stroke-width="0.5" stroke-opacity="0.75"/>
<polygon points="572.87,156.98 564.77,151.50 560.03,156.43 568.17,162.08" fill="#36ff14" stroke="#141414" stroke-width="0.5" stroke-opacity="0.75"/>
<polygon points="585.62,157.42 577.58,151.85 572.87,156.98 580.94,162.72" fill="#1eff14" stroke="#141414" stroke-width="0.5" stroke-opacity="0.75"/>
<polygon points="598.26,157.72 590.30,152.10 585.62,157.42 593.62,163.21" fill="#14ff22" stroke="#141414" stroke-width="0.5" stroke-opacity="0.75"/>
<polygon points="610.82,157.87 602.92,152.23 598.26,157.72 606.19,163.54" fill="#14ff39" stroke="#141414" stroke-width="0.5" stroke-opacity="0.75"/>
<polygon points="623.28,157.86 615.45,152.22 610.82,157.87 618.68,163.68" fill="#14ff4f" stroke="#141414" stroke-width="0.5" stroke-opacity="0.75"/>
<polygon points="448.52,151.78 439.87,148.30 434.69,150.40 443.39,154.03" fill="#fff214" stroke="#141414" stroke-width="0.5" stroke-opacity="0.75"/>
<polygon points="618.68,163.68 610.82,157.87 606.19,163.54 614.09,169.52" fill="#14ff5c" stroke="#141414" stroke-width="0.5" stroke-opacity="0.75"/>
<polygon points="462.25,153.15 453.63,149.30 448.52,151.78 457.19,155.77" fill="#ffff14" stroke="#141414" stroke-width="0.5" stroke-opacity="0.75"/>
<polygon points="475.86,154.50 467.29,150.31 462.25,153.15 470.87,157.48" fill="#ecff14" stroke="#141414" stroke-width="0.5" stroke-opacity="0.75"/>
<polygon points="489.37,155.81 480.85,151.32 475.86,154.50 484.43,159.14" fill="#d1ff14" stroke="#141414" stroke-width="0.5" stroke-opacity="0.75"/>
<polygon points="502.77,157.07 494.30,152.31 489.37,155.81 497.88,160.72" fill="#b6ff14" stroke="#141414" stroke-width="0.5" stroke-opacity="0.75"/>
<polygon points="516.06,158.26 507.66,153.26 502.77,157.07 511.22,162.22" fill="#9aff14" stroke="#141414" stroke-width="0.5" stroke-opacity="0.75"/>
<polygon points="529.25,159.37 520.90,154.16 516.06,158.26 524.45,163.63" fill="#7fff14" stroke="#141414" stroke-width="0.5" stroke-opacity="0.75"/>
<polygon points="542.33,160.39 534.05,155.00 529.25,159.37 537.57,164.92" fill="#64ff14" stroke="#141414" stroke-width="0.5" stroke-opacity="0.75"/>
<polygon points="555.30,161.30 547.09,155.76 542.33,160.39 550.58,166.09" fill="#49ff14" stroke="#141414" stroke-width="0.5" stroke-opacity="0.75"/>
<polygon points="568.17,162.08 560.03,156.43 555.30,161.30 563.48,167.11" fill="#2fff14" stroke="#141414" stroke-width="0.5" stroke-opacity="0.75"/>
<polygon points="580.94,162.72 572.87,156.98 568.17,162.08 576.28,167.98" fill="#15ff14" stroke="#141414" stroke-width="0.5" stroke-opacity="0.75"/>
<polygon points="593.62,163.21 585.62,157.42 580.94,162.72 588.98,168.68" fill="#14ff2d" stroke="#141414" stroke-width="0.5" stroke-opacity="0.75"/>
<polygon points="606.19,163.54 598.26,157.72 593.62,163.21 601.58,169.20" fill="#14ff45" stroke="#141414" stroke-width="0.5" stroke-opacity="0.75"/>
<polygon points="457.19,155.77 448.52,151.78 443.39,154.03 452.11,158.16" fill="#fffe14" stroke="#141414" stroke-width="0.5" stroke-opacity="0.75"/>
<polygon points="484.43,159.14 475.86,154.50 470.87,157.48 479.48,162.27" fill="#d9ff14" stroke="#141414" stroke-width="0.5" stroke-opacity="0.75"/>
<polygon points="511.22,162.22 502.77,157.07 497.88,160.72 506.38,166.03" fill="#9dff14" stroke="#141414" stroke-width="0.5" stroke-opacity="0.75"/>
<polygon points="524.45,163.63 516.06,158.26 511.22,162.22 519.65,167.75" fill="#7fff14" stroke="#141414" stroke-width="0.5" stroke-opacity="0.75"/>
<polygon points="537.57,164.92 529.25,159.37 524.45,163.63 532.81,169.33" fill="#62ff14" stroke="#141414" stroke-width="0.5" stroke-opacity="0.75"/>
<polygon points="550.58,166.09 542.33,160.39 537.57,164.92 545.86,170.78" fill="#45ff14" stroke="#141414" stroke-width="0.5" stroke-opacity="0.75"/>
<polygon points="563.48,167.11 555.30,161.30 550.58,166.09 558.79,172.06" fill="#28ff14" stroke="#141414" stroke-width="0.5" stroke-opacity="0.75"/>
<polygon points="588.98,168.68 580.94,162.72 576.28,167.98 584.35,174.10" fill="#14ff37" stroke="#141414" stroke-width="0.5" stroke-opacity="0.75"/>
<polygon points="614.09,169.52 606.19,163.54 601.58,169.20 609.50,175.34" fill="#14ff69" stroke="#141414" stroke-width="0.5" stroke-opacity="0.75"/>
<polygon points="470.87,157.48 462.25,153.15 457.19,155.77 465.85,160.25" fill="#f7ff14" stroke="#141414" stroke-width="0.5" stroke-opacity="0.75"/>
<polygon points="497.88,160.72 489.37,155.81 484.43,159.14 492.99,164.20" fill="#bbff14" stroke="#141414" stroke-width="0.5" stroke-opacity="0.75"/>
<polygon points="576.28,167.98 568.17,162.08 563.48,167.11 571.62,173.18" fill="#14ff1c" stroke="#141414" stroke-width="0.5" stroke-opacity="0.75"/>
<polygon points="601.58,169.20 593.62,163.21 588.98,168.68 596.97,174.83" fill="#14ff51" stroke="#141414" stroke-width="0.5" stroke-opacity="0.75"/>
<polygon points="532.81,169.33 524.45,163.63 519.65,167.75 528.05,173.60" fill="#61ff14" stroke="#141414" stroke-width="0.5" stroke-opacity="0.75"/>
<polygon points="545.86,170.78 537.57,164.92 532.81,169.33 541.14,175.34" fill="#41ff14" stroke="#141414" stroke-width="0.5" stroke-opacity="0.75"/>
<polygon points="465.85,160.25 457.19,155.77 452.11,158.16 460.83,162.78" fill="#ffff14" stroke="#141414" stroke-width="0.5" stroke-opacity="0.75"/>
<polygon points="479.48,162.27 470.87,157.48 465.85,160.25 474.52,165.18" fill="#e3ff14" stroke="#141414" stroke-width="0.5" stroke-opacity="0.75"/>
<polygon points="492.99,164.20 484.43,159.14 479.48,162.27 488.09,167.48" fill="#c2ff14" stroke="#141414" stroke-width="0.5" stroke-opacity="0.75"/>
<polygon points="506.38,166.03 497.88,160.72 492.99,164.20 501.53,169.65" fill="#a1ff14" stroke="#141414" stroke-width="0.5" stroke-opacity="0.75"/>
<polygon points="519.65,167.75 511.22,162.22 506.38,166.03 514.85,171.70" fill="#81ff14" stroke="#141414" stroke-width="0.5" stroke-opacity="0.75"/>
<polygon points="558.79,172.06 550.58,166.09 545.86,170.78 554.11,176.91" fill="#23ff14" stroke="#141414" stroke-width="0.5" stroke-opacity="0.75"/>
<polygon points="571.62,173.18 563.48,167.11 558.79,172.06 566.97,178.28" fill="#14ff24" stroke="#141414" stroke-width="0.5" stroke-opacity="0.75"/>
<polygon points="584.35,174.10 576.28,167.98 571.62,173.18 579.73,179.45" fill="#14ff40" stroke="#141414" stroke-width="0.5" stroke-opacity="0.75"/>
<polygon points="596.97,174.83 588.98,168.68 584.35,174.10 592.38,180.41" fill="#14ff5c" stroke="#141414" stroke-width="0.5" stroke-opacity="0.75"/>
<polygon points="609.50,175.34 601.58,169.20 596.97,174.83 604.93,181.13" fill="#14ff76" stroke="#141414" stroke-width="0.5" stroke-opacity="0.75"/>
<polygon points="474.52,165.18 465.85,160.25 460.83,162.78 469.54,167.84" fill="#f0ff14" stroke="#141414" stroke-width="0.5" stroke-opacity="0.75"/>
<polygon points="501.53,169.65 492.99,164.20 488.09,167.48 496.68,173.07" fill="#a8ff14" stroke="#141414" stroke-width="0.5" stroke-opacity="0.75"/>
<polygon points="514.85,171.70 506.38,166.03 501.53,169.65 510.05,175.47" fill="#84ff14" stroke="#141414" stroke-width="0.5" stroke-opacity="0.75"/>
<polygon points="528.05,173.60 519.65,167.75 514.85,171.70 523.30,177.71" fill="#61ff14" stroke="#141414" stroke-width="0.5" stroke-opacity="0.75"/>
<polygon points="541.14,175.34 532.81,169.33 528.05,173.60 536.43,179.76" fill="#3fff14" stroke="#141414" stroke-width="0.5" stroke-opacity="0.75"/>
<polygon points="554.11,176.91 545.86,170.78 541.14,175.34 549.43,181.63" fill="#1eff14" stroke="#141414" stroke-width="0.5" stroke-opacity="0.75"/>
<polygon points="566.97,178.28 558.79,172.06 554.11,176.91 562.33,183.28" fill="#14ff2a" stroke="#141414" stroke-width="0.5" stroke-opacity="0.75"/>
<polygon points="579.73,179.45 571.62,173.18 566.97,178.28 575.11,184.72" fill="#14ff49" stroke="#141414" stroke-width="0.5" stroke-opacity="0.75"/>
<polygon points="604.93,181.13 596.97,174.83 592.38,180.41 600.37,186.87" fill="#14ff82" stroke="#141414" stroke-width="0.5" stroke-opacity="0.75"/>
<polygon points="488.09,167.48 479.48,162.27 474.52,165.18 483.17,170.53" fill="#cbff14" stroke="#141414" stroke-width="0.5" stroke-opacity="0.75"/>
<polygon points="592.38,180.41 584.35,174.10 579.73,179.45 587.79,185.92" fill="#14ff66" stroke="#141414" stroke-width="0.5" stroke-opacity="0.75"/>
<polygon points="483.17,170.53 474.52,165.18 469.54,167.84 478.25,173.33" fill="#d7ff14" stroke="#141414" stroke-width="0.5" stroke-opacity="0.75"/>
<polygon points="496.68,173.07 488.09,167.48 483.17,170.53 491.81,176.26" fill="#b0ff14" stroke="#141414" stroke-width="0.5" stroke-opacity="0.75"/>
<polygon points="510.05,175.47 501.53,169.65 496.68,173.07 505.24,179.03" fill="#89ff14" stroke="#141414" stroke-width="0.5" stroke-opacity="0.75"/>
<polygon points="523.30,177.71 514.85,171.70 510.05,175.47 518.54,181.62" fill="#64ff14" stroke="#141414" stroke-width="0.5" stroke-opacity="0.75"/>
<polygon points="536.43,179.76 528.05,173.60 523.30,177.71 531.71,184.01" fill="#3fff14" stroke="#141414" stroke-width="0.5" stroke-opacity="0.75"/>
<polygon points="549.43,181.63 541.14,175.34 536.43,179.76 544.76,186.19" fill="#1bff14" stroke="#141414" stroke-width="0.5" stroke-opacity="0.75"/>
<polygon points="562.33,183.28 554.11,176.91 549.43,181.63 557.69,188.15" fill="#14ff30" stroke="#141414" stroke-width="0.5" stroke-opacity="0.75"/>
<polygon points="575.11,184.72 566.97,178.28 562.33,183.28 570.51,189.86" fill="#14ff51" stroke="#141414" stroke-width="0.5" stroke-opacity="0.75"/>
<polygon points="587.79,185.92 579.73,179.45 575.11,184.72 583.22,191.33" fill="#14ff70" stroke="#141414" stroke-width="0.5" stroke-opacity="0.75"/>
<polygon points="600.37,186.87 592.38,180.41 587.79,185.92 595.82,192.53" fill="#14ff8e" stroke="#141414" stroke-width="0.5" stroke-opacity="0.75"/>
<polygon points="491.81,176.26 483.17,170.53 478.25,173.33 486.93,179.19" fill="#baff14" stroke="#141414" stroke-width="0.5" stroke-opacity="0.75"/>
<polygon points="505.24,179.03 496.68,173.07 491.81,176.26 500.43,182.35" fill="#91ff14" stroke="#141414" stroke-width="0.5" stroke-opacity="0.75"/>
<polygon points="518.54,181.62 510.05,175.47 505.24,179.03 513.78,185.31" fill="#68ff14" stroke="#141414" stroke-width="0.5" stroke-opacity="0.75"/>
<polygon points="531.71,184.01 523.30,177.71 518.54,181.62 527.00,188.06" fill="#40ff14" stroke="#141414" stroke-width="0.5" stroke-opacity="0.75"/>
<polygon points="544.76,186.19 536.43,179.76 531.71,184.01 540.10,190.58" fill="#1aff14" stroke="#141414" stroke-width="0.5" stroke-opacity="0.75"/>
<polygon points="557.69,188.15 549.43,181.63 544.76,186.19 553.06,192.85" fill="#14ff34" stroke="#141414" stroke-width="0.5" stroke-opacity="0.75"/>
<polygon points="570.51,189.86 562.33,183.28 557.69,188.15 565.91,194.87" fill="#14ff57" stroke="#141414" stroke-width="0.5" stroke-opacity="0.75"/>
<polygon points="583.22,191.33 575.11,184.72 570.51,189.86 578.65,196.62" fill="#14ff79" stroke="#141414" stroke-width="0.5" stroke-opacity="0.75"/>
<polygon points="595.82,192.53 587.79,185.92 583.22,191.33 591.28,198.08" fill="#14ff99" stroke="#141414" stroke-width="0.5" stroke-opacity="0.75"/>
<polygon points="500.43,182.35 491.81,176.26 486.93,179.19 495.60,185.41" fill="#9aff14" stroke="#141414" stroke-width="0.5" stroke-opacity="0.75"/>
<polygon points="513.78,185.31 505.24,179.03 500.43,182.35 509.01,188.76" fill="#6eff14" stroke="#141414" stroke-width="0.5" stroke-opacity="0.75"/>
<polygon points="527.00,188.06 518.54,181.62 513.78,185.31 522.29,191.89" fill="#44ff14" stroke="#141414" stroke-width="0.5" stroke-opacity="0.75"/>
<polygon points="540.10,190.58 531.71,184.01 527.00,188.06 535.43,194.76" fill="#1bff14" stroke="#141414" stroke-width="0.5" stroke-opacity="0.75"/>
<polygon points="553.06,192.85 544.76,186.19 540.10,190.58 548.44,197.38" fill="#14ff36" stroke="#141414" stroke-width="0.5" stroke-opacity="0.75"/>
<polygon points="565.91,194.87 557.69,188.15 553.06,192.85 561.33,199.72" fill="#14ff5c" stroke="#141414" stroke-width="0.5" stroke-opacity="0.75"/>
<polygon points="578.65,196.62 570.51,189.86 565.91,194.87 574.10,201.77" fill="#14ff80" stroke="#141414" stroke-width="0.5" stroke-opacity="0.75"/>
<polygon points="591.28,198.08 583.22,191.33 578.65,196.62 586.75,203.52" fill="#14ffa2" stroke="#141414" stroke-width="0.5" stroke-opacity="0.75"/>
<polygon points="509.01,188.76 500.43,182.35 495.60,185.41 504.24,191.95" fill="#77ff14" stroke="#141414" stroke-width="0.5" stroke-opacity="0.75"/>
<polygon points="522.29,191.89 513.78,185.31 509.01,188.76 517.57,195.47" fill="#49ff14" stroke="#141414" stroke-width="0.5" stroke-opacity="0.75"/>
<polygon points="574.10,201.77 565.91,194.87 561.33,199.72 569.55,206.75" fill="#14ff86" stroke="#141414" stroke-width="0.5" stroke-opacity="0.75"/>
<polygon points="586.75,203.52 578.65,196.62 574.10,201.77 582.24,208.81" fill="#14ffaa" stroke="#141414" stroke-width="0.5" stroke-opacity="0.75"/>
<polygon points="535.43,194.76 527.00,188.06 522.29,191.89 530.76,198.72" fill="#1dff14" stroke="#141414" stroke-width="0.5" stroke-opacity="0.75"/>
<polygon points="548.44,197.38 540.10,190.58 535.43,194.76 543.82,201.70" fill="#14ff36" stroke="#141414" stroke-width="0.5" stroke-opacity="0.75"/>
<polygon points="561.33,199.72 553.06,192.85 548.44,197.38 556.74,204.38" fill="#14ff5f" stroke="#141414" stroke-width="0.5" stroke-opacity="0.75"/>
<polygon points="517.57,195.47 509.01,188.76 504.24,191.95 512.84,198.78" fill="#51ff14" stroke="#141414" stroke-width="0.5" stroke-opacity="0.75"/>
<polygon points="582.24,208.81 574.10,201.77 569.55,206.75 577.73,213.92" fill="#14ffb1" stroke="#141414" stroke-width="0.5" stroke-opacity="0.75"/>
<polygon points="530.76,198.72 522.29,191.89 517.57,195.47 526.09,202.43" fill="#22ff14" stroke="#141414" stroke-width="0.5" stroke-opacity="0.75"/>
<polygon points="543.82,201.70 535.43,194.76 530.76,198.72 539.20,205.78" fill="#14ff35" stroke="#141414" stroke-width="0.5" stroke-opacity="0.75"/>
<polygon points="556.74,204.38 548.44,197.38 543.82,201.70 552.17,208.83" fill="#14ff60" stroke="#141414" stroke-width="0.5" stroke-opacity="0.75"/>
<polygon points="569.55,206.75 561.33,199.72 556.74,204.38 565.01,211.55" fill="#14ff8a" stroke="#141414" stroke-width="0.5" stroke-opacity="0.75"/>
<polygon points="526.09,202.43 517.57,195.47 512.84,198.78 521.42,205.86" fill="#29ff14" stroke="#141414" stroke-width="0.5" stroke-opacity="0.75"/>
<polygon points="539.20,205.78 530.76,198.72 526.09,202.43 534.57,209.62" fill="#14ff31" stroke="#141414" stroke-width="0.5" stroke-opacity="0.75"/>
<polygon points="552.17,208.83 543.82,201.70 539.20,205.78 547.59,213.04" fill="#14ff5f" stroke="#141414" stroke-width="0.5" stroke-opacity="0.75"/>
<polygon points="565.01,211.55 556.74,204.38 552.17,208.83 560.47,216.12" fill="#14ff8b" stroke="#141414" stroke-width="0.5" stroke-opacity="0.75"/>
<polygon points="577.73,213.92 569.55,206.75 565.01,211.55 573.23,218.84" fill="#14ffb5" stroke="#141414" stroke-width="0.5" stroke-opacity="0.75"/>
<polygon points="547.59,213.04 539.20,205.78 534.57,209.62 543.01,216.99" fill="#14ff5c" stroke="#141414" stroke-width="0.5" stroke-opacity="0.75"/>
<polygon points="560.47,216.12 552.17,208.83 547.59,213.04 555.94,220.45" fill="#14ff8b" stroke="#141414" stroke-width="0.5" stroke-opacity="0.75"/>
<polygon points="534.57,209.62 526.09,202.43 521.42,205.86 529.95,213.16" fill="#14ff2a" stroke="#141414" stroke-width="0.5" stroke-opacity="0.75"/>
<polygon points="573.23,218.84 565.01,211.55 560.47,216.12 568.74,223.54" fill="#14ffb8" stroke="#141414" stroke-width="0.5" stroke-opacity="0.75"/>
<polygon points="543.01,216.99 534.57,209.62 529.95,213.16 538.44,220.65" fill="#14ff56" stroke="#141414" stroke-width="0.5" stroke-opacity="0.75"/>
<polygon points="555.94,220.45 547.59,213.04 543.01,216.99 551.41,224.52" fill="#14ff89" stroke="#141414" stroke-width="0.5" stroke-opacity="0.75"/>
<polygon points="568.74,223.54 560.47,216.12 555.94,220.45 564.25,227.99" fill="#14ffb8" stroke="#141414" stroke-width="0.5" stroke-opacity="0.75"/>
<polygon points="551.41,224.52 543.01,216.99 538.44,220.65 546.89,228.29" fill="#14ff83" stroke="#141414" stroke-width="0.5" stroke-opacity="0.75"/>
<polygon points="564.25,227.99 555.94,220.45 551.41,224.52 559.77,232.17" fill="#14ffb6" stroke="#141414" stroke-width="0.5" stroke-opacity="0.75"/>
<polygon points="559.77,232.17 551.41,224.52 546.89,228.29 555.29,236.04" fill="#14ffb2" stroke="#141414" stroke-width="0.5" stroke-opacity="0.75"/>
<circle cx="390.22" cy="226.85" r="1.50" fill="#111"/>
<text x="371.68" y="224.49" font-family="Liberation Sans" font-size="9.08" textLength="14.17" lengthAdjust="spacingAndGlyphs" fill="#3c3c3c">300</text>
<circle cx="388.20" cy="201.82" r="1.50" fill="#111"/>
<text x="369.83" y="199.46" font-family="Liberation Sans" font-size="9.08" textLength="13.99" lengthAdjust="spacingAndGlyphs" fill="#3c3c3c">400</text>
<circle cx="386.17" cy="176.79" r="1.50" fill="#111"/>
<text x="367.63" y="174.43" font-family="Liberation Sans" font-size="9.08" textLength="14.17" lengthAdjust="spacingAndGlyphs" fill="#3c3c3c">500</text>
<circle cx="384.15" cy="151.76" r="1.50" fill="#111"/>
<text x="365.52" y="149.40" font-family="Liberation Sans" font-size="9.08" textLength="14.26" lengthAdjust="spacingAndGlyphs" fill="#3c3c3c">600</text>
<circle cx="382.12" cy="126.73" r="1.50" fill="#111"/>
<text x="363.50" y="124.36" font-family="Liberation Sans" font-size="9.08" textLength="14.26" lengthAdjust="spacingAndGlyphs" fill="#3c3c3c">700</text>
<circle cx="380.10" cy="101.70" r="1.50" fill="#111"/>
<text x="361.52" y="99.33" font-family="Liberation Sans" font-size="9.08" textLength="14.21" lengthAdjust="spacingAndGlyphs" fill="#3c3c3c">800</text>
<circle cx="393.30" cy="264.90" r="1.40" fill="#111"/>
<text x="379.76" y="273.33" font-family="Liberation Sans" font-size="9.08" textLength="9.77" lengthAdjust="spacingAndGlyphs" fill="#3c3c3c">60</text>
<circle cx="433.53" cy="280.17" r="1.40" fill="#111"/>
<text x="420.08" y="288.61" font-family="Liberation Sans" font-size="9.08" textLength="9.67" lengthAdjust="spacingAndGlyphs" fill="#3c3c3c">50</text>
<circle cx="473.75" cy="295.45" r="1.40" fill="#111"/>
<text x="460.48" y="303.88" font-family="Liberation Sans" font-size="9.08" textLength="9.49" lengthAdjust="spacingAndGlyphs" fill="#3c3c3c">40</text>
<circle cx="513.98" cy="310.73" r="1.40" fill="#111"/>
<text x="500.53" y="319.16" font-family="Liberation Sans" font-size="9.08" textLength="9.67" lengthAdjust="spacingAndGlyphs" fill="#3c3c3c">30</text>
<circle cx="554.20" cy="326.00" r="1.40" fill="#111"/>
<text x="540.66" y="334.43" font-family="Liberation Sans" font-size="9.08" textLength="9.77" lengthAdjust="spacingAndGlyphs" fill="#3c3c3c">20</text>
<circle cx="554.20" cy="326.00" r="1.40" fill="#111"/>
<text x="558.05" y="334.43" font-family="Liberation Sans" font-size="9.08" textLength="14.49" lengthAdjust="spacingAndGlyphs" fill="#3c3c3c">100</text>
<circle cx="571.10" cy="306.36" r="1.40" fill="#111"/>
<text x="575.21" y="314.79" font-family="Liberation Sans" font-size="9.08" textLength="9.72" lengthAdjust="spacingAndGlyphs" fill="#3c3c3c">90</text>
<circle cx="588.00" cy="286.72" r="1.40" fill="#111"/>
<text x="592.11" y="295.15" font-family="Liberation Sans" font-size="9.08" textLength="9.72" lengthAdjust="spacingAndGlyphs" fill="#3c3c3c">80</text>
<circle cx="604.90" cy="267.08" r="1.40" fill="#111"/>
<text x="608.96" y="275.51" font-family="Liberation Sans" font-size="9.08" textLength="9.77" lengthAdjust="spacingAndGlyphs" fill="#3c3c3c">70</text>
<circle cx="621.80" cy="247.44" r="1.40" fill="#111"/>
<text x="625.86" y="255.87" font-family="Liberation Sans" font-size="9.08" textLength="9.77" lengthAdjust="spacingAndGlyphs" fill="#3c3c3c">60</text>
<circle cx="638.70" cy="227.80" r="1.40" fill="#111"/>
<text x="642.85" y="236.23" font-family="Liberation Sans" font-size="9.08" textLength="9.67" lengthAdjust="spacingAndGlyphs" fill="#3c3c3c">50</text>
<text x="389.94" y="338.90" font-family="Liberation Sans" font-size="11.30" textLength="94.62" lengthAdjust="spacingAndGlyphs" fill="#333">B: AOME Blend (%)</text>
<text x="616.04" y="303.30" font-family="Liberation Sans" font-size="11.30" textLength="69.57" lengthAdjust="spacingAndGlyphs" fill="#333">C: CuO (ppm)</text>
<text transform="translate(346.40,186.80) rotate(-90)" x="-28.14" y="0" font-size="11.30" textLength="56.28" lengthAdjust="spacingAndGlyphs" fill="#333">NoX (ppm)</text>
<circle cx="489.00" cy="91.40" r="3.20" fill="#c00000" stroke="#700" stroke-width="0.6"/>
<circle cx="518.90" cy="122.70" r="3.20" fill="#c00000" stroke="#700" stroke-width="0.6"/>
<circle cx="646.40" cy="126.80" r="3.20" fill="#c00000" stroke="#700" stroke-width="0.6"/>
<circle cx="555.90" cy="235.60" r="3.20" fill="#c00000" stroke="#700" stroke-width="0.6"/>
<circle cx="384.80" cy="167.60" r="3.20" fill="#f6bcbc" stroke="#d9a0a0" stroke-width="0.6"/>
<defs><linearGradient id="lg" x1="0" x2="1" y1="0" y2="0">
<stop offset="0" stop-color="#0000ff"/><stop offset="0.5" stop-color="#00ff00"/><stop offset="1" stop-color="#ff0000"/></linearGradient></defs>
<rect x="31.5" y="0.5" width="89.7" height="47.2" fill="#fff" stroke="#bdbdbd" stroke-width="1"/>
<rect x="52.3" y="31.1" width="32.6" height="12.5" fill="url(#lg)"/>
<rect x="353.2" y="7.9" width="89.7" height="47.5" fill="#fff" stroke="#cfcfcf" stroke-width="1"/>
<rect x="381.9" y="38" width="32.2" height="12.5" fill="url(#lg)"/>
<text x="33.09" y="26.40" font-family="Liberation Serif" font-weight="bold" font-size="10.10" textLength="49.73" lengthAdjust="spacingAndGlyphs" fill="#111">NoX (ppm)</text>
<text x="32.83" y="40.09" font-family="Liberation Serif" font-size="10.81" textLength="15.69" lengthAdjust="spacingAndGlyphs" fill="#3c3cff">258</text>
<text x="88.32" y="40.09" font-family="Liberation Serif" font-size="10.90" textLength="15.59" lengthAdjust="spacingAndGlyphs" fill="#ff2a3c">797</text>
<text x="355.09" y="33.20" font-family="Liberation Serif" font-weight="bold" font-size="10.30" textLength="49.73" lengthAdjust="spacingAndGlyphs" fill="#111">NoX (ppm)</text>
<text x="354.83" y="47.35" font-family="Liberation Serif" font-size="10.30" textLength="23.69" lengthAdjust="spacingAndGlyphs" fill="#3c3cff">363.6</text>
<text x="417.32" y="47.35" font-family="Liberation Serif" font-size="10.30" textLength="23.50" lengthAdjust="spacingAndGlyphs" fill="#ff2a3c">777.5</text>
<text x="102.36" y="400.70" font-family="Liberation Serif" font-size="20.00" textLength="23.18" lengthAdjust="spacingAndGlyphs" fill="#000">(a)</text>
<text x="589.67" y="401.20" font-family="Liberation Serif" font-size="20.00" textLength="24.19" lengthAdjust="spacingAndGlyphs" fill="#000">(b)</text>
</svg>
</body></html>
